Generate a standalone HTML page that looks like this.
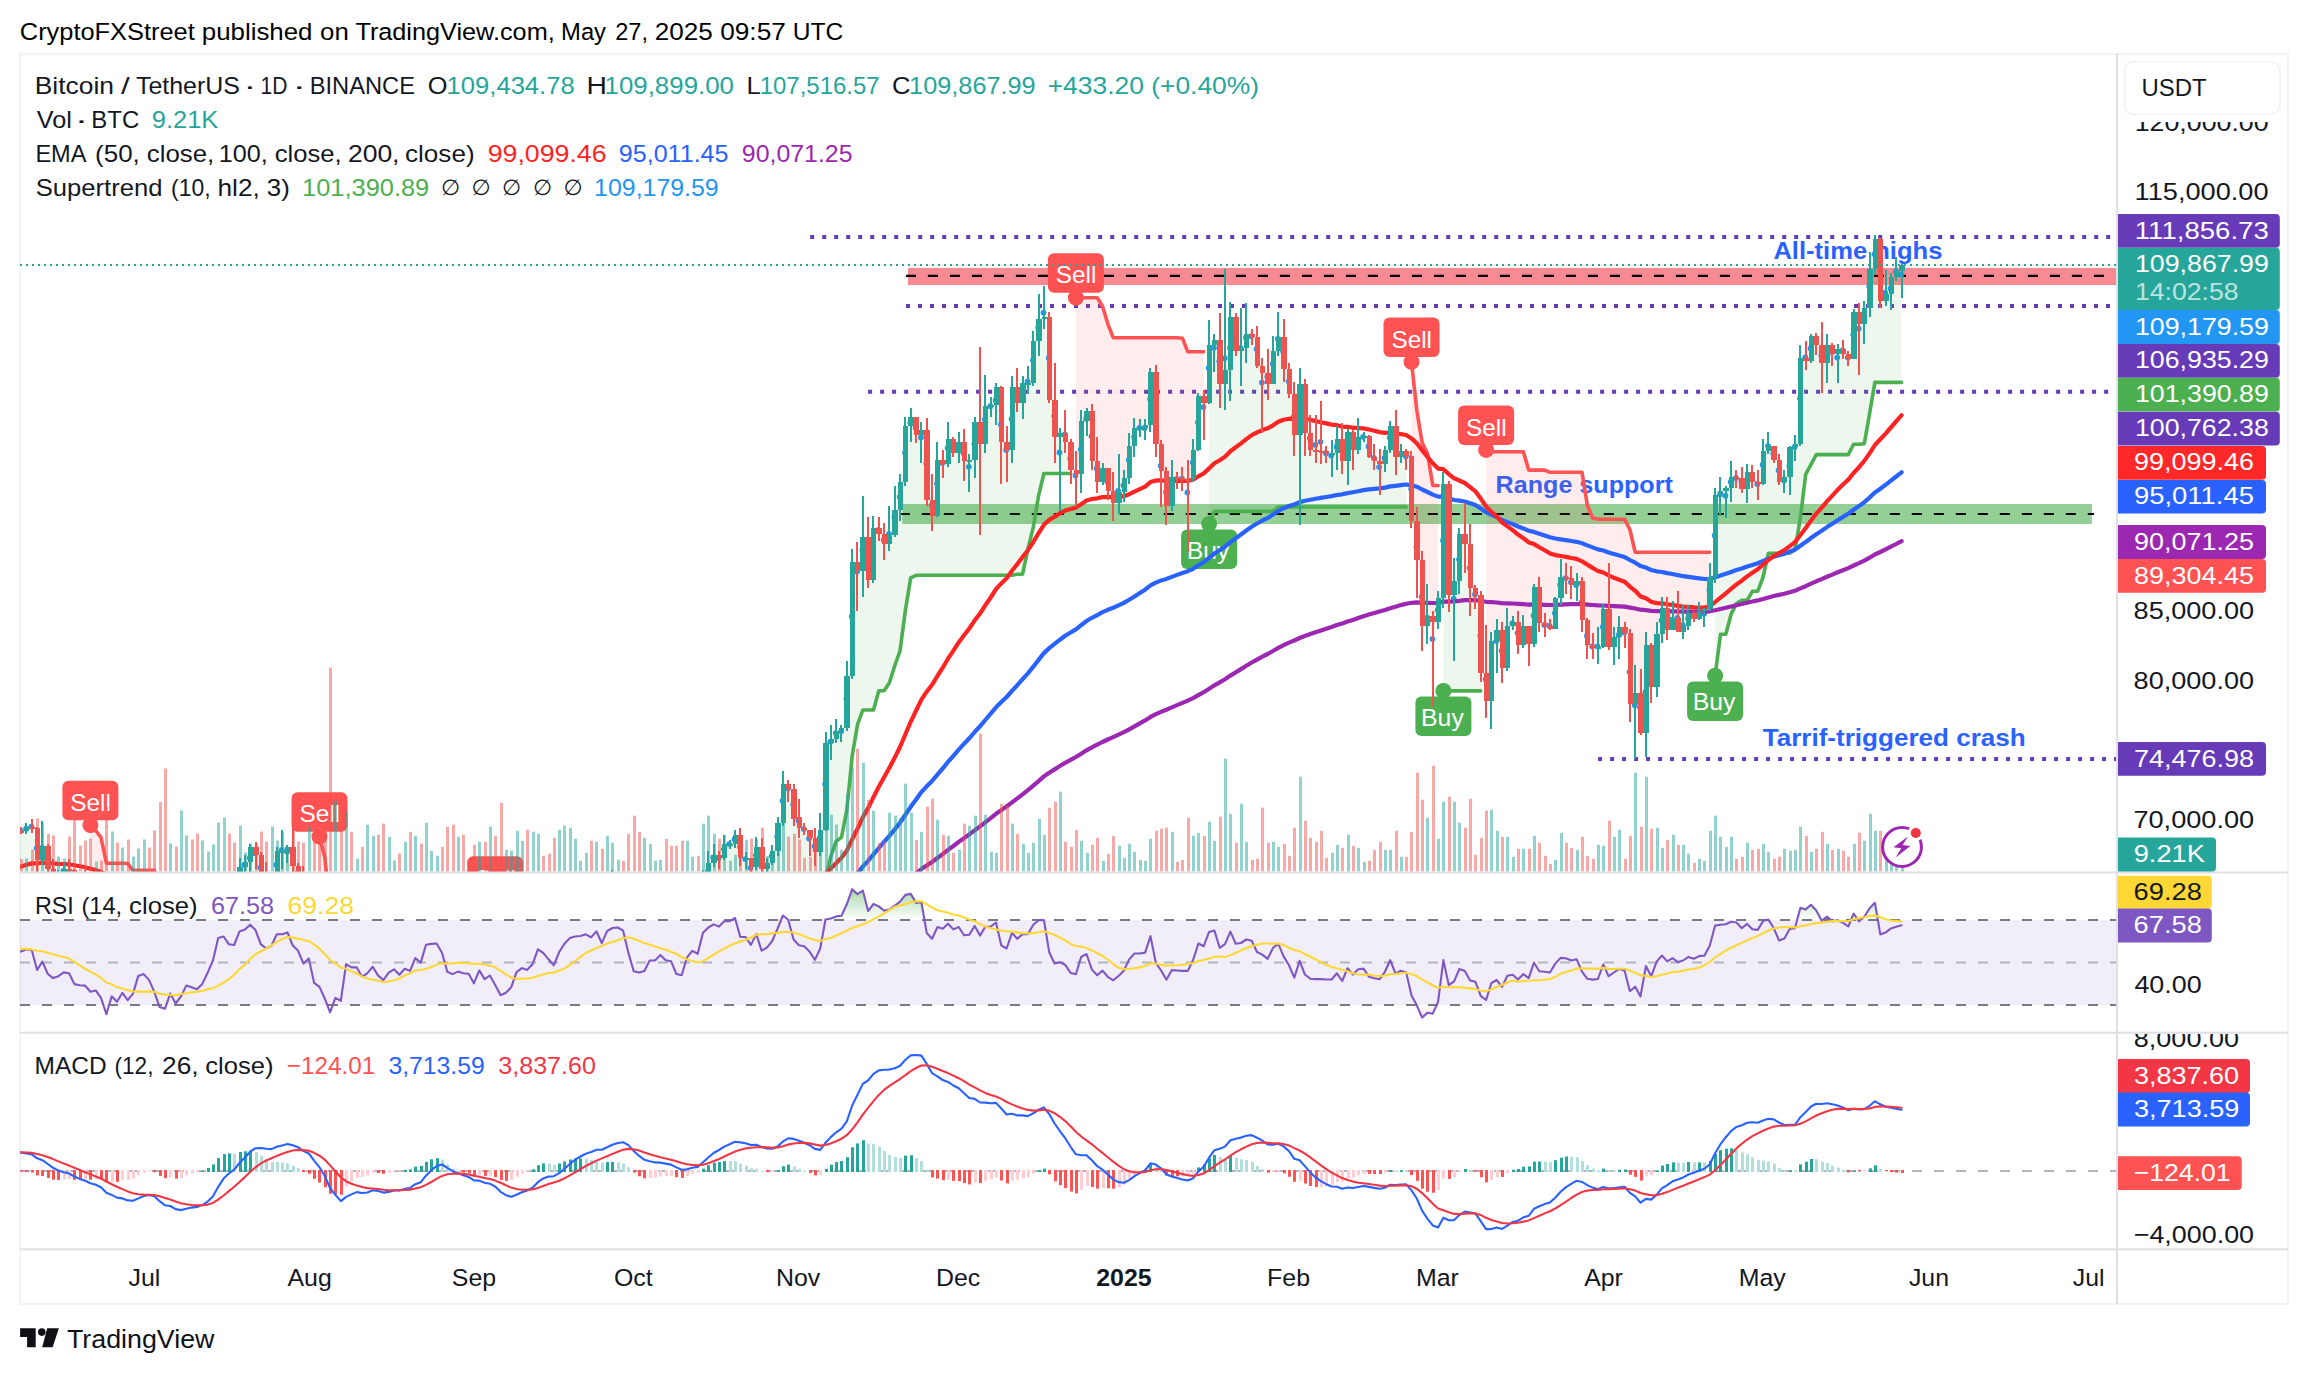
<!DOCTYPE html>
<html lang="en"><head><meta charset="utf-8"><title>BTCUSDT chart</title>
<style>html,body{margin:0;padding:0;background:#fff}body{width:2308px;height:1374px;overflow:hidden}</style></head>
<body>
<svg width="2308" height="1374" viewBox="0 0 2308 1374" font-family="'Liberation Sans', sans-serif" style="display:block">
<rect width="2308" height="1374" fill="#fff"/>
<defs>
<clipPath id="cm"><rect x="20" y="55" width="2097" height="817"/></clipPath>
<clipPath id="cr"><rect x="20" y="874" width="2097" height="158"/></clipPath>
<clipPath id="cd"><rect x="20" y="1034" width="2097" height="215"/></clipPath>
<clipPath id="ca"><rect x="2118" y="122" width="170" height="750"/></clipPath>
<clipPath id="ca3"><rect x="2118" y="1034" width="170" height="215"/></clipPath>
<linearGradient id="gob" gradientUnits="userSpaceOnUse" x1="0" y1="856.2" x2="0" y2="920"><stop offset="0" stop-color="#4caf50" stop-opacity="1"/><stop offset="1" stop-color="#4caf50" stop-opacity="0"/></linearGradient>
<linearGradient id="gos" gradientUnits="userSpaceOnUse" x1="0" y1="1005" x2="0" y2="1068.8"><stop offset="0" stop-color="#ff5252" stop-opacity="0"/><stop offset="1" stop-color="#ff5252" stop-opacity="1"/></linearGradient>
</defs>
<text x="19.8" y="40" font-size="24.5" fill="#000" textLength="175" lengthAdjust="spacingAndGlyphs">CryptoFXStreet</text>
<text x="201.8" y="40" font-size="24.5" fill="#000" textLength="110.7" lengthAdjust="spacingAndGlyphs">published</text>
<text x="320.1" y="40" font-size="24.5" fill="#000" textLength="28.7" lengthAdjust="spacingAndGlyphs">on</text>
<text x="355.4" y="40" font-size="24.5" fill="#000" textLength="199.3" lengthAdjust="spacingAndGlyphs">TradingView.com,</text>
<text x="561.1" y="40" font-size="24.5" fill="#000" textLength="44.9" lengthAdjust="spacingAndGlyphs">May</text>
<text x="615.2" y="40" font-size="24.5" fill="#000" textLength="32.8" lengthAdjust="spacingAndGlyphs">27,</text>
<text x="654.7" y="40" font-size="24.5" fill="#000" textLength="58.1" lengthAdjust="spacingAndGlyphs">2025</text>
<text x="720.2" y="40" font-size="24.5" fill="#000" textLength="65.6" lengthAdjust="spacingAndGlyphs">09:57</text>
<text x="792.7" y="40" font-size="24.5" fill="#000" textLength="50.5" lengthAdjust="spacingAndGlyphs">UTC</text>
<rect x="20.2" y="54.2" width="2267.8" height="1249.7" fill="#fff" stroke="#f1f2f4" stroke-width="2"/>
<g clip-path="url(#cm)">
<rect x="907.9" y="267.9" width="1208.3" height="17.1" fill="#f23645" fill-opacity="0.58"/>
<line x1="905.9" y1="275.9" x2="2116" y2="275.9" stroke="#000" stroke-width="2.2" stroke-dasharray="10.1 11.9"/>
<rect x="902.3" y="504" width="1189.6" height="20" fill="#4caf50" fill-opacity="0.6"/>
<line x1="901" y1="514" x2="2094" y2="514" stroke="#000" stroke-width="2.2" stroke-dasharray="10.1 11.9" stroke-dashoffset="1.2"/>
<line x1="810.2" y1="237" x2="2114" y2="237" stroke="#673ab7" stroke-width="4" stroke-dasharray="4 8"/>
<line x1="906" y1="306" x2="2114" y2="306" stroke="#673ab7" stroke-width="4" stroke-dasharray="4 8"/>
<line x1="868.1" y1="391.7" x2="2114" y2="391.7" stroke="#673ab7" stroke-width="4" stroke-dasharray="4 8"/>
<line x1="1598.1" y1="758.9" x2="2116" y2="758.9" stroke="#673ab7" stroke-width="4" stroke-dasharray="4 8"/>
<text x="1773.4" y="258.5" font-size="24.5" fill="#2962ff" font-weight="bold" textLength="169" lengthAdjust="spacingAndGlyphs">All-time highs</text>
<text x="1495.6" y="493.2" font-size="24.5" fill="#2962ff" font-weight="bold" textLength="177.2" lengthAdjust="spacingAndGlyphs">Range support</text>
<text x="1762.7" y="746" font-size="24.5" fill="#2962ff" font-weight="bold" textLength="263" lengthAdjust="spacingAndGlyphs">Tarrif-triggered crash</text>
<polygon points="-106.7,905.1 -101.4,883.5 -96.1,875 -90.7,862.9 -85.4,869.9 -80.1,838.2 -74.7,812.7 -69.4,825.9 -64.1,844.1 -58.8,848.6 -53.4,836.1 -48.1,837.1 -42.8,832.9 -37.5,839.9 -32.1,849.3 -26.8,847.2 -21.5,850.7 -16.2,854.9 -10.8,852.5 -5.5,840.6 -0.2,825.2 5.2,808.5 10.5,808.8 15.8,819.7 21.1,830.8 26.5,828.7 31.8,826.6 37.1,848.1 42.4,847.9 47.8,858.2 53.1,874.1 58.4,875.5 63.8,871 69.1,872.4 74.4,883.5 79.7,890 85.1,888.2 85.1,893.6 79.7,893.6 74.4,893.6 69.1,893.6 63.8,893.6 58.4,893.6 53.1,893.6 47.8,893.6 42.4,893.6 37.1,893.6 31.8,893.6 26.5,893.6 21.1,893.6 15.8,893.6 10.5,893.6 5.2,893.6 -0.2,914.7 -5.5,922 -10.8,922 -16.2,922 -21.5,922 -26.8,922 -32.1,922 -37.5,922 -42.8,922 -48.1,922 -53.4,922 -58.8,922 -64.1,922 -69.4,922 -74.7,922 -80.1,945.3 -85.4,955.8 -90.7,955.8 -96.1,974.9 -101.4,985.4 -106.7,999.4" fill="#4caf50" fill-opacity="0.1"/>
<polygon points="90.4,900.3 95.7,902.7 101,908.3 106.4,942.5 111.7,947.3 117,941.5 122.4,944.4 127.7,948.5 133,953 138.3,937.6 143.7,922.2 149,926.8 154.3,946.1 159.6,980.6 165,1004.6 170.3,996.8 175.6,1004 180.9,1013.3 186.3,997.7 191.6,991.5 196.9,996.4 202.3,995.5 207.6,981.3 212.9,960.4 212.9,920.9 207.6,920.9 202.3,920.9 196.9,920.9 191.6,920.9 186.3,920.9 180.9,920.9 175.6,912 170.3,912 165,912 159.6,884.2 154.3,870.3 149,870.3 143.7,870.3 138.3,870.3 133,870.3 127.7,863.5 122.4,863.2 117,863.2 111.7,863.2 106.4,863.2 101,837.4 95.7,830.6 90.4,825.2" fill="#ff5252" fill-opacity="0.1"/>
<polygon points="218.2,922.3 223.6,899.2 228.9,894 234.2,903.8 239.5,886.3 244.9,864.7 250.2,858.1 255.5,853.2 260.9,867.5 266.2,879 271.5,888.1 276.8,864.7 282.2,850 287.5,851.4 292.8,851.4 298.1,872.7 303.5,883.9 308.8,898.9 314.1,913.6 314.1,948.3 308.8,948.3 303.5,948.3 298.1,948.3 292.8,948.3 287.5,950.3 282.2,950.3 276.8,954.3 271.5,954.3 266.2,954.3 260.9,954.3 255.5,954.3 250.2,962.7 244.9,964.6 239.5,990.2 234.2,990.2 228.9,990.2 223.6,1006.3 218.2,1019.4" fill="#4caf50" fill-opacity="0.1"/>
<polygon points="319.5,946.4 324.8,971.5 330.1,1032.9 335.4,1027.7 340.8,1019 346.1,981.3 351.4,943.6 356.7,948.2 362.1,965.8 367.4,974.7 372.7,961.4 378,967.5 383.4,986.5 388.7,986.5 394,971 399.4,977.4 404.7,976.7 410,972.1 415.3,959 420.7,951.8 420.7,906.3 415.3,906.3 410,906.3 404.7,906.3 399.4,906.3 394,906.3 388.7,906.3 383.4,906.3 378,906.3 372.7,906.3 367.4,906.3 362.1,906.3 356.7,906.3 351.4,906.3 346.1,906.3 340.8,906.3 335.4,906.3 330.1,906.3 324.8,857.5 319.5,836.7" fill="#ff5252" fill-opacity="0.1"/>
<polygon points="426,930.7 431.3,905.5 436.6,903.4 442,910.5 447.3,948.5 452.6,972.9 458,967 463.3,974.6 468.6,974.3 473.9,986.9 479.3,984.4 484.6,982.7 489.9,997.3 489.9,1005.5 484.6,1005.5 479.3,1005.5 473.9,1005.5 468.6,1005.5 463.3,1005.5 458,1005.5 452.6,1005.5 447.3,1005.5 442,1005.5 436.6,1005.5 431.3,1013.7 426,1044.1" fill="#4caf50" fill-opacity="0.1"/>
<polygon points="495.2,1002.6 500.6,1031.9 505.9,1044.7 511.2,1035.3 516.5,1016.7 521.9,999.5 527.2,996.9 532.5,993.8 537.9,971.9 543.2,957.4 548.5,967.2 553.8,980 559.2,973 559.2,940.9 553.8,940.9 548.5,940.9 543.2,940.9 537.9,940.9 532.5,940.9 527.2,940.9 521.9,940.9 516.5,940.9 511.2,940.9 505.9,940.9 500.6,922.6 495.2,900.8" fill="#ff5252" fill-opacity="0.1"/>
<polygon points="564.5,946.2 569.8,929.9 575.1,918 580.5,915.6 585.8,913.2 591.1,913.5 596.5,909.5 601.8,908.4 607.1,904.7 612.4,883.2 617.8,879.3 623.1,880.7 628.4,900.3 633.7,931.7 639.1,947.8 644.4,951.6 649.7,940.8 655.1,932.1 660.4,927.2 665.7,920.5 671,928.6 676.4,941.8 681.7,956.7 687,939.2 692.3,920.9 697.7,921.2 703,898.9 708.3,871.3 713.6,857.4 719,858.1 724.3,849.3 729.6,844.1 735,839.2 740.3,846.9 745.6,859.1 750.9,867.8 756.3,855.3 761.6,859.1 766.9,865.4 772.2,856 777.6,836.8 782.9,800.8 788.2,788.6 793.6,804.3 798.9,820.7 804.2,829.1 809.5,838.5 814.9,846.2 820.2,837.8 825.5,784.1 830.8,741.8 836.2,733.1 841.5,731.3 846.8,698.9 852.2,616.5 857.5,571.5 862.8,550.2 868.1,555.4 873.5,551.6 878.8,529.9 884.1,540.1 889.4,533.8 894.8,517 900.1,496.8 905.4,452.8 910.7,423.1 916.1,427.7 921.4,437.4 926.7,463.6 932.1,505.2 937.4,483.5 942.7,462.9 948,447.9 953.4,446.5 958.7,447.2 964,453.2 969.3,466.8 974.7,444.1 980,437.1 985.3,419.4 990.7,406.2 996,400.1 1001.3,424.5 1006.6,450 1012,418.9 1017.3,392.4 1022.6,395 1027.9,381.6 1033.3,360.3 1038.6,327.5 1043.9,312.7 1049.2,357.9 1054.6,415.8 1059.9,452.5 1065.2,434.3 1070.6,458.4 1070.6,473.5 1065.2,473.5 1059.9,473.5 1054.6,473.5 1049.2,473.5 1043.9,473.5 1038.6,495.6 1033.3,527.1 1027.9,549.3 1022.6,574.2 1017.3,574.2 1012,575.3 1006.6,575.3 1001.3,575.3 996,575.3 990.7,575.3 985.3,575.3 980,575.3 974.7,575.3 969.3,575.3 964,575.3 958.7,575.3 953.4,575.3 948,575.3 942.7,575.3 937.4,575.3 932.1,575.3 926.7,575.3 921.4,575.3 916.1,575.3 910.7,577.8 905.4,610.1 900.1,650.6 894.8,665.7 889.4,682.8 884.1,690.7 878.8,690.7 873.5,710 868.1,710 862.8,710 857.5,724.7 852.2,756 846.8,810.2 841.5,837.4 836.2,841.2 830.8,856.7 825.5,880.1 820.2,880.1 814.9,880.1 809.5,880.1 804.2,880.1 798.9,880.1 793.6,880.1 788.2,880.1 782.9,890.3 777.6,917.1 772.2,917.1 766.9,917.1 761.6,917.1 756.3,917.1 750.9,917.1 745.6,917.1 740.3,917.1 735,917.1 729.6,925.3 724.3,934.6 719,947.2 713.6,947.2 708.3,956.2 703,956.2 697.7,956.2 692.3,956.2 687,956.2 681.7,956.2 676.4,956.2 671,956.2 665.7,956.2 660.4,956.2 655.1,956.2 649.7,956.2 644.4,956.2 639.1,956.2 633.7,956.2 628.4,956.2 623.1,956.2 617.8,959.9 612.4,967.5 607.1,989.1 601.8,989.1 596.5,989.9 591.1,991.9 585.8,995.1 580.5,1000.8 575.1,1008.7 569.8,1025.2 564.5,1040.5" fill="#4caf50" fill-opacity="0.1"/>
<polygon points="1075.9,475.5 1081.2,449.3 1086.5,418.9 1091.9,436.4 1097.2,468.5 1102.5,474.4 1107.8,481.8 1113.2,496.8 1118.5,490.9 1123.8,485.3 1129.2,460.1 1134.5,437.1 1139.8,428 1145.1,428 1150.5,399.1 1155.8,409.5 1161.1,465.7 1166.4,492.2 1171.8,488.4 1177.1,479 1182.4,478.6 1187.8,492.4 1193.1,462.6 1198.4,422.4 1203.7,407.1 1203.7,351.8 1198.4,351.8 1193.1,351.8 1187.8,351.8 1182.4,338.2 1177.1,337.7 1171.8,337.7 1166.4,337.7 1161.1,337.7 1155.8,337.7 1150.5,337.7 1145.1,337.7 1139.8,337.7 1134.5,337.7 1129.2,337.7 1123.8,337.7 1118.5,337.7 1113.2,337.7 1107.8,323.8 1102.5,306.2 1097.2,297.7 1091.9,297.7 1086.5,297.7 1081.2,297.7 1075.9,297.7" fill="#ff5252" fill-opacity="0.1"/>
<polygon points="1209.1,368 1214.4,347.7 1219.7,361.4 1225,358.2 1230.4,347.7 1235.7,334.5 1241,348.1 1246.3,337.3 1251.7,336.2 1257,349.1 1262.3,382.6 1267.7,376.7 1273,363.8 1278.3,339 1283.6,351.6 1289,381.3 1294.3,416.5 1299.6,428 1304.9,413 1310.3,438.5 1315.6,444.8 1320.9,441.8 1326.3,453.2 1331.6,455.6 1336.9,446.9 1342.2,449.3 1347.6,451.8 1352.9,445.1 1358.2,439.9 1363.5,436.8 1368.9,446.5 1374.2,458 1379.5,467.1 1384.9,458 1390.2,437.4 1395.5,442 1400.8,453.9 1406.2,456.3 1406.2,507 1400.8,507 1395.5,507 1390.2,507 1384.9,507 1379.5,507 1374.2,507 1368.9,507 1363.5,507 1358.2,507 1352.9,507 1347.6,507 1342.2,507 1336.9,507 1331.6,507 1326.3,507 1320.9,507 1315.6,507 1310.3,507 1304.9,507 1299.6,507 1294.3,507 1289,507 1283.6,507 1278.3,507 1273,511.4 1267.7,511.4 1262.3,511.4 1257,511.4 1251.7,511.4 1246.3,511.4 1241,511.4 1235.7,511.4 1230.4,511.4 1225,511.4 1219.7,511.4 1214.4,511.4 1209.1,523.9" fill="#4caf50" fill-opacity="0.1"/>
<polygon points="1411.5,489.1 1416.8,546.7 1422.1,597 1427.5,617.6 1432.8,638.9 1438.1,609.9 1438.1,485.5 1432.8,485.5 1427.5,453.6 1422.1,442.6 1416.8,410.3 1411.5,361.9" fill="#ff5252" fill-opacity="0.1"/>
<polygon points="1443.4,540.4 1448.8,542.9 1454.1,598.7 1459.4,559.3 1464.8,538.3 1470.1,568 1475.4,594.5 1480.7,635.4 1480.7,690.9 1475.4,690.9 1470.1,690.9 1464.8,690.9 1459.4,690.9 1454.1,690.9 1448.8,690.9 1443.4,690.9" fill="#4caf50" fill-opacity="0.1"/>
<polygon points="1486.1,679.3 1491.4,675.8 1496.7,640.9 1502,650.7 1507.4,643 1512.7,623.5 1518,632.9 1523.4,633.6 1528.7,640.6 1534,615.5 1539.3,604.6 1544.7,624.9 1550,625.9 1555.3,613 1560.6,584.7 1566,578.1 1571.3,582.3 1576.6,585.1 1582,602.5 1587.3,635.7 1592.6,646.5 1597.9,646.5 1603.3,627 1608.6,617.2 1613.9,644.1 1619.2,635 1624.6,632.6 1629.9,672 1635.2,705.2 1640.5,707.6 1645.9,691.9 1651.2,669.6 1656.5,660.1 1661.9,620.4 1667.2,618.6 1672.5,619.7 1677.8,617.9 1683.2,625.2 1688.5,618.6 1693.8,616.2 1699.1,613 1704.5,613.7 1709.8,590 1709.8,552.3 1704.5,552.3 1699.1,552.3 1693.8,552.3 1688.5,552.3 1683.2,552.3 1677.8,552.3 1672.5,552.3 1667.2,552.3 1661.9,552.3 1656.5,552.3 1651.2,552.3 1645.9,552.3 1640.5,552.3 1635.2,552.3 1629.9,529.5 1624.6,519.3 1619.2,519.3 1613.9,519.3 1608.6,519.3 1603.3,519.3 1597.9,519.3 1592.6,518.1 1587.3,505 1582,472.3 1576.6,472.3 1571.3,472.3 1566,472.3 1560.6,472.3 1555.3,472.3 1550,472.3 1544.7,470.1 1539.3,470.1 1534,470.1 1528.7,470.1 1523.4,451.8 1518,451.8 1512.7,451.8 1507.4,451.8 1502,451.8 1496.7,451.8 1491.4,451.8 1486.1,449.9" fill="#ff5252" fill-opacity="0.1"/>
<polygon points="1715.1,535.5 1720.5,494.3 1725.8,495.7 1731.1,481.8 1736.4,477.9 1741.8,481.8 1747.1,482.1 1752.4,476.9 1757.7,483.9 1763.1,464.7 1768.4,445.8 1773.7,453.5 1779,470.3 1784.4,480.4 1789.7,466.1 1795,446.9 1800.4,398.4 1805.7,357.5 1811,348.4 1816.3,342.2 1821.7,355.8 1827,356.5 1832.3,351.9 1837.6,357.5 1843,350.5 1848.3,357.5 1853.6,334.8 1859,328.5 1864.3,319.1 1869.6,286.3 1874.9,254.3 1880.3,271.3 1885.6,292.6 1890.9,288.4 1896.2,271.5 1901.6,274.4 1901.6,382.4 1896.2,382.4 1890.9,382.4 1885.6,382.4 1880.3,382.4 1874.9,382.4 1869.6,413.5 1864.3,443.7 1859,444.3 1853.6,444.3 1848.3,454.6 1843,454.6 1837.6,454.6 1832.3,454.6 1827,454.6 1821.7,454.6 1816.3,454.6 1811,464.3 1805.7,474.4 1800.4,517.6 1795,550 1789.7,553.3 1784.4,553.3 1779,553.3 1773.7,553.3 1768.4,553.3 1763.1,577 1757.7,591.3 1752.4,591.3 1747.1,600.4 1741.8,600.4 1736.4,603.6 1731.1,614.2 1725.8,634.3 1720.5,634.3 1715.1,675.7" fill="#4caf50" fill-opacity="0.1"/>
<polyline points="-106.7,999.4 -101.4,985.4 -96.1,974.9 -90.7,955.8 -85.4,955.8 -80.1,945.3 -74.7,922 -69.4,922 -64.1,922 -58.8,922 -53.4,922 -48.1,922 -42.8,922 -37.5,922 -32.1,922 -26.8,922 -21.5,922 -16.2,922 -10.8,922 -5.5,922 -0.2,914.7 5.2,893.6 10.5,893.6 15.8,893.6 21.1,893.6 26.5,893.6 31.8,893.6 37.1,893.6 42.4,893.6 47.8,893.6 53.1,893.6 58.4,893.6 63.8,893.6 69.1,893.6 74.4,893.6 79.7,893.6 85.1,893.6" fill="none" stroke="#4caf50" stroke-width="3.6" stroke-linejoin="round" stroke-linecap="round"/>
<polyline points="90.4,825.2 95.7,830.6 101,837.4 106.4,863.2 111.7,863.2 117,863.2 122.4,863.2 127.7,863.5 133,870.3 138.3,870.3 143.7,870.3 149,870.3 154.3,870.3 159.6,884.2 165,912 170.3,912 175.6,912 180.9,920.9 186.3,920.9 191.6,920.9 196.9,920.9 202.3,920.9 207.6,920.9 212.9,920.9" fill="none" stroke="#ff5252" stroke-width="3.6" stroke-linejoin="round" stroke-linecap="round"/>
<polyline points="218.2,1019.4 223.6,1006.3 228.9,990.2 234.2,990.2 239.5,990.2 244.9,964.6 250.2,962.7 255.5,954.3 260.9,954.3 266.2,954.3 271.5,954.3 276.8,954.3 282.2,950.3 287.5,950.3 292.8,948.3 298.1,948.3 303.5,948.3 308.8,948.3 314.1,948.3" fill="none" stroke="#4caf50" stroke-width="3.6" stroke-linejoin="round" stroke-linecap="round"/>
<polyline points="319.5,836.7 324.8,857.5 330.1,906.3 335.4,906.3 340.8,906.3 346.1,906.3 351.4,906.3 356.7,906.3 362.1,906.3 367.4,906.3 372.7,906.3 378,906.3 383.4,906.3 388.7,906.3 394,906.3 399.4,906.3 404.7,906.3 410,906.3 415.3,906.3 420.7,906.3" fill="none" stroke="#ff5252" stroke-width="3.6" stroke-linejoin="round" stroke-linecap="round"/>
<polyline points="426,1044.1 431.3,1013.7 436.6,1005.5 442,1005.5 447.3,1005.5 452.6,1005.5 458,1005.5 463.3,1005.5 468.6,1005.5 473.9,1005.5 479.3,1005.5 484.6,1005.5 489.9,1005.5" fill="none" stroke="#4caf50" stroke-width="3.6" stroke-linejoin="round" stroke-linecap="round"/>
<polyline points="495.2,900.8 500.6,922.6 505.9,940.9 511.2,940.9 516.5,940.9 521.9,940.9 527.2,940.9 532.5,940.9 537.9,940.9 543.2,940.9 548.5,940.9 553.8,940.9 559.2,940.9" fill="none" stroke="#ff5252" stroke-width="3.6" stroke-linejoin="round" stroke-linecap="round"/>
<polyline points="564.5,1040.5 569.8,1025.2 575.1,1008.7 580.5,1000.8 585.8,995.1 591.1,991.9 596.5,989.9 601.8,989.1 607.1,989.1 612.4,967.5 617.8,959.9 623.1,956.2 628.4,956.2 633.7,956.2 639.1,956.2 644.4,956.2 649.7,956.2 655.1,956.2 660.4,956.2 665.7,956.2 671,956.2 676.4,956.2 681.7,956.2 687,956.2 692.3,956.2 697.7,956.2 703,956.2 708.3,956.2 713.6,947.2 719,947.2 724.3,934.6 729.6,925.3 735,917.1 740.3,917.1 745.6,917.1 750.9,917.1 756.3,917.1 761.6,917.1 766.9,917.1 772.2,917.1 777.6,917.1 782.9,890.3 788.2,880.1 793.6,880.1 798.9,880.1 804.2,880.1 809.5,880.1 814.9,880.1 820.2,880.1 825.5,880.1 830.8,856.7 836.2,841.2 841.5,837.4 846.8,810.2 852.2,756 857.5,724.7 862.8,710 868.1,710 873.5,710 878.8,690.7 884.1,690.7 889.4,682.8 894.8,665.7 900.1,650.6 905.4,610.1 910.7,577.8 916.1,575.3 921.4,575.3 926.7,575.3 932.1,575.3 937.4,575.3 942.7,575.3 948,575.3 953.4,575.3 958.7,575.3 964,575.3 969.3,575.3 974.7,575.3 980,575.3 985.3,575.3 990.7,575.3 996,575.3 1001.3,575.3 1006.6,575.3 1012,575.3 1017.3,574.2 1022.6,574.2 1027.9,549.3 1033.3,527.1 1038.6,495.6 1043.9,473.5 1049.2,473.5 1054.6,473.5 1059.9,473.5 1065.2,473.5 1070.6,473.5" fill="none" stroke="#4caf50" stroke-width="3.6" stroke-linejoin="round" stroke-linecap="round"/>
<polyline points="1075.9,297.7 1081.2,297.7 1086.5,297.7 1091.9,297.7 1097.2,297.7 1102.5,306.2 1107.8,323.8 1113.2,337.7 1118.5,337.7 1123.8,337.7 1129.2,337.7 1134.5,337.7 1139.8,337.7 1145.1,337.7 1150.5,337.7 1155.8,337.7 1161.1,337.7 1166.4,337.7 1171.8,337.7 1177.1,337.7 1182.4,338.2 1187.8,351.8 1193.1,351.8 1198.4,351.8 1203.7,351.8" fill="none" stroke="#ff5252" stroke-width="3.6" stroke-linejoin="round" stroke-linecap="round"/>
<polyline points="1209.1,523.9 1214.4,511.4 1219.7,511.4 1225,511.4 1230.4,511.4 1235.7,511.4 1241,511.4 1246.3,511.4 1251.7,511.4 1257,511.4 1262.3,511.4 1267.7,511.4 1273,511.4 1278.3,507 1283.6,507 1289,507 1294.3,507 1299.6,507 1304.9,507 1310.3,507 1315.6,507 1320.9,507 1326.3,507 1331.6,507 1336.9,507 1342.2,507 1347.6,507 1352.9,507 1358.2,507 1363.5,507 1368.9,507 1374.2,507 1379.5,507 1384.9,507 1390.2,507 1395.5,507 1400.8,507 1406.2,507" fill="none" stroke="#4caf50" stroke-width="3.6" stroke-linejoin="round" stroke-linecap="round"/>
<polyline points="1411.5,361.9 1416.8,410.3 1422.1,442.6 1427.5,453.6 1432.8,485.5 1438.1,485.5" fill="none" stroke="#ff5252" stroke-width="3.6" stroke-linejoin="round" stroke-linecap="round"/>
<polyline points="1443.4,690.9 1448.8,690.9 1454.1,690.9 1459.4,690.9 1464.8,690.9 1470.1,690.9 1475.4,690.9 1480.7,690.9" fill="none" stroke="#4caf50" stroke-width="3.6" stroke-linejoin="round" stroke-linecap="round"/>
<polyline points="1486.1,449.9 1491.4,451.8 1496.7,451.8 1502,451.8 1507.4,451.8 1512.7,451.8 1518,451.8 1523.4,451.8 1528.7,470.1 1534,470.1 1539.3,470.1 1544.7,470.1 1550,472.3 1555.3,472.3 1560.6,472.3 1566,472.3 1571.3,472.3 1576.6,472.3 1582,472.3 1587.3,505 1592.6,518.1 1597.9,519.3 1603.3,519.3 1608.6,519.3 1613.9,519.3 1619.2,519.3 1624.6,519.3 1629.9,529.5 1635.2,552.3 1640.5,552.3 1645.9,552.3 1651.2,552.3 1656.5,552.3 1661.9,552.3 1667.2,552.3 1672.5,552.3 1677.8,552.3 1683.2,552.3 1688.5,552.3 1693.8,552.3 1699.1,552.3 1704.5,552.3 1709.8,552.3" fill="none" stroke="#ff5252" stroke-width="3.6" stroke-linejoin="round" stroke-linecap="round"/>
<polyline points="1715.1,675.7 1720.5,634.3 1725.8,634.3 1731.1,614.2 1736.4,603.6 1741.8,600.4 1747.1,600.4 1752.4,591.3 1757.7,591.3 1763.1,577 1768.4,553.3 1773.7,553.3 1779,553.3 1784.4,553.3 1789.7,553.3 1795,550 1800.4,517.6 1805.7,474.4 1811,464.3 1816.3,454.6 1821.7,454.6 1827,454.6 1832.3,454.6 1837.6,454.6 1843,454.6 1848.3,454.6 1853.6,444.3 1859,444.3 1864.3,443.7 1869.6,413.5 1874.9,382.4 1880.3,382.4 1885.6,382.4 1890.9,382.4 1896.2,382.4 1901.6,382.4" fill="none" stroke="#4caf50" stroke-width="3.6" stroke-linejoin="round" stroke-linecap="round"/>
<circle cx="20.7" cy="830.8" r="2.9" fill="#2196f3"/>
<circle cx="26.1" cy="828.7" r="2.9" fill="#2196f3"/>
<circle cx="31.4" cy="826.6" r="2.9" fill="#2196f3"/>
<circle cx="36.7" cy="848.1" r="2.9" fill="#2196f3"/>
<circle cx="42" cy="847.9" r="2.9" fill="#2196f3"/>
<circle cx="47.4" cy="858.2" r="2.9" fill="#2196f3"/>
<circle cx="52.7" cy="874.1" r="2.9" fill="#2196f3"/>
<circle cx="58" cy="875.5" r="2.9" fill="#2196f3"/>
<circle cx="63.4" cy="871" r="2.9" fill="#2196f3"/>
<circle cx="68.7" cy="872.4" r="2.9" fill="#2196f3"/>
<circle cx="74" cy="883.5" r="2.9" fill="#2196f3"/>
<circle cx="79.3" cy="890" r="2.9" fill="#2196f3"/>
<circle cx="84.7" cy="888.2" r="2.9" fill="#2196f3"/>
<circle cx="90" cy="900.3" r="2.9" fill="#2196f3"/>
<circle cx="95.3" cy="902.7" r="2.9" fill="#2196f3"/>
<circle cx="100.6" cy="908.3" r="2.9" fill="#2196f3"/>
<circle cx="106" cy="942.5" r="2.9" fill="#2196f3"/>
<circle cx="111.3" cy="947.3" r="2.9" fill="#2196f3"/>
<circle cx="116.6" cy="941.5" r="2.9" fill="#2196f3"/>
<circle cx="122" cy="944.4" r="2.9" fill="#2196f3"/>
<circle cx="127.3" cy="948.5" r="2.9" fill="#2196f3"/>
<circle cx="132.6" cy="953" r="2.9" fill="#2196f3"/>
<circle cx="137.9" cy="937.6" r="2.9" fill="#2196f3"/>
<circle cx="143.3" cy="922.2" r="2.9" fill="#2196f3"/>
<circle cx="148.6" cy="926.8" r="2.9" fill="#2196f3"/>
<circle cx="153.9" cy="946.1" r="2.9" fill="#2196f3"/>
<circle cx="159.2" cy="980.6" r="2.9" fill="#2196f3"/>
<circle cx="164.6" cy="1004.6" r="2.9" fill="#2196f3"/>
<circle cx="169.9" cy="996.8" r="2.9" fill="#2196f3"/>
<circle cx="175.2" cy="1004" r="2.9" fill="#2196f3"/>
<circle cx="180.5" cy="1013.3" r="2.9" fill="#2196f3"/>
<circle cx="185.9" cy="997.7" r="2.9" fill="#2196f3"/>
<circle cx="191.2" cy="991.5" r="2.9" fill="#2196f3"/>
<circle cx="196.5" cy="996.4" r="2.9" fill="#2196f3"/>
<circle cx="201.9" cy="995.5" r="2.9" fill="#2196f3"/>
<circle cx="207.2" cy="981.3" r="2.9" fill="#2196f3"/>
<circle cx="212.5" cy="960.4" r="2.9" fill="#2196f3"/>
<circle cx="217.8" cy="922.3" r="2.9" fill="#2196f3"/>
<circle cx="223.2" cy="899.2" r="2.9" fill="#2196f3"/>
<circle cx="228.5" cy="894" r="2.9" fill="#2196f3"/>
<circle cx="233.8" cy="903.8" r="2.9" fill="#2196f3"/>
<circle cx="239.1" cy="886.3" r="2.9" fill="#2196f3"/>
<circle cx="244.5" cy="864.7" r="2.9" fill="#2196f3"/>
<circle cx="249.8" cy="858.1" r="2.9" fill="#2196f3"/>
<circle cx="255.1" cy="853.2" r="2.9" fill="#2196f3"/>
<circle cx="260.5" cy="867.5" r="2.9" fill="#2196f3"/>
<circle cx="265.8" cy="879" r="2.9" fill="#2196f3"/>
<circle cx="271.1" cy="888.1" r="2.9" fill="#2196f3"/>
<circle cx="276.4" cy="864.7" r="2.9" fill="#2196f3"/>
<circle cx="281.8" cy="850" r="2.9" fill="#2196f3"/>
<circle cx="287.1" cy="851.4" r="2.9" fill="#2196f3"/>
<circle cx="292.4" cy="851.4" r="2.9" fill="#2196f3"/>
<circle cx="297.7" cy="872.7" r="2.9" fill="#2196f3"/>
<circle cx="303.1" cy="883.9" r="2.9" fill="#2196f3"/>
<circle cx="308.4" cy="898.9" r="2.9" fill="#2196f3"/>
<circle cx="313.7" cy="913.6" r="2.9" fill="#2196f3"/>
<circle cx="319.1" cy="946.4" r="2.9" fill="#2196f3"/>
<circle cx="324.4" cy="971.5" r="2.9" fill="#2196f3"/>
<circle cx="329.7" cy="1032.9" r="2.9" fill="#2196f3"/>
<circle cx="335" cy="1027.7" r="2.9" fill="#2196f3"/>
<circle cx="340.4" cy="1019" r="2.9" fill="#2196f3"/>
<circle cx="345.7" cy="981.3" r="2.9" fill="#2196f3"/>
<circle cx="351" cy="943.6" r="2.9" fill="#2196f3"/>
<circle cx="356.3" cy="948.2" r="2.9" fill="#2196f3"/>
<circle cx="361.7" cy="965.8" r="2.9" fill="#2196f3"/>
<circle cx="367" cy="974.7" r="2.9" fill="#2196f3"/>
<circle cx="372.3" cy="961.4" r="2.9" fill="#2196f3"/>
<circle cx="377.6" cy="967.5" r="2.9" fill="#2196f3"/>
<circle cx="383" cy="986.5" r="2.9" fill="#2196f3"/>
<circle cx="388.3" cy="986.5" r="2.9" fill="#2196f3"/>
<circle cx="393.6" cy="971" r="2.9" fill="#2196f3"/>
<circle cx="399" cy="977.4" r="2.9" fill="#2196f3"/>
<circle cx="404.3" cy="976.7" r="2.9" fill="#2196f3"/>
<circle cx="409.6" cy="972.1" r="2.9" fill="#2196f3"/>
<circle cx="414.9" cy="959" r="2.9" fill="#2196f3"/>
<circle cx="420.3" cy="951.8" r="2.9" fill="#2196f3"/>
<circle cx="425.6" cy="930.7" r="2.9" fill="#2196f3"/>
<circle cx="430.9" cy="905.5" r="2.9" fill="#2196f3"/>
<circle cx="436.2" cy="903.4" r="2.9" fill="#2196f3"/>
<circle cx="441.6" cy="910.5" r="2.9" fill="#2196f3"/>
<circle cx="446.9" cy="948.5" r="2.9" fill="#2196f3"/>
<circle cx="452.2" cy="972.9" r="2.9" fill="#2196f3"/>
<circle cx="457.6" cy="967" r="2.9" fill="#2196f3"/>
<circle cx="462.9" cy="974.6" r="2.9" fill="#2196f3"/>
<circle cx="468.2" cy="974.3" r="2.9" fill="#2196f3"/>
<circle cx="473.5" cy="986.9" r="2.9" fill="#2196f3"/>
<circle cx="478.9" cy="984.4" r="2.9" fill="#2196f3"/>
<circle cx="484.2" cy="982.7" r="2.9" fill="#2196f3"/>
<circle cx="489.5" cy="997.3" r="2.9" fill="#2196f3"/>
<circle cx="494.8" cy="1002.6" r="2.9" fill="#2196f3"/>
<circle cx="500.2" cy="1031.9" r="2.9" fill="#2196f3"/>
<circle cx="505.5" cy="1044.7" r="2.9" fill="#2196f3"/>
<circle cx="510.8" cy="1035.3" r="2.9" fill="#2196f3"/>
<circle cx="516.1" cy="1016.7" r="2.9" fill="#2196f3"/>
<circle cx="521.5" cy="999.5" r="2.9" fill="#2196f3"/>
<circle cx="526.8" cy="996.9" r="2.9" fill="#2196f3"/>
<circle cx="532.1" cy="993.8" r="2.9" fill="#2196f3"/>
<circle cx="537.5" cy="971.9" r="2.9" fill="#2196f3"/>
<circle cx="542.8" cy="957.4" r="2.9" fill="#2196f3"/>
<circle cx="548.1" cy="967.2" r="2.9" fill="#2196f3"/>
<circle cx="553.4" cy="980" r="2.9" fill="#2196f3"/>
<circle cx="558.8" cy="973" r="2.9" fill="#2196f3"/>
<circle cx="564.1" cy="946.2" r="2.9" fill="#2196f3"/>
<circle cx="569.4" cy="929.9" r="2.9" fill="#2196f3"/>
<circle cx="574.7" cy="918" r="2.9" fill="#2196f3"/>
<circle cx="580.1" cy="915.6" r="2.9" fill="#2196f3"/>
<circle cx="585.4" cy="913.2" r="2.9" fill="#2196f3"/>
<circle cx="590.7" cy="913.5" r="2.9" fill="#2196f3"/>
<circle cx="596.1" cy="909.5" r="2.9" fill="#2196f3"/>
<circle cx="601.4" cy="908.4" r="2.9" fill="#2196f3"/>
<circle cx="606.7" cy="904.7" r="2.9" fill="#2196f3"/>
<circle cx="612" cy="883.2" r="2.9" fill="#2196f3"/>
<circle cx="617.4" cy="879.3" r="2.9" fill="#2196f3"/>
<circle cx="622.7" cy="880.7" r="2.9" fill="#2196f3"/>
<circle cx="628" cy="900.3" r="2.9" fill="#2196f3"/>
<circle cx="633.3" cy="931.7" r="2.9" fill="#2196f3"/>
<circle cx="638.7" cy="947.8" r="2.9" fill="#2196f3"/>
<circle cx="644" cy="951.6" r="2.9" fill="#2196f3"/>
<circle cx="649.3" cy="940.8" r="2.9" fill="#2196f3"/>
<circle cx="654.7" cy="932.1" r="2.9" fill="#2196f3"/>
<circle cx="660" cy="927.2" r="2.9" fill="#2196f3"/>
<circle cx="665.3" cy="920.5" r="2.9" fill="#2196f3"/>
<circle cx="670.6" cy="928.6" r="2.9" fill="#2196f3"/>
<circle cx="676" cy="941.8" r="2.9" fill="#2196f3"/>
<circle cx="681.3" cy="956.7" r="2.9" fill="#2196f3"/>
<circle cx="686.6" cy="939.2" r="2.9" fill="#2196f3"/>
<circle cx="691.9" cy="920.9" r="2.9" fill="#2196f3"/>
<circle cx="697.3" cy="921.2" r="2.9" fill="#2196f3"/>
<circle cx="702.6" cy="898.9" r="2.9" fill="#2196f3"/>
<circle cx="707.9" cy="871.3" r="2.9" fill="#2196f3"/>
<circle cx="713.2" cy="857.4" r="2.9" fill="#2196f3"/>
<circle cx="718.6" cy="858.1" r="2.9" fill="#2196f3"/>
<circle cx="723.9" cy="849.3" r="2.9" fill="#2196f3"/>
<circle cx="729.2" cy="844.1" r="2.9" fill="#2196f3"/>
<circle cx="734.6" cy="839.2" r="2.9" fill="#2196f3"/>
<circle cx="739.9" cy="846.9" r="2.9" fill="#2196f3"/>
<circle cx="745.2" cy="859.1" r="2.9" fill="#2196f3"/>
<circle cx="750.5" cy="867.8" r="2.9" fill="#2196f3"/>
<circle cx="755.9" cy="855.3" r="2.9" fill="#2196f3"/>
<circle cx="761.2" cy="859.1" r="2.9" fill="#2196f3"/>
<circle cx="766.5" cy="865.4" r="2.9" fill="#2196f3"/>
<circle cx="771.8" cy="856" r="2.9" fill="#2196f3"/>
<circle cx="777.2" cy="836.8" r="2.9" fill="#2196f3"/>
<circle cx="782.5" cy="800.8" r="2.9" fill="#2196f3"/>
<circle cx="787.8" cy="788.6" r="2.9" fill="#2196f3"/>
<circle cx="793.2" cy="804.3" r="2.9" fill="#2196f3"/>
<circle cx="798.5" cy="820.7" r="2.9" fill="#2196f3"/>
<circle cx="803.8" cy="829.1" r="2.9" fill="#2196f3"/>
<circle cx="809.1" cy="838.5" r="2.9" fill="#2196f3"/>
<circle cx="814.5" cy="846.2" r="2.9" fill="#2196f3"/>
<circle cx="819.8" cy="837.8" r="2.9" fill="#2196f3"/>
<circle cx="825.1" cy="784.1" r="2.9" fill="#2196f3"/>
<circle cx="830.4" cy="741.8" r="2.9" fill="#2196f3"/>
<circle cx="835.8" cy="733.1" r="2.9" fill="#2196f3"/>
<circle cx="841.1" cy="731.3" r="2.9" fill="#2196f3"/>
<circle cx="846.4" cy="698.9" r="2.9" fill="#2196f3"/>
<circle cx="851.8" cy="616.5" r="2.9" fill="#2196f3"/>
<circle cx="857.1" cy="571.5" r="2.9" fill="#2196f3"/>
<circle cx="862.4" cy="550.2" r="2.9" fill="#2196f3"/>
<circle cx="867.7" cy="555.4" r="2.9" fill="#2196f3"/>
<circle cx="873.1" cy="551.6" r="2.9" fill="#2196f3"/>
<circle cx="878.4" cy="529.9" r="2.9" fill="#2196f3"/>
<circle cx="883.7" cy="540.1" r="2.9" fill="#2196f3"/>
<circle cx="889" cy="533.8" r="2.9" fill="#2196f3"/>
<circle cx="894.4" cy="517" r="2.9" fill="#2196f3"/>
<circle cx="899.7" cy="496.8" r="2.9" fill="#2196f3"/>
<circle cx="905" cy="452.8" r="2.9" fill="#2196f3"/>
<circle cx="910.3" cy="423.1" r="2.9" fill="#2196f3"/>
<circle cx="915.7" cy="427.7" r="2.9" fill="#2196f3"/>
<circle cx="921" cy="437.4" r="2.9" fill="#2196f3"/>
<circle cx="926.3" cy="463.6" r="2.9" fill="#2196f3"/>
<circle cx="931.7" cy="505.2" r="2.9" fill="#2196f3"/>
<circle cx="937" cy="483.5" r="2.9" fill="#2196f3"/>
<circle cx="942.3" cy="462.9" r="2.9" fill="#2196f3"/>
<circle cx="947.6" cy="447.9" r="2.9" fill="#2196f3"/>
<circle cx="953" cy="446.5" r="2.9" fill="#2196f3"/>
<circle cx="958.3" cy="447.2" r="2.9" fill="#2196f3"/>
<circle cx="963.6" cy="453.2" r="2.9" fill="#2196f3"/>
<circle cx="968.9" cy="466.8" r="2.9" fill="#2196f3"/>
<circle cx="974.3" cy="444.1" r="2.9" fill="#2196f3"/>
<circle cx="979.6" cy="437.1" r="2.9" fill="#2196f3"/>
<circle cx="984.9" cy="419.4" r="2.9" fill="#2196f3"/>
<circle cx="990.3" cy="406.2" r="2.9" fill="#2196f3"/>
<circle cx="995.6" cy="400.1" r="2.9" fill="#2196f3"/>
<circle cx="1000.9" cy="424.5" r="2.9" fill="#2196f3"/>
<circle cx="1006.2" cy="450" r="2.9" fill="#2196f3"/>
<circle cx="1011.6" cy="418.9" r="2.9" fill="#2196f3"/>
<circle cx="1016.9" cy="392.4" r="2.9" fill="#2196f3"/>
<circle cx="1022.2" cy="395" r="2.9" fill="#2196f3"/>
<circle cx="1027.5" cy="381.6" r="2.9" fill="#2196f3"/>
<circle cx="1032.9" cy="360.3" r="2.9" fill="#2196f3"/>
<circle cx="1038.2" cy="327.5" r="2.9" fill="#2196f3"/>
<circle cx="1043.5" cy="312.7" r="2.9" fill="#2196f3"/>
<circle cx="1048.8" cy="357.9" r="2.9" fill="#2196f3"/>
<circle cx="1054.2" cy="415.8" r="2.9" fill="#2196f3"/>
<circle cx="1059.5" cy="452.5" r="2.9" fill="#2196f3"/>
<circle cx="1064.8" cy="434.3" r="2.9" fill="#2196f3"/>
<circle cx="1070.2" cy="458.4" r="2.9" fill="#2196f3"/>
<circle cx="1075.5" cy="475.5" r="2.9" fill="#2196f3"/>
<circle cx="1080.8" cy="449.3" r="2.9" fill="#2196f3"/>
<circle cx="1086.1" cy="418.9" r="2.9" fill="#2196f3"/>
<circle cx="1091.5" cy="436.4" r="2.9" fill="#2196f3"/>
<circle cx="1096.8" cy="468.5" r="2.9" fill="#2196f3"/>
<circle cx="1102.1" cy="474.4" r="2.9" fill="#2196f3"/>
<circle cx="1107.4" cy="481.8" r="2.9" fill="#2196f3"/>
<circle cx="1112.8" cy="496.8" r="2.9" fill="#2196f3"/>
<circle cx="1118.1" cy="490.9" r="2.9" fill="#2196f3"/>
<circle cx="1123.4" cy="485.3" r="2.9" fill="#2196f3"/>
<circle cx="1128.8" cy="460.1" r="2.9" fill="#2196f3"/>
<circle cx="1134.1" cy="437.1" r="2.9" fill="#2196f3"/>
<circle cx="1139.4" cy="428" r="2.9" fill="#2196f3"/>
<circle cx="1144.7" cy="428" r="2.9" fill="#2196f3"/>
<circle cx="1150.1" cy="399.1" r="2.9" fill="#2196f3"/>
<circle cx="1155.4" cy="409.5" r="2.9" fill="#2196f3"/>
<circle cx="1160.7" cy="465.7" r="2.9" fill="#2196f3"/>
<circle cx="1166" cy="492.2" r="2.9" fill="#2196f3"/>
<circle cx="1171.4" cy="488.4" r="2.9" fill="#2196f3"/>
<circle cx="1176.7" cy="479" r="2.9" fill="#2196f3"/>
<circle cx="1182" cy="478.6" r="2.9" fill="#2196f3"/>
<circle cx="1187.4" cy="492.4" r="2.9" fill="#2196f3"/>
<circle cx="1192.7" cy="462.6" r="2.9" fill="#2196f3"/>
<circle cx="1198" cy="422.4" r="2.9" fill="#2196f3"/>
<circle cx="1203.3" cy="407.1" r="2.9" fill="#2196f3"/>
<circle cx="1208.7" cy="368" r="2.9" fill="#2196f3"/>
<circle cx="1214" cy="347.7" r="2.9" fill="#2196f3"/>
<circle cx="1219.3" cy="361.4" r="2.9" fill="#2196f3"/>
<circle cx="1224.6" cy="358.2" r="2.9" fill="#2196f3"/>
<circle cx="1230" cy="347.7" r="2.9" fill="#2196f3"/>
<circle cx="1235.3" cy="334.5" r="2.9" fill="#2196f3"/>
<circle cx="1240.6" cy="348.1" r="2.9" fill="#2196f3"/>
<circle cx="1245.9" cy="337.3" r="2.9" fill="#2196f3"/>
<circle cx="1251.3" cy="336.2" r="2.9" fill="#2196f3"/>
<circle cx="1256.6" cy="349.1" r="2.9" fill="#2196f3"/>
<circle cx="1261.9" cy="382.6" r="2.9" fill="#2196f3"/>
<circle cx="1267.3" cy="376.7" r="2.9" fill="#2196f3"/>
<circle cx="1272.6" cy="363.8" r="2.9" fill="#2196f3"/>
<circle cx="1277.9" cy="339" r="2.9" fill="#2196f3"/>
<circle cx="1283.2" cy="351.6" r="2.9" fill="#2196f3"/>
<circle cx="1288.6" cy="381.3" r="2.9" fill="#2196f3"/>
<circle cx="1293.9" cy="416.5" r="2.9" fill="#2196f3"/>
<circle cx="1299.2" cy="428" r="2.9" fill="#2196f3"/>
<circle cx="1304.5" cy="413" r="2.9" fill="#2196f3"/>
<circle cx="1309.9" cy="438.5" r="2.9" fill="#2196f3"/>
<circle cx="1315.2" cy="444.8" r="2.9" fill="#2196f3"/>
<circle cx="1320.5" cy="441.8" r="2.9" fill="#2196f3"/>
<circle cx="1325.9" cy="453.2" r="2.9" fill="#2196f3"/>
<circle cx="1331.2" cy="455.6" r="2.9" fill="#2196f3"/>
<circle cx="1336.5" cy="446.9" r="2.9" fill="#2196f3"/>
<circle cx="1341.8" cy="449.3" r="2.9" fill="#2196f3"/>
<circle cx="1347.2" cy="451.8" r="2.9" fill="#2196f3"/>
<circle cx="1352.5" cy="445.1" r="2.9" fill="#2196f3"/>
<circle cx="1357.8" cy="439.9" r="2.9" fill="#2196f3"/>
<circle cx="1363.1" cy="436.8" r="2.9" fill="#2196f3"/>
<circle cx="1368.5" cy="446.5" r="2.9" fill="#2196f3"/>
<circle cx="1373.8" cy="458" r="2.9" fill="#2196f3"/>
<circle cx="1379.1" cy="467.1" r="2.9" fill="#2196f3"/>
<circle cx="1384.5" cy="458" r="2.9" fill="#2196f3"/>
<circle cx="1389.8" cy="437.4" r="2.9" fill="#2196f3"/>
<circle cx="1395.1" cy="442" r="2.9" fill="#2196f3"/>
<circle cx="1400.4" cy="453.9" r="2.9" fill="#2196f3"/>
<circle cx="1405.8" cy="456.3" r="2.9" fill="#2196f3"/>
<circle cx="1411.1" cy="489.1" r="2.9" fill="#2196f3"/>
<circle cx="1416.4" cy="546.7" r="2.9" fill="#2196f3"/>
<circle cx="1421.7" cy="597" r="2.9" fill="#2196f3"/>
<circle cx="1427.1" cy="617.6" r="2.9" fill="#2196f3"/>
<circle cx="1432.4" cy="638.9" r="2.9" fill="#2196f3"/>
<circle cx="1437.7" cy="609.9" r="2.9" fill="#2196f3"/>
<circle cx="1443" cy="540.4" r="2.9" fill="#2196f3"/>
<circle cx="1448.4" cy="542.9" r="2.9" fill="#2196f3"/>
<circle cx="1453.7" cy="598.7" r="2.9" fill="#2196f3"/>
<circle cx="1459" cy="559.3" r="2.9" fill="#2196f3"/>
<circle cx="1464.4" cy="538.3" r="2.9" fill="#2196f3"/>
<circle cx="1469.7" cy="568" r="2.9" fill="#2196f3"/>
<circle cx="1475" cy="594.5" r="2.9" fill="#2196f3"/>
<circle cx="1480.3" cy="635.4" r="2.9" fill="#2196f3"/>
<circle cx="1485.7" cy="679.3" r="2.9" fill="#2196f3"/>
<circle cx="1491" cy="675.8" r="2.9" fill="#2196f3"/>
<circle cx="1496.3" cy="640.9" r="2.9" fill="#2196f3"/>
<circle cx="1501.6" cy="650.7" r="2.9" fill="#2196f3"/>
<circle cx="1507" cy="643" r="2.9" fill="#2196f3"/>
<circle cx="1512.3" cy="623.5" r="2.9" fill="#2196f3"/>
<circle cx="1517.6" cy="632.9" r="2.9" fill="#2196f3"/>
<circle cx="1523" cy="633.6" r="2.9" fill="#2196f3"/>
<circle cx="1528.3" cy="640.6" r="2.9" fill="#2196f3"/>
<circle cx="1533.6" cy="615.5" r="2.9" fill="#2196f3"/>
<circle cx="1538.9" cy="604.6" r="2.9" fill="#2196f3"/>
<circle cx="1544.3" cy="624.9" r="2.9" fill="#2196f3"/>
<circle cx="1549.6" cy="625.9" r="2.9" fill="#2196f3"/>
<circle cx="1554.9" cy="613" r="2.9" fill="#2196f3"/>
<circle cx="1560.2" cy="584.7" r="2.9" fill="#2196f3"/>
<circle cx="1565.6" cy="578.1" r="2.9" fill="#2196f3"/>
<circle cx="1570.9" cy="582.3" r="2.9" fill="#2196f3"/>
<circle cx="1576.2" cy="585.1" r="2.9" fill="#2196f3"/>
<circle cx="1581.5" cy="602.5" r="2.9" fill="#2196f3"/>
<circle cx="1586.9" cy="635.7" r="2.9" fill="#2196f3"/>
<circle cx="1592.2" cy="646.5" r="2.9" fill="#2196f3"/>
<circle cx="1597.5" cy="646.5" r="2.9" fill="#2196f3"/>
<circle cx="1602.9" cy="627" r="2.9" fill="#2196f3"/>
<circle cx="1608.2" cy="617.2" r="2.9" fill="#2196f3"/>
<circle cx="1613.5" cy="644.1" r="2.9" fill="#2196f3"/>
<circle cx="1618.8" cy="635" r="2.9" fill="#2196f3"/>
<circle cx="1624.2" cy="632.6" r="2.9" fill="#2196f3"/>
<circle cx="1629.5" cy="672" r="2.9" fill="#2196f3"/>
<circle cx="1634.8" cy="705.2" r="2.9" fill="#2196f3"/>
<circle cx="1640.1" cy="707.6" r="2.9" fill="#2196f3"/>
<circle cx="1645.5" cy="691.9" r="2.9" fill="#2196f3"/>
<circle cx="1650.8" cy="669.6" r="2.9" fill="#2196f3"/>
<circle cx="1656.1" cy="660.1" r="2.9" fill="#2196f3"/>
<circle cx="1661.5" cy="620.4" r="2.9" fill="#2196f3"/>
<circle cx="1666.8" cy="618.6" r="2.9" fill="#2196f3"/>
<circle cx="1672.1" cy="619.7" r="2.9" fill="#2196f3"/>
<circle cx="1677.4" cy="617.9" r="2.9" fill="#2196f3"/>
<circle cx="1682.8" cy="625.2" r="2.9" fill="#2196f3"/>
<circle cx="1688.1" cy="618.6" r="2.9" fill="#2196f3"/>
<circle cx="1693.4" cy="616.2" r="2.9" fill="#2196f3"/>
<circle cx="1698.7" cy="613" r="2.9" fill="#2196f3"/>
<circle cx="1704.1" cy="613.7" r="2.9" fill="#2196f3"/>
<circle cx="1709.4" cy="590" r="2.9" fill="#2196f3"/>
<circle cx="1714.7" cy="535.5" r="2.9" fill="#2196f3"/>
<circle cx="1720.1" cy="494.3" r="2.9" fill="#2196f3"/>
<circle cx="1725.4" cy="495.7" r="2.9" fill="#2196f3"/>
<circle cx="1730.7" cy="481.8" r="2.9" fill="#2196f3"/>
<circle cx="1736" cy="477.9" r="2.9" fill="#2196f3"/>
<circle cx="1741.4" cy="481.8" r="2.9" fill="#2196f3"/>
<circle cx="1746.7" cy="482.1" r="2.9" fill="#2196f3"/>
<circle cx="1752" cy="476.9" r="2.9" fill="#2196f3"/>
<circle cx="1757.3" cy="483.9" r="2.9" fill="#2196f3"/>
<circle cx="1762.7" cy="464.7" r="2.9" fill="#2196f3"/>
<circle cx="1768" cy="445.8" r="2.9" fill="#2196f3"/>
<circle cx="1773.3" cy="453.5" r="2.9" fill="#2196f3"/>
<circle cx="1778.6" cy="470.3" r="2.9" fill="#2196f3"/>
<circle cx="1784" cy="480.4" r="2.9" fill="#2196f3"/>
<circle cx="1789.3" cy="466.1" r="2.9" fill="#2196f3"/>
<circle cx="1794.6" cy="446.9" r="2.9" fill="#2196f3"/>
<circle cx="1800" cy="398.4" r="2.9" fill="#2196f3"/>
<circle cx="1805.3" cy="357.5" r="2.9" fill="#2196f3"/>
<circle cx="1810.6" cy="348.4" r="2.9" fill="#2196f3"/>
<circle cx="1815.9" cy="342.2" r="2.9" fill="#2196f3"/>
<circle cx="1821.3" cy="355.8" r="2.9" fill="#2196f3"/>
<circle cx="1826.6" cy="356.5" r="2.9" fill="#2196f3"/>
<circle cx="1831.9" cy="351.9" r="2.9" fill="#2196f3"/>
<circle cx="1837.2" cy="357.5" r="2.9" fill="#2196f3"/>
<circle cx="1842.6" cy="350.5" r="2.9" fill="#2196f3"/>
<circle cx="1847.9" cy="357.5" r="2.9" fill="#2196f3"/>
<circle cx="1853.2" cy="334.8" r="2.9" fill="#2196f3"/>
<circle cx="1858.6" cy="328.5" r="2.9" fill="#2196f3"/>
<circle cx="1863.9" cy="319.1" r="2.9" fill="#2196f3"/>
<circle cx="1869.2" cy="286.3" r="2.9" fill="#2196f3"/>
<circle cx="1874.5" cy="254.3" r="2.9" fill="#2196f3"/>
<circle cx="1879.9" cy="271.3" r="2.9" fill="#2196f3"/>
<circle cx="1885.2" cy="292.6" r="2.9" fill="#2196f3"/>
<circle cx="1890.5" cy="288.4" r="2.9" fill="#2196f3"/>
<circle cx="1895.8" cy="271.5" r="2.9" fill="#2196f3"/>
<circle cx="1901.2" cy="274.4" r="2.9" fill="#2196f3"/>
<circle cx="90.4" cy="825.2" r="8" fill="#ff5252"/>
<rect x="62.4" y="780.7" width="56" height="39.5" rx="6" fill="#ff5252"/>
<text x="70.3" y="810.9" font-size="24.5" fill="#fff" textLength="40.6" lengthAdjust="spacingAndGlyphs">Sell</text>
<circle cx="218.2" cy="1019.4" r="8" fill="#4caf50"/>
<rect x="190.2" y="1025.1" width="56" height="39.5" rx="6" fill="#4caf50"/>
<text x="195.9" y="1054" font-size="24.5" fill="#fff" textLength="42.7" lengthAdjust="spacingAndGlyphs">Buy</text>
<circle cx="319.5" cy="836.7" r="8" fill="#ff5252"/>
<rect x="291.5" y="792.2" width="56" height="39.5" rx="6" fill="#ff5252"/>
<text x="299.4" y="822.4" font-size="24.5" fill="#fff" textLength="40.6" lengthAdjust="spacingAndGlyphs">Sell</text>
<circle cx="426" cy="1044.1" r="8" fill="#4caf50"/>
<rect x="398" y="1049.8" width="56" height="39.5" rx="6" fill="#4caf50"/>
<text x="403.7" y="1078.7" font-size="24.5" fill="#fff" textLength="42.7" lengthAdjust="spacingAndGlyphs">Buy</text>
<circle cx="495.2" cy="900.8" r="8" fill="#ff5252"/>
<rect x="467.2" y="856.3" width="56" height="39.5" rx="6" fill="#ff5252"/>
<text x="475.2" y="886.5" font-size="24.5" fill="#fff" textLength="40.6" lengthAdjust="spacingAndGlyphs">Sell</text>
<circle cx="564.5" cy="1040.5" r="8" fill="#4caf50"/>
<rect x="536.5" y="1046.2" width="56" height="39.5" rx="6" fill="#4caf50"/>
<text x="542.2" y="1075.1" font-size="24.5" fill="#fff" textLength="42.7" lengthAdjust="spacingAndGlyphs">Buy</text>
<circle cx="1075.9" cy="297.7" r="8" fill="#ff5252"/>
<rect x="1047.9" y="253.2" width="56" height="39.5" rx="6" fill="#ff5252"/>
<text x="1055.8" y="283.4" font-size="24.5" fill="#fff" textLength="40.6" lengthAdjust="spacingAndGlyphs">Sell</text>
<circle cx="1209.1" cy="523.9" r="8" fill="#4caf50"/>
<rect x="1181.1" y="529.6" width="56" height="39.5" rx="6" fill="#4caf50"/>
<text x="1186.7" y="558.5" font-size="24.5" fill="#fff" textLength="42.7" lengthAdjust="spacingAndGlyphs">Buy</text>
<circle cx="1411.5" cy="361.9" r="8" fill="#ff5252"/>
<rect x="1383.5" y="317.4" width="56" height="39.5" rx="6" fill="#ff5252"/>
<text x="1391.4" y="347.6" font-size="24.5" fill="#fff" textLength="40.6" lengthAdjust="spacingAndGlyphs">Sell</text>
<circle cx="1443.4" cy="690.9" r="8" fill="#4caf50"/>
<rect x="1415.4" y="696.6" width="56" height="39.5" rx="6" fill="#4caf50"/>
<text x="1421.1" y="725.5" font-size="24.5" fill="#fff" textLength="42.7" lengthAdjust="spacingAndGlyphs">Buy</text>
<circle cx="1486.1" cy="449.9" r="8" fill="#ff5252"/>
<rect x="1458.1" y="405.4" width="56" height="39.5" rx="6" fill="#ff5252"/>
<text x="1466" y="435.6" font-size="24.5" fill="#fff" textLength="40.6" lengthAdjust="spacingAndGlyphs">Sell</text>
<circle cx="1715.1" cy="675.7" r="8" fill="#4caf50"/>
<rect x="1687.1" y="681.4" width="56" height="39.5" rx="6" fill="#4caf50"/>
<text x="1692.8" y="710.3" font-size="24.5" fill="#fff" textLength="42.7" lengthAdjust="spacingAndGlyphs">Buy</text>
<polyline points="21.1,1003.1 26.5,1001.3 31.8,999.6 37.1,998.2 42.4,996.7 47.8,995.4 53.1,994.2 58.4,993.1 63.8,991.8 69.1,990.6 74.4,989.6 79.7,988.6 85.1,987.7 90.4,986.8 95.7,986 101,985.3 106.4,985 111.7,984.5 117,984.2 122.4,983.7 127.7,983.5 133,983.1 138.3,982.5 143.7,981.9 149,981.4 154.3,981.2 159.6,981.4 165,981.7 170.3,981.7 175.6,982.1 180.9,982.3 186.3,982.4 191.6,982.5 196.9,982.7 202.3,982.7 207.6,982.6 212.9,982.3 218.2,981.4 223.6,980.5 228.9,979.8 234.2,979 239.5,977.9 244.9,976.7 250.2,975.4 255.5,974.2 260.9,973.3 266.2,972.4 271.5,971.5 276.8,970.3 282.2,969.1 287.5,967.9 292.8,966.9 298.1,966 303.5,965.3 308.8,964.5 314.1,964.3 319.5,964.1 324.8,964.4 330.1,965.2 335.4,965.7 340.8,966.3 346.1,966 351.4,965.8 356.7,965.7 362.1,965.8 367.4,965.8 372.7,965.7 378,965.8 383.4,966.1 388.7,966.2 394,966.2 399.4,966.4 404.7,966.4 410,966.5 415.3,966.3 420.7,966.2 426,965.6 431.3,965 436.6,964.3 442,963.9 447.3,963.9 452.6,964 458,964.1 463.3,964.2 468.6,964.3 473.9,964.6 479.3,964.7 484.6,965 489.9,965.3 495.2,965.8 500.6,966.6 505.9,967.3 511.2,968 516.5,968.3 521.9,968.6 527.2,968.9 532.5,969.1 537.9,968.9 543.2,968.8 548.5,968.9 553.8,969 559.2,968.9 564.5,968.6 569.8,968.1 575.1,967.6 580.5,967.1 585.8,966.5 591.1,966 596.5,965.4 601.8,964.9 607.1,964.1 612.4,963.3 617.8,962.4 623.1,961.7 628.4,961.2 633.7,961.1 639.1,961 644.4,960.9 649.7,960.6 655.1,960.3 660.4,959.9 665.7,959.6 671,959.4 676.4,959.3 681.7,959.2 687,958.9 692.3,958.5 697.7,958.1 703,957.3 708.3,956.4 713.6,955.4 719,954.4 724.3,953.3 729.6,952.2 735,951 740.3,950.1 745.6,949.2 750.9,948.4 756.3,947.4 761.6,946.6 766.9,945.8 772.2,944.8 777.6,943.6 782.9,942 788.2,940.5 793.6,939.3 798.9,938.2 804.2,937.1 809.5,936.1 814.9,935.3 820.2,934.2 825.5,932.3 830.8,930.4 836.2,928.4 841.5,926.4 846.8,923.9 852.2,920.3 857.5,916.9 862.8,913.1 868.1,909.8 873.5,906 878.8,902.3 884.1,898.7 889.4,895.1 894.8,891.2 900.1,887.2 905.4,882.6 910.7,877.9 916.1,873.5 921.4,869.1 926.7,865.5 932.1,862 937.4,858 942.7,854.1 948,849.9 953.4,846 958.7,841.9 964,838.2 969.3,834.4 974.7,830.3 980,826.4 985.3,822.3 990.7,818.1 996,813.8 1001.3,810.1 1006.6,806.5 1012,802.4 1017.3,798.4 1022.6,794.3 1027.9,790.2 1033.3,785.7 1038.6,781.1 1043.9,776.4 1049.2,772.7 1054.6,769.4 1059.9,766 1065.2,762.8 1070.6,759.9 1075.9,757 1081.2,753.7 1086.5,750.3 1091.9,747.4 1097.2,744.7 1102.5,742 1107.8,739.5 1113.2,737.1 1118.5,734.7 1123.8,732.1 1129.2,729.3 1134.5,726.3 1139.8,723.3 1145.1,720.4 1150.5,716.9 1155.8,714.2 1161.1,711.8 1166.4,709.7 1171.8,707.4 1177.1,705.1 1182.4,702.9 1187.8,700.6 1193.1,698.1 1198.4,695.1 1203.7,692.2 1209.1,688.8 1214.4,685.3 1219.7,682.3 1225,679.2 1230.4,675.6 1235.7,672.4 1241,669.1 1246.3,665.8 1251.7,662.5 1257,659.6 1262.3,656.7 1267.7,654 1273,651 1278.3,647.9 1283.6,645.1 1289,642.6 1294.3,640.5 1299.6,638 1304.9,636 1310.3,634.1 1315.6,632.3 1320.9,630.5 1326.3,628.7 1331.6,627 1336.9,625.1 1342.2,623.5 1347.6,621.6 1352.9,619.9 1358.2,618 1363.5,616.2 1368.9,614.6 1374.2,613.1 1379.5,611.6 1384.9,610 1390.2,608.2 1395.5,606.7 1400.8,605.1 1406.2,603.7 1411.5,602.8 1416.8,602.4 1422.1,602.6 1427.5,602.8 1432.8,603 1438.1,602.9 1443.4,601.7 1448.8,601.7 1454.1,601.5 1459.4,600.8 1464.8,600.2 1470.1,600.1 1475.4,600.1 1480.7,600.8 1486.1,601.8 1491.4,602.2 1496.7,602.5 1502,603.1 1507.4,603.3 1512.7,603.5 1518,603.9 1523.4,604.2 1528.7,604.6 1534,604.4 1539.3,604.6 1544.7,604.8 1550,605 1555.3,604.9 1560.6,604.7 1566,604.4 1571.3,604.2 1576.6,604 1582,604.2 1587.3,604.6 1592.6,605 1597.9,605.4 1603.3,605.5 1608.6,605.9 1613.9,606.2 1619.2,606.4 1624.6,606.6 1629.9,607.6 1635.2,608.5 1640.5,609.7 1645.9,610.1 1651.2,610.8 1656.5,611.1 1661.9,611 1667.2,611.2 1672.5,611.3 1677.8,611.5 1683.2,611.6 1688.5,611.7 1693.8,611.7 1699.1,611.7 1704.5,611.7 1709.8,611.3 1715.1,610.2 1720.5,609 1725.8,607.8 1731.1,606.5 1736.4,605.2 1741.8,604 1747.1,602.7 1752.4,601.5 1757.7,600.4 1763.1,598.9 1768.4,597.4 1773.7,596 1779,594.9 1784.4,593.7 1789.7,592.2 1795,590.7 1800.4,588.4 1805.7,586.2 1811,583.7 1816.3,581.3 1821.7,579.1 1827,576.8 1832.3,574.6 1837.6,572.3 1843,570.2 1848.3,568.1 1853.6,565.5 1859,563.1 1864.3,560.6 1869.6,557.7 1874.9,554.5 1880.3,552 1885.6,549.4 1890.9,546.7 1896.2,544 1901.6,541.2" fill="none" stroke="#9c27b0" stroke-width="4.2" stroke-linejoin="round" stroke-linecap="round"/>
<polyline points="21.1,907.1 26.5,905.5 31.8,903.9 37.1,903.1 42.4,901.9 47.8,901.3 53.1,900.8 58.4,900.3 63.8,899.7 69.1,899.1 74.4,898.9 79.7,898.8 85.1,898.6 90.4,898.7 95.7,898.8 101,899.2 106.4,900.3 111.7,901 117,902 122.4,902.7 127.7,903.8 133,904.7 138.3,905 143.7,905.3 149,905.9 154.3,906.9 159.6,908.8 165,910.8 170.3,912.3 175.6,914.4 180.9,916.2 186.3,917.6 191.6,919.1 196.9,920.7 202.3,922.1 207.6,923.1 212.9,923.6 218.2,923 223.6,922.4 228.9,922 234.2,921.7 239.5,920.6 244.9,919.4 250.2,918 255.5,916.7 260.9,916 266.2,915.4 271.5,914.7 276.8,913.4 282.2,912.2 287.5,910.9 292.8,910 298.1,909.3 303.5,909 308.8,908.6 314.1,909.2 319.5,910.1 324.8,911.6 330.1,914.2 335.4,916.3 340.8,918.5 346.1,918.9 351.4,919.5 356.7,920 362.1,921.2 367.4,922.2 372.7,922.8 378,923.9 383.4,925.3 388.7,926.3 394,927.1 399.4,928.2 404.7,929 410,930 415.3,930.2 420.7,930.7 426,930.2 431.3,929.7 436.6,929.1 442,928.9 447.3,929.7 452.6,930.6 458,931.4 463.3,932.2 468.6,933.1 473.9,934.4 479.3,935.1 484.6,936.3 489.9,937.4 495.2,938.9 500.6,941 505.9,943 511.2,944.8 516.5,945.9 521.9,946.9 527.2,947.9 532.5,948.7 537.9,948.8 543.2,949.1 548.5,949.6 553.8,950.3 559.2,950.4 564.5,950.1 569.8,949.5 575.1,948.9 580.5,948.2 585.8,947.5 591.1,946.8 596.5,945.9 601.8,945.4 607.1,944.2 612.4,943 617.8,941.7 623.1,940.5 628.4,940 633.7,940.2 639.1,940.5 644.4,940.6 649.7,940.5 655.1,940.3 660.4,939.9 665.7,939.7 671,939.6 676.4,939.8 681.7,940.1 687,939.9 692.3,939.4 697.7,939 703,937.8 708.3,936.3 713.6,934.7 719,933.2 724.3,931.4 729.6,929.7 735,927.8 740.3,926.4 745.6,925.1 750.9,923.9 756.3,922.4 761.6,921.3 766.9,920.2 772.2,918.8 777.6,916.9 782.9,914.3 788.2,911.8 793.6,910 798.9,908.3 804.2,906.8 809.5,905.4 814.9,904.4 820.2,902.9 825.5,899.7 830.8,896.6 836.2,893.3 841.5,890 846.8,885.8 852.2,879.3 857.5,873.2 862.8,866.6 868.1,860.9 873.5,854.3 878.8,848 884.1,841.9 889.4,835.9 894.8,829.4 900.1,822.5 905.4,814.7 910.7,806.8 916.1,799.4 921.4,792.1 926.7,786.3 932.1,781 937.4,774.6 942.7,768.5 948,761.9 953.4,755.8 958.7,749.6 964,743.9 969.3,738.3 974.7,732 980,726.3 985.3,720 990.7,713.7 996,707.3 1001.3,702 1006.6,697 1012,690.9 1017.3,685.2 1022.6,679.2 1027.9,673.3 1033.3,666.7 1038.6,659.9 1043.9,653.1 1049.2,648.1 1054.6,643.9 1059.9,639.7 1065.2,635.8 1070.6,632.5 1075.9,629.4 1081.2,625.2 1086.5,621 1091.9,617.8 1097.2,615.1 1102.5,612.2 1107.8,609.8 1113.2,607.7 1118.5,605.4 1123.8,602.9 1129.2,599.8 1134.5,596.4 1139.8,593 1145.1,589.7 1150.5,585.4 1155.8,582.6 1161.1,580.4 1166.4,578.9 1171.8,576.9 1177.1,574.9 1182.4,573 1187.8,571.2 1193.1,568.8 1198.4,565.3 1203.7,562.1 1209.1,557.8 1214.4,553.5 1219.7,550.2 1225,546.6 1230.4,542.1 1235.7,538.3 1241,534.5 1246.3,530.5 1251.7,526.7 1257,523.5 1262.3,520.5 1267.7,517.9 1273,514.5 1278.3,511 1283.6,508.2 1289,506 1294.3,504.5 1299.6,502.2 1304.9,500.8 1310.3,499.8 1315.6,498.8 1320.9,497.9 1326.3,497 1331.6,496.1 1336.9,495 1342.2,494.3 1347.6,493.1 1352.9,492.2 1358.2,491.2 1363.5,490.1 1368.9,489.4 1374.2,488.8 1379.5,488.4 1384.9,487.6 1390.2,486.4 1395.5,485.8 1400.8,485.1 1406.2,484.5 1411.5,485.3 1416.8,486.7 1422.1,489.5 1427.5,492 1432.8,494.6 1438.1,496.6 1443.4,496.4 1448.8,498.3 1454.1,500 1459.4,500.6 1464.8,501.5 1470.1,503.2 1475.4,505 1480.7,508.4 1486.1,512.2 1491.4,514.7 1496.7,517 1502,520 1507.4,522.1 1512.7,524.1 1518,526.5 1523.4,528.5 1528.7,530.7 1534,531.9 1539.3,533.7 1544.7,535.5 1550,537.3 1555.3,538.5 1560.6,539.3 1566,540.1 1571.3,541 1576.6,541.8 1582,543.3 1587.3,545.4 1592.6,547.4 1597.9,549.4 1603.3,550.5 1608.6,552.5 1613.9,554.1 1619.2,555.6 1624.6,557.1 1629.9,560 1635.2,562.7 1640.5,566 1645.9,567.6 1651.2,570 1656.5,571.3 1661.9,572 1667.2,573.1 1672.5,574 1677.8,575.1 1683.2,576.2 1688.5,576.9 1693.8,577.7 1699.1,578.4 1704.5,579 1709.8,578.9 1715.1,577.3 1720.5,575.6 1725.8,573.8 1731.1,571.9 1736.4,570 1741.8,568.4 1747.1,566.5 1752.4,564.9 1757.7,563.2 1763.1,561 1768.4,558.7 1773.7,556.8 1779,555.3 1784.4,553.8 1789.7,551.6 1795,549.5 1800.4,545.7 1805.7,542.1 1811,538 1816.3,534.2 1821.7,530.8 1827,527.1 1832.3,523.7 1837.6,520.2 1843,516.9 1848.3,513.8 1853.6,509.8 1859,506.1 1864.3,502.2 1869.6,497.6 1874.9,492.5 1880.3,488.7 1885.6,484.8 1890.9,480.7 1896.2,476.5 1901.6,472.3" fill="none" stroke="#2962ff" stroke-width="4.2" stroke-linejoin="round" stroke-linecap="round"/>
<polyline points="21.1,866.4 26.5,864.8 31.8,863.4 37.1,863.3 42.4,862.6 47.8,862.8 53.1,863.4 58.4,863.8 63.8,864 69.1,864.3 74.4,865.3 79.7,866.3 85.1,867.3 90.4,868.8 95.7,870.1 101,871.9 106.4,875.2 111.7,877.6 117,880.4 122.4,882.7 127.7,885.6 133,888.1 138.3,889.5 143.7,890.7 149,892.3 154.3,894.9 159.6,899.1 165,903.4 170.3,906.7 175.6,911 180.9,914.8 186.3,917.7 191.6,920.7 196.9,923.7 202.3,926.3 207.6,928.1 212.9,929 218.2,927.6 223.6,926.1 228.9,925.3 234.2,924.5 239.5,922.2 244.9,919.9 250.2,917 255.5,914.6 260.9,913.2 266.2,912.1 271.5,910.8 276.8,908.5 282.2,906.2 287.5,903.9 292.8,902.4 298.1,901.3 303.5,901.1 308.8,900.6 314.1,902.1 319.5,904 324.8,907.3 330.1,912.7 335.4,916.8 340.8,921.2 346.1,921.8 351.4,922.9 356.7,923.9 362.1,926 367.4,927.7 372.7,928.7 378,930.7 383.4,933.2 388.7,934.9 394,936.2 399.4,938 404.7,939.3 410,940.7 415.3,940.8 420.7,941.4 426,940 431.3,938.5 436.6,937 442,936.4 447.3,937.6 452.6,939.1 458,940.3 463.3,941.6 468.6,942.9 473.9,945.1 479.3,946.2 484.6,948.1 489.9,949.7 495.2,952.3 500.6,956 505.9,959.3 511.2,962.2 516.5,963.8 521.9,965 527.2,966.3 532.5,967.1 537.9,966.6 543.2,966.4 548.5,966.7 553.8,967.5 559.2,967 564.5,965.8 569.8,964 575.1,962.2 580.5,960.3 585.8,958.4 591.1,956.7 596.5,954.5 601.8,953 607.1,950.5 612.4,947.8 617.8,945 623.1,942.6 628.4,941.5 633.7,941.8 639.1,942.3 644.4,942.6 649.7,942.1 655.1,941.7 660.4,941 665.7,940.5 671,940.2 676.4,940.7 681.7,941.2 687,940.7 692.3,939.7 697.7,939 703,936.6 708.3,933.7 713.6,930.6 719,927.7 724.3,924.4 729.6,921.3 735,917.9 740.3,915.6 745.6,913.3 750.9,911.5 756.3,908.9 761.6,907.4 766.9,905.6 772.2,903.5 777.6,900.3 782.9,895.7 788.2,891.6 793.6,888.7 798.9,886.3 804.2,884.1 809.5,882.3 814.9,881.1 820.2,879.1 825.5,873.8 830.8,868.5 836.2,863.1 841.5,857.8 846.8,850.7 852.2,839.3 857.5,828.8 862.8,817.4 868.1,808.1 873.5,797.1 878.8,786.8 884.1,777.2 889.4,767.7 894.8,757.6 900.1,746.8 905.4,734.3 910.7,721.8 916.1,710.5 921.4,699.6 926.7,691.7 932.1,684.8 937.4,676 942.7,667.7 948,658.7 953.4,650.6 958.7,642.4 964,635.3 969.3,628.5 974.7,620.4 980,613.5 985.3,605.3 990.7,597.5 996,589.2 1001.3,583.4 1006.6,578.2 1012,570.7 1017.3,564.1 1022.6,557 1027.9,550.2 1033.3,542 1038.6,533.2 1043.9,524.8 1049.2,519.9 1054.6,516.6 1059.9,513.4 1065.2,510.6 1070.6,509 1075.9,507.6 1081.2,504.2 1086.5,500.5 1091.9,499 1097.2,498.3 1102.5,497.1 1107.8,496.9 1113.2,497.1 1118.5,496.9 1123.8,496.2 1129.2,494.2 1134.5,491.6 1139.8,489.1 1145.1,486.6 1150.5,482.1 1155.8,480.6 1161.1,480.2 1166.4,481.2 1171.8,481 1177.1,480.9 1182.4,480.8 1187.8,480.8 1193.1,479.6 1198.4,476.3 1203.7,473.4 1209.1,468.4 1214.4,463.3 1219.7,460.2 1225,456.7 1230.4,451.2 1235.7,447.3 1241,443.4 1246.3,439.1 1251.7,435.1 1257,432.4 1262.3,430.1 1267.7,428.3 1273,425.3 1278.3,421.8 1283.6,419.7 1289,418.7 1294.3,419.4 1299.6,418 1304.9,418.6 1310.3,419.8 1315.6,421.1 1320.9,422.2 1326.3,423.4 1331.6,424.6 1336.9,425.2 1342.2,426.6 1347.6,426.8 1352.9,427.7 1358.2,428.1 1363.5,428.4 1368.9,429.5 1374.2,430.7 1379.5,432.1 1384.9,432.8 1390.2,432.5 1395.5,433.5 1400.8,434.2 1406.2,435 1411.5,438.4 1416.8,443.2 1422.1,450.3 1427.5,456.8 1432.8,463.3 1438.1,468.6 1443.4,469.2 1448.8,474.1 1454.1,478.3 1459.4,480.5 1464.8,483 1470.1,487.1 1475.4,491.3 1480.7,498.5 1486.1,506.4 1491.4,511.7 1496.7,516.4 1502,522.3 1507.4,526.4 1512.7,530.1 1518,534.6 1523.4,538.2 1528.7,542.4 1534,544.1 1539.3,547.2 1544.7,550.3 1550,553.4 1555.3,555.1 1560.6,556 1566,556.9 1571.3,558 1576.6,558.9 1582,561.3 1587.3,564.6 1592.6,567.9 1597.9,571 1603.3,572.5 1608.6,575.4 1613.9,577.8 1619.2,579.8 1624.6,581.8 1629.9,586.6 1635.2,590.8 1640.5,596.4 1645.9,598.3 1651.2,601.8 1656.5,603.1 1661.9,603.3 1667.2,604.3 1672.5,604.9 1677.8,605.9 1683.2,606.7 1688.5,606.9 1693.8,607.4 1699.1,607.5 1704.5,607.6 1709.8,606.4 1715.1,602 1720.5,597.7 1725.8,593.3 1731.1,588.8 1736.4,584.4 1741.8,580.7 1747.1,576.4 1752.4,572.7 1757.7,569.2 1763.1,564.6 1768.4,560 1773.7,556 1779,553.1 1784.4,550.1 1789.7,546.1 1795,542.1 1800.4,534.9 1805.7,528 1811,520.5 1816.3,513.6 1821.7,507.7 1827,501.4 1832.3,495.6 1837.6,489.8 1843,484.5 1848.3,479.6 1853.6,473 1859,467.2 1864.3,460.9 1869.6,453.4 1874.9,445 1880.3,439.3 1885.6,433.6 1890.9,427.5 1896.2,421.3 1901.6,415.2" fill="none" stroke="#ff2424" stroke-width="4.2" stroke-linejoin="round" stroke-linecap="round"/>
<rect x="20" y="858.9" width="3" height="12.6" fill="#ef5350" fill-opacity="0.5"/>
<rect x="25" y="858.5" width="3" height="13" fill="#26a69a" fill-opacity="0.5"/>
<rect x="31" y="849.5" width="3" height="22" fill="#ef5350" fill-opacity="0.5"/>
<rect x="36" y="818.5" width="3" height="53" fill="#ef5350" fill-opacity="0.5"/>
<rect x="41" y="822.5" width="3" height="49" fill="#26a69a" fill-opacity="0.5"/>
<rect x="47" y="833.9" width="3" height="37.6" fill="#ef5350" fill-opacity="0.5"/>
<rect x="52" y="835.5" width="3" height="36" fill="#ef5350" fill-opacity="0.5"/>
<rect x="57" y="856.5" width="3" height="15" fill="#26a69a" fill-opacity="0.5"/>
<rect x="63" y="858.5" width="3" height="13" fill="#26a69a" fill-opacity="0.5"/>
<rect x="68" y="836.5" width="3" height="35" fill="#ef5350" fill-opacity="0.5"/>
<rect x="73" y="819.5" width="3" height="52" fill="#ef5350" fill-opacity="0.5"/>
<rect x="79" y="845.5" width="3" height="26" fill="#ef5350" fill-opacity="0.5"/>
<rect x="84" y="840.5" width="3" height="31" fill="#ef5350" fill-opacity="0.5"/>
<rect x="89" y="838.5" width="3" height="33" fill="#ef5350" fill-opacity="0.5"/>
<rect x="95" y="861.5" width="3" height="10" fill="#26a69a" fill-opacity="0.5"/>
<rect x="100" y="860.5" width="3" height="11" fill="#ef5350" fill-opacity="0.5"/>
<rect x="105" y="806.5" width="3" height="65" fill="#ef5350" fill-opacity="0.5"/>
<rect x="111" y="831.5" width="3" height="40" fill="#26a69a" fill-opacity="0.5"/>
<rect x="116" y="842.5" width="3" height="29" fill="#ef5350" fill-opacity="0.5"/>
<rect x="121" y="847.5" width="3" height="24" fill="#26a69a" fill-opacity="0.5"/>
<rect x="127" y="839.5" width="3" height="32" fill="#ef5350" fill-opacity="0.5"/>
<rect x="132" y="856.5" width="3" height="15" fill="#26a69a" fill-opacity="0.5"/>
<rect x="137" y="848.5" width="3" height="23" fill="#26a69a" fill-opacity="0.5"/>
<rect x="143" y="839.5" width="3" height="32" fill="#26a69a" fill-opacity="0.5"/>
<rect x="148" y="847.5" width="3" height="24" fill="#ef5350" fill-opacity="0.5"/>
<rect x="153" y="830.5" width="3" height="41" fill="#ef5350" fill-opacity="0.5"/>
<rect x="159" y="802" width="3" height="69.5" fill="#ef5350" fill-opacity="0.5"/>
<rect x="164" y="768.5" width="3" height="103" fill="#ef5350" fill-opacity="0.5"/>
<rect x="169" y="843.5" width="3" height="28" fill="#26a69a" fill-opacity="0.5"/>
<rect x="175" y="846.5" width="3" height="25" fill="#ef5350" fill-opacity="0.5"/>
<rect x="180" y="810.5" width="3" height="61" fill="#26a69a" fill-opacity="0.5"/>
<rect x="185" y="835.5" width="3" height="36" fill="#26a69a" fill-opacity="0.5"/>
<rect x="191" y="839.5" width="3" height="32" fill="#ef5350" fill-opacity="0.5"/>
<rect x="196" y="833.5" width="3" height="38" fill="#ef5350" fill-opacity="0.5"/>
<rect x="201" y="840.5" width="3" height="31" fill="#26a69a" fill-opacity="0.5"/>
<rect x="207" y="851.5" width="3" height="20" fill="#26a69a" fill-opacity="0.5"/>
<rect x="212" y="844.5" width="3" height="27" fill="#26a69a" fill-opacity="0.5"/>
<rect x="217" y="822.5" width="3" height="49" fill="#26a69a" fill-opacity="0.5"/>
<rect x="223" y="817.5" width="3" height="54" fill="#26a69a" fill-opacity="0.5"/>
<rect x="228" y="833.5" width="3" height="38" fill="#ef5350" fill-opacity="0.5"/>
<rect x="233" y="842.5" width="3" height="29" fill="#ef5350" fill-opacity="0.5"/>
<rect x="239" y="825.5" width="3" height="46" fill="#26a69a" fill-opacity="0.5"/>
<rect x="244" y="852.5" width="3" height="19" fill="#26a69a" fill-opacity="0.5"/>
<rect x="249" y="843.5" width="3" height="28" fill="#26a69a" fill-opacity="0.5"/>
<rect x="255" y="843.5" width="3" height="28" fill="#ef5350" fill-opacity="0.5"/>
<rect x="260" y="831.5" width="3" height="40" fill="#ef5350" fill-opacity="0.5"/>
<rect x="265" y="841.5" width="3" height="30" fill="#ef5350" fill-opacity="0.5"/>
<rect x="271" y="826.5" width="3" height="45" fill="#26a69a" fill-opacity="0.5"/>
<rect x="276" y="840.5" width="3" height="31" fill="#26a69a" fill-opacity="0.5"/>
<rect x="281" y="831.5" width="3" height="40" fill="#26a69a" fill-opacity="0.5"/>
<rect x="286" y="851.5" width="3" height="20" fill="#26a69a" fill-opacity="0.5"/>
<rect x="292" y="826.5" width="3" height="45" fill="#ef5350" fill-opacity="0.5"/>
<rect x="297" y="841.5" width="3" height="30" fill="#ef5350" fill-opacity="0.5"/>
<rect x="302" y="842.6" width="3" height="28.9" fill="#ef5350" fill-opacity="0.5"/>
<rect x="308" y="826.9" width="3" height="44.6" fill="#26a69a" fill-opacity="0.5"/>
<rect x="313" y="826.5" width="3" height="45" fill="#ef5350" fill-opacity="0.5"/>
<rect x="318" y="836.5" width="3" height="35" fill="#ef5350" fill-opacity="0.5"/>
<rect x="324" y="821.5" width="3" height="50" fill="#ef5350" fill-opacity="0.5"/>
<rect x="329" y="667.5" width="3" height="204" fill="#ef5350" fill-opacity="0.5"/>
<rect x="334" y="800.7" width="3" height="70.8" fill="#26a69a" fill-opacity="0.5"/>
<rect x="340" y="826.5" width="3" height="45" fill="#ef5350" fill-opacity="0.5"/>
<rect x="345" y="810.7" width="3" height="60.8" fill="#26a69a" fill-opacity="0.5"/>
<rect x="350" y="831.8" width="3" height="39.7" fill="#ef5350" fill-opacity="0.5"/>
<rect x="356" y="858.6" width="3" height="12.9" fill="#26a69a" fill-opacity="0.5"/>
<rect x="361" y="846.8" width="3" height="24.7" fill="#ef5350" fill-opacity="0.5"/>
<rect x="366" y="824.7" width="3" height="46.8" fill="#26a69a" fill-opacity="0.5"/>
<rect x="372" y="835.8" width="3" height="35.7" fill="#26a69a" fill-opacity="0.5"/>
<rect x="377" y="834.8" width="3" height="36.7" fill="#ef5350" fill-opacity="0.5"/>
<rect x="382" y="823.6" width="3" height="47.9" fill="#ef5350" fill-opacity="0.5"/>
<rect x="388" y="836.8" width="3" height="34.7" fill="#26a69a" fill-opacity="0.5"/>
<rect x="393" y="860.5" width="3" height="11" fill="#26a69a" fill-opacity="0.5"/>
<rect x="398" y="853.6" width="3" height="17.9" fill="#ef5350" fill-opacity="0.5"/>
<rect x="404" y="841.8" width="3" height="29.7" fill="#26a69a" fill-opacity="0.5"/>
<rect x="409" y="831.8" width="3" height="39.7" fill="#ef5350" fill-opacity="0.5"/>
<rect x="414" y="835.8" width="3" height="35.7" fill="#26a69a" fill-opacity="0.5"/>
<rect x="420" y="843.6" width="3" height="27.9" fill="#ef5350" fill-opacity="0.5"/>
<rect x="425" y="822.7" width="3" height="48.8" fill="#26a69a" fill-opacity="0.5"/>
<rect x="430" y="850.8" width="3" height="20.7" fill="#26a69a" fill-opacity="0.5"/>
<rect x="436" y="855.8" width="3" height="15.7" fill="#26a69a" fill-opacity="0.5"/>
<rect x="441" y="846.8" width="3" height="24.7" fill="#ef5350" fill-opacity="0.5"/>
<rect x="446" y="826.7" width="3" height="44.8" fill="#ef5350" fill-opacity="0.5"/>
<rect x="452" y="824.7" width="3" height="46.8" fill="#ef5350" fill-opacity="0.5"/>
<rect x="457" y="836.8" width="3" height="34.7" fill="#26a69a" fill-opacity="0.5"/>
<rect x="462" y="834.8" width="3" height="36.7" fill="#ef5350" fill-opacity="0.5"/>
<rect x="468" y="859.5" width="3" height="12" fill="#ef5350" fill-opacity="0.5"/>
<rect x="473" y="844.8" width="3" height="26.7" fill="#ef5350" fill-opacity="0.5"/>
<rect x="478" y="841.8" width="3" height="29.7" fill="#26a69a" fill-opacity="0.5"/>
<rect x="484" y="841.8" width="3" height="29.7" fill="#ef5350" fill-opacity="0.5"/>
<rect x="489" y="826.7" width="3" height="44.8" fill="#26a69a" fill-opacity="0.5"/>
<rect x="494" y="835.8" width="3" height="35.7" fill="#ef5350" fill-opacity="0.5"/>
<rect x="500" y="802.7" width="3" height="68.8" fill="#ef5350" fill-opacity="0.5"/>
<rect x="505" y="849.8" width="3" height="21.7" fill="#26a69a" fill-opacity="0.5"/>
<rect x="510" y="850.8" width="3" height="20.7" fill="#26a69a" fill-opacity="0.5"/>
<rect x="516" y="830.8" width="3" height="40.7" fill="#26a69a" fill-opacity="0.5"/>
<rect x="521" y="840.8" width="3" height="30.7" fill="#26a69a" fill-opacity="0.5"/>
<rect x="526" y="829.8" width="3" height="41.7" fill="#ef5350" fill-opacity="0.5"/>
<rect x="532" y="831.8" width="3" height="39.7" fill="#26a69a" fill-opacity="0.5"/>
<rect x="537" y="833.8" width="3" height="37.7" fill="#26a69a" fill-opacity="0.5"/>
<rect x="542" y="855.8" width="3" height="15.7" fill="#ef5350" fill-opacity="0.5"/>
<rect x="548" y="853.8" width="3" height="17.7" fill="#ef5350" fill-opacity="0.5"/>
<rect x="553" y="837.8" width="3" height="33.7" fill="#ef5350" fill-opacity="0.5"/>
<rect x="558" y="829.8" width="3" height="41.7" fill="#26a69a" fill-opacity="0.5"/>
<rect x="563" y="825.7" width="3" height="45.8" fill="#26a69a" fill-opacity="0.5"/>
<rect x="569" y="827.7" width="3" height="43.8" fill="#26a69a" fill-opacity="0.5"/>
<rect x="574" y="838.8" width="3" height="32.7" fill="#26a69a" fill-opacity="0.5"/>
<rect x="579" y="860.8" width="3" height="10.7" fill="#26a69a" fill-opacity="0.5"/>
<rect x="585" y="852.8" width="3" height="18.7" fill="#26a69a" fill-opacity="0.5"/>
<rect x="590" y="840.8" width="3" height="30.7" fill="#ef5350" fill-opacity="0.5"/>
<rect x="595" y="841.8" width="3" height="29.7" fill="#26a69a" fill-opacity="0.5"/>
<rect x="601" y="848.8" width="3" height="22.7" fill="#ef5350" fill-opacity="0.5"/>
<rect x="606" y="835.8" width="3" height="35.7" fill="#26a69a" fill-opacity="0.5"/>
<rect x="611" y="842.8" width="3" height="28.7" fill="#26a69a" fill-opacity="0.5"/>
<rect x="617" y="859.8" width="3" height="11.7" fill="#26a69a" fill-opacity="0.5"/>
<rect x="622" y="860.8" width="3" height="10.7" fill="#ef5350" fill-opacity="0.5"/>
<rect x="627" y="833.8" width="3" height="37.7" fill="#ef5350" fill-opacity="0.5"/>
<rect x="633" y="815.7" width="3" height="55.8" fill="#ef5350" fill-opacity="0.5"/>
<rect x="638" y="831.8" width="3" height="39.7" fill="#ef5350" fill-opacity="0.5"/>
<rect x="643" y="837.8" width="3" height="33.7" fill="#26a69a" fill-opacity="0.5"/>
<rect x="649" y="843.8" width="3" height="27.7" fill="#26a69a" fill-opacity="0.5"/>
<rect x="654" y="860.8" width="3" height="10.7" fill="#26a69a" fill-opacity="0.5"/>
<rect x="659" y="859.8" width="3" height="11.7" fill="#26a69a" fill-opacity="0.5"/>
<rect x="665" y="838.8" width="3" height="32.7" fill="#ef5350" fill-opacity="0.5"/>
<rect x="670" y="845.8" width="3" height="25.7" fill="#ef5350" fill-opacity="0.5"/>
<rect x="675" y="845.8" width="3" height="25.7" fill="#ef5350" fill-opacity="0.5"/>
<rect x="681" y="840.8" width="3" height="30.7" fill="#ef5350" fill-opacity="0.5"/>
<rect x="686" y="840.8" width="3" height="30.7" fill="#26a69a" fill-opacity="0.5"/>
<rect x="691" y="856.8" width="3" height="14.7" fill="#26a69a" fill-opacity="0.5"/>
<rect x="697" y="855.8" width="3" height="15.7" fill="#ef5350" fill-opacity="0.5"/>
<rect x="702" y="823.7" width="3" height="47.8" fill="#26a69a" fill-opacity="0.5"/>
<rect x="707" y="815.7" width="3" height="55.8" fill="#26a69a" fill-opacity="0.5"/>
<rect x="713" y="833.8" width="3" height="37.7" fill="#26a69a" fill-opacity="0.5"/>
<rect x="718" y="838.8" width="3" height="32.7" fill="#ef5350" fill-opacity="0.5"/>
<rect x="723" y="834.8" width="3" height="36.7" fill="#26a69a" fill-opacity="0.5"/>
<rect x="729" y="860.8" width="3" height="10.7" fill="#26a69a" fill-opacity="0.5"/>
<rect x="734" y="854.8" width="3" height="16.7" fill="#26a69a" fill-opacity="0.5"/>
<rect x="739" y="836.5" width="3" height="35" fill="#ef5350" fill-opacity="0.5"/>
<rect x="745" y="839.8" width="3" height="31.7" fill="#26a69a" fill-opacity="0.5"/>
<rect x="750" y="838.8" width="3" height="32.7" fill="#ef5350" fill-opacity="0.5"/>
<rect x="755" y="839.5" width="3" height="32" fill="#26a69a" fill-opacity="0.5"/>
<rect x="761" y="827.7" width="3" height="43.8" fill="#ef5350" fill-opacity="0.5"/>
<rect x="766" y="855.8" width="3" height="15.7" fill="#26a69a" fill-opacity="0.5"/>
<rect x="771" y="851.5" width="3" height="20" fill="#26a69a" fill-opacity="0.5"/>
<rect x="777" y="826.5" width="3" height="45" fill="#26a69a" fill-opacity="0.5"/>
<rect x="782" y="821.5" width="3" height="50" fill="#26a69a" fill-opacity="0.5"/>
<rect x="787" y="836.8" width="3" height="34.7" fill="#ef5350" fill-opacity="0.5"/>
<rect x="793" y="833.8" width="3" height="37.7" fill="#ef5350" fill-opacity="0.5"/>
<rect x="798" y="839.5" width="3" height="32" fill="#ef5350" fill-opacity="0.5"/>
<rect x="803" y="857.8" width="3" height="13.7" fill="#ef5350" fill-opacity="0.5"/>
<rect x="809" y="856.8" width="3" height="14.7" fill="#ef5350" fill-opacity="0.5"/>
<rect x="814" y="849.5" width="3" height="22" fill="#ef5350" fill-opacity="0.5"/>
<rect x="819" y="841.5" width="3" height="30" fill="#26a69a" fill-opacity="0.5"/>
<rect x="825" y="796.5" width="3" height="75" fill="#26a69a" fill-opacity="0.5"/>
<rect x="830" y="814.7" width="3" height="56.8" fill="#26a69a" fill-opacity="0.5"/>
<rect x="835" y="824.7" width="3" height="46.8" fill="#26a69a" fill-opacity="0.5"/>
<rect x="840" y="849.8" width="3" height="21.7" fill="#26a69a" fill-opacity="0.5"/>
<rect x="846" y="793.7" width="3" height="77.8" fill="#26a69a" fill-opacity="0.5"/>
<rect x="851" y="767.7" width="3" height="103.8" fill="#26a69a" fill-opacity="0.5"/>
<rect x="856" y="748.7" width="3" height="122.8" fill="#ef5350" fill-opacity="0.5"/>
<rect x="862" y="762.7" width="3" height="108.8" fill="#26a69a" fill-opacity="0.5"/>
<rect x="867" y="799.7" width="3" height="71.8" fill="#ef5350" fill-opacity="0.5"/>
<rect x="872" y="810.7" width="3" height="60.8" fill="#26a69a" fill-opacity="0.5"/>
<rect x="878" y="842.8" width="3" height="28.7" fill="#ef5350" fill-opacity="0.5"/>
<rect x="883" y="840.8" width="3" height="30.7" fill="#ef5350" fill-opacity="0.5"/>
<rect x="888" y="812.7" width="3" height="58.8" fill="#26a69a" fill-opacity="0.5"/>
<rect x="894" y="815.7" width="3" height="55.8" fill="#26a69a" fill-opacity="0.5"/>
<rect x="899" y="817.9" width="3" height="53.6" fill="#26a69a" fill-opacity="0.5"/>
<rect x="904" y="783.7" width="3" height="87.8" fill="#26a69a" fill-opacity="0.5"/>
<rect x="910" y="812.7" width="3" height="58.8" fill="#26a69a" fill-opacity="0.5"/>
<rect x="915" y="839.8" width="3" height="31.7" fill="#ef5350" fill-opacity="0.5"/>
<rect x="920" y="831.8" width="3" height="39.7" fill="#26a69a" fill-opacity="0.5"/>
<rect x="926" y="806.7" width="3" height="64.8" fill="#ef5350" fill-opacity="0.5"/>
<rect x="931" y="798.7" width="3" height="72.8" fill="#ef5350" fill-opacity="0.5"/>
<rect x="936" y="819.7" width="3" height="51.8" fill="#26a69a" fill-opacity="0.5"/>
<rect x="942" y="834.8" width="3" height="36.7" fill="#ef5350" fill-opacity="0.5"/>
<rect x="947" y="835.8" width="3" height="35.7" fill="#26a69a" fill-opacity="0.5"/>
<rect x="952" y="852.8" width="3" height="18.7" fill="#ef5350" fill-opacity="0.5"/>
<rect x="958" y="849.8" width="3" height="21.7" fill="#26a69a" fill-opacity="0.5"/>
<rect x="963" y="823.7" width="3" height="47.8" fill="#ef5350" fill-opacity="0.5"/>
<rect x="968" y="825.7" width="3" height="45.8" fill="#26a69a" fill-opacity="0.5"/>
<rect x="974" y="815.7" width="3" height="55.8" fill="#26a69a" fill-opacity="0.5"/>
<rect x="979" y="733.7" width="3" height="137.8" fill="#ef5350" fill-opacity="0.5"/>
<rect x="984" y="814.7" width="3" height="56.8" fill="#26a69a" fill-opacity="0.5"/>
<rect x="990" y="851.8" width="3" height="19.7" fill="#26a69a" fill-opacity="0.5"/>
<rect x="995" y="852.8" width="3" height="18.7" fill="#26a69a" fill-opacity="0.5"/>
<rect x="1000" y="803.7" width="3" height="67.8" fill="#ef5350" fill-opacity="0.5"/>
<rect x="1006" y="805.7" width="3" height="65.8" fill="#ef5350" fill-opacity="0.5"/>
<rect x="1011" y="823.7" width="3" height="47.8" fill="#26a69a" fill-opacity="0.5"/>
<rect x="1016" y="833.8" width="3" height="37.7" fill="#ef5350" fill-opacity="0.5"/>
<rect x="1022" y="843.8" width="3" height="27.7" fill="#26a69a" fill-opacity="0.5"/>
<rect x="1027" y="852.8" width="3" height="18.7" fill="#26a69a" fill-opacity="0.5"/>
<rect x="1032" y="842.8" width="3" height="28.7" fill="#26a69a" fill-opacity="0.5"/>
<rect x="1038" y="818.7" width="3" height="52.8" fill="#26a69a" fill-opacity="0.5"/>
<rect x="1043" y="834.8" width="3" height="36.7" fill="#26a69a" fill-opacity="0.5"/>
<rect x="1048" y="807.7" width="3" height="63.8" fill="#ef5350" fill-opacity="0.5"/>
<rect x="1054" y="801.7" width="3" height="69.8" fill="#ef5350" fill-opacity="0.5"/>
<rect x="1059" y="791.7" width="3" height="79.8" fill="#26a69a" fill-opacity="0.5"/>
<rect x="1064" y="841.8" width="3" height="29.7" fill="#ef5350" fill-opacity="0.5"/>
<rect x="1070" y="846.8" width="3" height="24.7" fill="#ef5350" fill-opacity="0.5"/>
<rect x="1075" y="829.8" width="3" height="41.7" fill="#ef5350" fill-opacity="0.5"/>
<rect x="1080" y="840.8" width="3" height="30.7" fill="#26a69a" fill-opacity="0.5"/>
<rect x="1086" y="852.8" width="3" height="18.7" fill="#26a69a" fill-opacity="0.5"/>
<rect x="1091" y="844.8" width="3" height="26.7" fill="#ef5350" fill-opacity="0.5"/>
<rect x="1096" y="837.8" width="3" height="33.7" fill="#ef5350" fill-opacity="0.5"/>
<rect x="1102" y="860.8" width="3" height="10.7" fill="#26a69a" fill-opacity="0.5"/>
<rect x="1107" y="853.8" width="3" height="17.7" fill="#ef5350" fill-opacity="0.5"/>
<rect x="1112" y="835.8" width="3" height="35.7" fill="#ef5350" fill-opacity="0.5"/>
<rect x="1118" y="845.8" width="3" height="25.7" fill="#26a69a" fill-opacity="0.5"/>
<rect x="1123" y="857.8" width="3" height="13.7" fill="#26a69a" fill-opacity="0.5"/>
<rect x="1128" y="843.8" width="3" height="27.7" fill="#26a69a" fill-opacity="0.5"/>
<rect x="1133" y="851.8" width="3" height="19.7" fill="#26a69a" fill-opacity="0.5"/>
<rect x="1139" y="859.8" width="3" height="11.7" fill="#26a69a" fill-opacity="0.5"/>
<rect x="1144" y="860.8" width="3" height="10.7" fill="#26a69a" fill-opacity="0.5"/>
<rect x="1149" y="838.8" width="3" height="32.7" fill="#26a69a" fill-opacity="0.5"/>
<rect x="1155" y="830.8" width="3" height="40.7" fill="#ef5350" fill-opacity="0.5"/>
<rect x="1160" y="828.7" width="3" height="42.8" fill="#ef5350" fill-opacity="0.5"/>
<rect x="1165" y="827.7" width="3" height="43.8" fill="#ef5350" fill-opacity="0.5"/>
<rect x="1171" y="831.8" width="3" height="39.7" fill="#26a69a" fill-opacity="0.5"/>
<rect x="1176" y="861.8" width="3" height="9.7" fill="#ef5350" fill-opacity="0.5"/>
<rect x="1181" y="859.8" width="3" height="11.7" fill="#ef5350" fill-opacity="0.5"/>
<rect x="1187" y="817.7" width="3" height="53.8" fill="#ef5350" fill-opacity="0.5"/>
<rect x="1192" y="835.8" width="3" height="35.7" fill="#26a69a" fill-opacity="0.5"/>
<rect x="1197" y="832.8" width="3" height="38.7" fill="#26a69a" fill-opacity="0.5"/>
<rect x="1203" y="835.8" width="3" height="35.7" fill="#ef5350" fill-opacity="0.5"/>
<rect x="1208" y="821.7" width="3" height="49.8" fill="#26a69a" fill-opacity="0.5"/>
<rect x="1213" y="840.8" width="3" height="30.7" fill="#26a69a" fill-opacity="0.5"/>
<rect x="1219" y="816.7" width="3" height="54.8" fill="#ef5350" fill-opacity="0.5"/>
<rect x="1224" y="758.7" width="3" height="112.8" fill="#26a69a" fill-opacity="0.5"/>
<rect x="1229" y="813.7" width="3" height="57.8" fill="#26a69a" fill-opacity="0.5"/>
<rect x="1235" y="842.8" width="3" height="28.7" fill="#ef5350" fill-opacity="0.5"/>
<rect x="1240" y="803.7" width="3" height="67.8" fill="#26a69a" fill-opacity="0.5"/>
<rect x="1245" y="841.8" width="3" height="29.7" fill="#26a69a" fill-opacity="0.5"/>
<rect x="1251" y="859.8" width="3" height="11.7" fill="#ef5350" fill-opacity="0.5"/>
<rect x="1256" y="858.8" width="3" height="12.7" fill="#ef5350" fill-opacity="0.5"/>
<rect x="1261" y="807.7" width="3" height="63.8" fill="#ef5350" fill-opacity="0.5"/>
<rect x="1267" y="842.8" width="3" height="28.7" fill="#ef5350" fill-opacity="0.5"/>
<rect x="1272" y="841.8" width="3" height="29.7" fill="#26a69a" fill-opacity="0.5"/>
<rect x="1277" y="846.8" width="3" height="24.7" fill="#26a69a" fill-opacity="0.5"/>
<rect x="1283" y="843.8" width="3" height="27.7" fill="#ef5350" fill-opacity="0.5"/>
<rect x="1288" y="855.8" width="3" height="15.7" fill="#ef5350" fill-opacity="0.5"/>
<rect x="1293" y="827.7" width="3" height="43.8" fill="#ef5350" fill-opacity="0.5"/>
<rect x="1299" y="776.7" width="3" height="94.8" fill="#26a69a" fill-opacity="0.5"/>
<rect x="1304" y="820.7" width="3" height="50.8" fill="#ef5350" fill-opacity="0.5"/>
<rect x="1309" y="837.8" width="3" height="33.7" fill="#ef5350" fill-opacity="0.5"/>
<rect x="1315" y="841.8" width="3" height="29.7" fill="#ef5350" fill-opacity="0.5"/>
<rect x="1320" y="830.8" width="3" height="40.7" fill="#ef5350" fill-opacity="0.5"/>
<rect x="1325" y="857.8" width="3" height="13.7" fill="#ef5350" fill-opacity="0.5"/>
<rect x="1331" y="852.8" width="3" height="18.7" fill="#26a69a" fill-opacity="0.5"/>
<rect x="1336" y="844.8" width="3" height="26.7" fill="#26a69a" fill-opacity="0.5"/>
<rect x="1341" y="847.8" width="3" height="23.7" fill="#ef5350" fill-opacity="0.5"/>
<rect x="1347" y="834.8" width="3" height="36.7" fill="#26a69a" fill-opacity="0.5"/>
<rect x="1352" y="845.8" width="3" height="25.7" fill="#ef5350" fill-opacity="0.5"/>
<rect x="1357" y="847.8" width="3" height="23.7" fill="#26a69a" fill-opacity="0.5"/>
<rect x="1363" y="861.8" width="3" height="9.7" fill="#26a69a" fill-opacity="0.5"/>
<rect x="1368" y="860.8" width="3" height="10.7" fill="#ef5350" fill-opacity="0.5"/>
<rect x="1373" y="849.8" width="3" height="21.7" fill="#ef5350" fill-opacity="0.5"/>
<rect x="1379" y="841.8" width="3" height="29.7" fill="#ef5350" fill-opacity="0.5"/>
<rect x="1384" y="849.8" width="3" height="21.7" fill="#26a69a" fill-opacity="0.5"/>
<rect x="1389" y="849.8" width="3" height="21.7" fill="#26a69a" fill-opacity="0.5"/>
<rect x="1395" y="830.8" width="3" height="40.7" fill="#ef5350" fill-opacity="0.5"/>
<rect x="1400" y="856.8" width="3" height="14.7" fill="#26a69a" fill-opacity="0.5"/>
<rect x="1405" y="856.8" width="3" height="14.7" fill="#ef5350" fill-opacity="0.5"/>
<rect x="1410" y="831.8" width="3" height="39.7" fill="#ef5350" fill-opacity="0.5"/>
<rect x="1416" y="772.7" width="3" height="98.8" fill="#ef5350" fill-opacity="0.5"/>
<rect x="1421" y="799.7" width="3" height="71.8" fill="#ef5350" fill-opacity="0.5"/>
<rect x="1426" y="817.7" width="3" height="53.8" fill="#26a69a" fill-opacity="0.5"/>
<rect x="1432" y="765.7" width="3" height="105.8" fill="#ef5350" fill-opacity="0.5"/>
<rect x="1437" y="838.8" width="3" height="32.7" fill="#26a69a" fill-opacity="0.5"/>
<rect x="1442" y="801.7" width="3" height="69.8" fill="#26a69a" fill-opacity="0.5"/>
<rect x="1448" y="796.7" width="3" height="74.8" fill="#ef5350" fill-opacity="0.5"/>
<rect x="1453" y="801.7" width="3" height="69.8" fill="#26a69a" fill-opacity="0.5"/>
<rect x="1458" y="822.7" width="3" height="48.8" fill="#26a69a" fill-opacity="0.5"/>
<rect x="1464" y="827.7" width="3" height="43.8" fill="#ef5350" fill-opacity="0.5"/>
<rect x="1469" y="798.7" width="3" height="72.8" fill="#ef5350" fill-opacity="0.5"/>
<rect x="1474" y="854.8" width="3" height="16.7" fill="#ef5350" fill-opacity="0.5"/>
<rect x="1480" y="837.8" width="3" height="33.7" fill="#ef5350" fill-opacity="0.5"/>
<rect x="1485" y="810.7" width="3" height="60.8" fill="#ef5350" fill-opacity="0.5"/>
<rect x="1490" y="809.7" width="3" height="61.8" fill="#26a69a" fill-opacity="0.5"/>
<rect x="1496" y="830.8" width="3" height="40.7" fill="#26a69a" fill-opacity="0.5"/>
<rect x="1501" y="836.8" width="3" height="34.7" fill="#ef5350" fill-opacity="0.5"/>
<rect x="1506" y="836.8" width="3" height="34.7" fill="#26a69a" fill-opacity="0.5"/>
<rect x="1512" y="856.8" width="3" height="14.7" fill="#26a69a" fill-opacity="0.5"/>
<rect x="1517" y="848.8" width="3" height="22.7" fill="#ef5350" fill-opacity="0.5"/>
<rect x="1522" y="848.8" width="3" height="22.7" fill="#26a69a" fill-opacity="0.5"/>
<rect x="1528" y="848.8" width="3" height="22.7" fill="#ef5350" fill-opacity="0.5"/>
<rect x="1533" y="835.8" width="3" height="35.7" fill="#26a69a" fill-opacity="0.5"/>
<rect x="1538" y="842.8" width="3" height="28.7" fill="#ef5350" fill-opacity="0.5"/>
<rect x="1544" y="855.8" width="3" height="15.7" fill="#ef5350" fill-opacity="0.5"/>
<rect x="1549" y="863.8" width="3" height="7.7" fill="#ef5350" fill-opacity="0.5"/>
<rect x="1554" y="859.8" width="3" height="11.7" fill="#26a69a" fill-opacity="0.5"/>
<rect x="1560" y="832.8" width="3" height="38.7" fill="#26a69a" fill-opacity="0.5"/>
<rect x="1565" y="842.8" width="3" height="28.7" fill="#ef5350" fill-opacity="0.5"/>
<rect x="1570" y="847.8" width="3" height="23.7" fill="#ef5350" fill-opacity="0.5"/>
<rect x="1576" y="849.8" width="3" height="21.7" fill="#26a69a" fill-opacity="0.5"/>
<rect x="1581" y="836.8" width="3" height="34.7" fill="#ef5350" fill-opacity="0.5"/>
<rect x="1586" y="855.8" width="3" height="15.7" fill="#ef5350" fill-opacity="0.5"/>
<rect x="1592" y="858.8" width="3" height="12.7" fill="#ef5350" fill-opacity="0.5"/>
<rect x="1597" y="844.8" width="3" height="26.7" fill="#26a69a" fill-opacity="0.5"/>
<rect x="1602" y="845.8" width="3" height="25.7" fill="#26a69a" fill-opacity="0.5"/>
<rect x="1608" y="820.7" width="3" height="50.8" fill="#ef5350" fill-opacity="0.5"/>
<rect x="1613" y="836.8" width="3" height="34.7" fill="#26a69a" fill-opacity="0.5"/>
<rect x="1618" y="829.8" width="3" height="41.7" fill="#26a69a" fill-opacity="0.5"/>
<rect x="1624" y="858.8" width="3" height="12.7" fill="#ef5350" fill-opacity="0.5"/>
<rect x="1629" y="835.8" width="3" height="35.7" fill="#ef5350" fill-opacity="0.5"/>
<rect x="1634" y="772.7" width="3" height="98.8" fill="#26a69a" fill-opacity="0.5"/>
<rect x="1640" y="826.7" width="3" height="44.8" fill="#ef5350" fill-opacity="0.5"/>
<rect x="1645" y="776.7" width="3" height="94.8" fill="#26a69a" fill-opacity="0.5"/>
<rect x="1650" y="828.7" width="3" height="42.8" fill="#ef5350" fill-opacity="0.5"/>
<rect x="1656" y="827.7" width="3" height="43.8" fill="#26a69a" fill-opacity="0.5"/>
<rect x="1661" y="847.8" width="3" height="23.7" fill="#26a69a" fill-opacity="0.5"/>
<rect x="1666" y="839.8" width="3" height="31.7" fill="#ef5350" fill-opacity="0.5"/>
<rect x="1672" y="834.8" width="3" height="36.7" fill="#26a69a" fill-opacity="0.5"/>
<rect x="1677" y="844.8" width="3" height="26.7" fill="#ef5350" fill-opacity="0.5"/>
<rect x="1682" y="844.8" width="3" height="26.7" fill="#26a69a" fill-opacity="0.5"/>
<rect x="1687" y="853.8" width="3" height="17.7" fill="#26a69a" fill-opacity="0.5"/>
<rect x="1693" y="862.8" width="3" height="8.7" fill="#ef5350" fill-opacity="0.5"/>
<rect x="1698" y="858.8" width="3" height="12.7" fill="#26a69a" fill-opacity="0.5"/>
<rect x="1703" y="860.8" width="3" height="10.7" fill="#26a69a" fill-opacity="0.5"/>
<rect x="1709" y="830.8" width="3" height="40.7" fill="#26a69a" fill-opacity="0.5"/>
<rect x="1714" y="815.7" width="3" height="55.8" fill="#26a69a" fill-opacity="0.5"/>
<rect x="1719" y="836.8" width="3" height="34.7" fill="#26a69a" fill-opacity="0.5"/>
<rect x="1725" y="846.8" width="3" height="24.7" fill="#26a69a" fill-opacity="0.5"/>
<rect x="1730" y="836.8" width="3" height="34.7" fill="#26a69a" fill-opacity="0.5"/>
<rect x="1735" y="858.8" width="3" height="12.7" fill="#ef5350" fill-opacity="0.5"/>
<rect x="1741" y="856.8" width="3" height="14.7" fill="#ef5350" fill-opacity="0.5"/>
<rect x="1746" y="842.8" width="3" height="28.7" fill="#26a69a" fill-opacity="0.5"/>
<rect x="1751" y="849.8" width="3" height="21.7" fill="#ef5350" fill-opacity="0.5"/>
<rect x="1757" y="848.8" width="3" height="22.7" fill="#ef5350" fill-opacity="0.5"/>
<rect x="1762" y="843.8" width="3" height="27.7" fill="#26a69a" fill-opacity="0.5"/>
<rect x="1767" y="851.8" width="3" height="19.7" fill="#26a69a" fill-opacity="0.5"/>
<rect x="1773" y="858.8" width="3" height="12.7" fill="#ef5350" fill-opacity="0.5"/>
<rect x="1778" y="856.8" width="3" height="14.7" fill="#ef5350" fill-opacity="0.5"/>
<rect x="1783" y="848.8" width="3" height="22.7" fill="#26a69a" fill-opacity="0.5"/>
<rect x="1789" y="850.8" width="3" height="20.7" fill="#26a69a" fill-opacity="0.5"/>
<rect x="1794" y="849.8" width="3" height="21.7" fill="#26a69a" fill-opacity="0.5"/>
<rect x="1799" y="826.7" width="3" height="44.8" fill="#26a69a" fill-opacity="0.5"/>
<rect x="1805" y="835.8" width="3" height="35.7" fill="#ef5350" fill-opacity="0.5"/>
<rect x="1810" y="851.8" width="3" height="19.7" fill="#26a69a" fill-opacity="0.5"/>
<rect x="1815" y="848.8" width="3" height="22.7" fill="#ef5350" fill-opacity="0.5"/>
<rect x="1821" y="831.8" width="3" height="39.7" fill="#ef5350" fill-opacity="0.5"/>
<rect x="1826" y="843.8" width="3" height="27.7" fill="#26a69a" fill-opacity="0.5"/>
<rect x="1831" y="849.8" width="3" height="21.7" fill="#ef5350" fill-opacity="0.5"/>
<rect x="1837" y="848.8" width="3" height="22.7" fill="#26a69a" fill-opacity="0.5"/>
<rect x="1842" y="850.8" width="3" height="20.7" fill="#ef5350" fill-opacity="0.5"/>
<rect x="1847" y="856.8" width="3" height="14.7" fill="#ef5350" fill-opacity="0.5"/>
<rect x="1853" y="843.8" width="3" height="27.7" fill="#26a69a" fill-opacity="0.5"/>
<rect x="1858" y="832.8" width="3" height="38.7" fill="#ef5350" fill-opacity="0.5"/>
<rect x="1863" y="840.8" width="3" height="30.7" fill="#26a69a" fill-opacity="0.5"/>
<rect x="1869" y="813.7" width="3" height="57.8" fill="#26a69a" fill-opacity="0.5"/>
<rect x="1874" y="830.8" width="3" height="40.7" fill="#26a69a" fill-opacity="0.5"/>
<rect x="1879" y="830.8" width="3" height="40.7" fill="#ef5350" fill-opacity="0.5"/>
<rect x="1885" y="857.5" width="3" height="14" fill="#26a69a" fill-opacity="0.5"/>
<rect x="1890" y="859.5" width="3" height="12" fill="#26a69a" fill-opacity="0.5"/>
<rect x="1895" y="846.5" width="3" height="25" fill="#26a69a" fill-opacity="0.5"/>
<rect x="1901" y="859.9" width="3" height="11.6" fill="#26a69a" fill-opacity="0.5"/>
<rect x="20" y="827" width="2" height="7" fill="#ef5350"/>
<rect x="18" y="831" width="6" height="2" fill="#ef5350"/>
<rect x="25" y="823" width="2" height="11" fill="#26a69a"/>
<rect x="24" y="827" width="5" height="4" fill="#26a69a"/>
<rect x="31" y="819" width="2" height="14" fill="#ef5350"/>
<rect x="29" y="827" width="6" height="2" fill="#ef5350"/>
<rect x="36" y="827" width="2" height="50" fill="#ef5350"/>
<rect x="35" y="828" width="5" height="32" fill="#ef5350"/>
<rect x="41" y="821" width="2" height="44" fill="#26a69a"/>
<rect x="40" y="846" width="5" height="14" fill="#26a69a"/>
<rect x="47" y="844" width="2" height="30" fill="#ef5350"/>
<rect x="45" y="846" width="6" height="23" fill="#ef5350"/>
<rect x="52" y="859" width="2" height="32" fill="#ef5350"/>
<rect x="51" y="869" width="5" height="8" fill="#ef5350"/>
<rect x="57" y="870" width="2" height="10" fill="#26a69a"/>
<rect x="56" y="874" width="5" height="3" fill="#26a69a"/>
<rect x="63" y="863" width="2" height="14" fill="#26a69a"/>
<rect x="61" y="869" width="6" height="5" fill="#26a69a"/>
<rect x="68" y="859" width="2" height="32" fill="#ef5350"/>
<rect x="67" y="869" width="5" height="2" fill="#ef5350"/>
<rect x="73" y="869" width="2" height="36" fill="#ef5350"/>
<rect x="72" y="870" width="5" height="20" fill="#ef5350"/>
<rect x="79" y="881" width="2" height="16" fill="#ef5350"/>
<rect x="77" y="890" width="6" height="2" fill="#ef5350"/>
<rect x="84" y="870" width="2" height="28" fill="#ef5350"/>
<rect x="83" y="892" width="5" height="2" fill="#ef5350"/>
<rect x="89" y="891" width="2" height="23" fill="#ef5350"/>
<rect x="88" y="893" width="5" height="11" fill="#ef5350"/>
<rect x="95" y="898" width="2" height="9" fill="#26a69a"/>
<rect x="93" y="902" width="6" height="2" fill="#26a69a"/>
<rect x="100" y="898" width="2" height="18" fill="#ef5350"/>
<rect x="99" y="902" width="5" height="14" fill="#ef5350"/>
<rect x="105" y="914" width="2" height="69" fill="#ef5350"/>
<rect x="104" y="916" width="5" height="41" fill="#ef5350"/>
<rect x="111" y="930" width="2" height="37" fill="#26a69a"/>
<rect x="109" y="936" width="6" height="21" fill="#26a69a"/>
<rect x="116" y="926" width="2" height="28" fill="#ef5350"/>
<rect x="115" y="936" width="5" height="14" fill="#ef5350"/>
<rect x="121" y="934" width="2" height="21" fill="#26a69a"/>
<rect x="120" y="939" width="5" height="11" fill="#26a69a"/>
<rect x="127" y="934" width="2" height="31" fill="#ef5350"/>
<rect x="125" y="939" width="6" height="18" fill="#ef5350"/>
<rect x="132" y="944" width="2" height="19" fill="#26a69a"/>
<rect x="131" y="948" width="5" height="9" fill="#26a69a"/>
<rect x="137" y="920" width="2" height="39" fill="#26a69a"/>
<rect x="136" y="923" width="5" height="25" fill="#26a69a"/>
<rect x="143" y="915" width="2" height="15" fill="#26a69a"/>
<rect x="141" y="921" width="6" height="2" fill="#26a69a"/>
<rect x="148" y="913" width="2" height="29" fill="#ef5350"/>
<rect x="147" y="921" width="5" height="11" fill="#ef5350"/>
<rect x="153" y="925" width="2" height="44" fill="#ef5350"/>
<rect x="152" y="932" width="5" height="26" fill="#ef5350"/>
<rect x="159" y="951" width="2" height="59" fill="#ef5350"/>
<rect x="157" y="958" width="6" height="45" fill="#ef5350"/>
<rect x="164" y="996" width="2" height="15" fill="#ef5350"/>
<rect x="163" y="1003" width="5" height="5" fill="#ef5350"/>
<rect x="169" y="980" width="2" height="33" fill="#26a69a"/>
<rect x="168" y="986" width="5" height="22" fill="#26a69a"/>
<rect x="175" y="984" width="2" height="44" fill="#ef5350"/>
<rect x="173" y="986" width="6" height="32" fill="#ef5350"/>
<rect x="180" y="1003" width="2" height="22" fill="#26a69a"/>
<rect x="179" y="1007" width="5" height="11" fill="#26a69a"/>
<rect x="185" y="980" width="2" height="35" fill="#26a69a"/>
<rect x="184" y="989" width="5" height="18" fill="#26a69a"/>
<rect x="191" y="984" width="2" height="16" fill="#ef5350"/>
<rect x="189" y="989" width="6" height="4" fill="#ef5350"/>
<rect x="196" y="986" width="2" height="22" fill="#ef5350"/>
<rect x="195" y="993" width="5" height="6" fill="#ef5350"/>
<rect x="201" y="987" width="2" height="19" fill="#26a69a"/>
<rect x="200" y="990" width="5" height="9" fill="#26a69a"/>
<rect x="207" y="967" width="2" height="28" fill="#26a69a"/>
<rect x="205" y="972" width="6" height="18" fill="#26a69a"/>
<rect x="212" y="941" width="2" height="38" fill="#26a69a"/>
<rect x="211" y="950" width="5" height="22" fill="#26a69a"/>
<rect x="217" y="893" width="2" height="60" fill="#26a69a"/>
<rect x="216" y="894" width="5" height="56" fill="#26a69a"/>
<rect x="223" y="886" width="2" height="42" fill="#26a69a"/>
<rect x="221" y="890" width="6" height="4" fill="#26a69a"/>
<rect x="228" y="876" width="2" height="31" fill="#ef5350"/>
<rect x="227" y="890" width="5" height="14" fill="#ef5350"/>
<rect x="233" y="890" width="2" height="26" fill="#ef5350"/>
<rect x="232" y="904" width="5" height="2" fill="#ef5350"/>
<rect x="239" y="858" width="2" height="57" fill="#26a69a"/>
<rect x="237" y="867" width="6" height="38" fill="#26a69a"/>
<rect x="244" y="855" width="2" height="19" fill="#26a69a"/>
<rect x="243" y="862" width="5" height="5" fill="#26a69a"/>
<rect x="249" y="844" width="2" height="36" fill="#26a69a"/>
<rect x="248" y="847" width="5" height="15" fill="#26a69a"/>
<rect x="255" y="842" width="2" height="27" fill="#ef5350"/>
<rect x="253" y="847" width="6" height="8" fill="#ef5350"/>
<rect x="260" y="852" width="2" height="32" fill="#ef5350"/>
<rect x="259" y="855" width="5" height="24" fill="#ef5350"/>
<rect x="265" y="862" width="2" height="28" fill="#ef5350"/>
<rect x="264" y="879" width="5" height="7" fill="#ef5350"/>
<rect x="271" y="874" width="2" height="38" fill="#26a69a"/>
<rect x="269" y="880" width="6" height="6" fill="#26a69a"/>
<rect x="276" y="847" width="2" height="34" fill="#26a69a"/>
<rect x="275" y="851" width="5" height="29" fill="#26a69a"/>
<rect x="281" y="830" width="2" height="39" fill="#26a69a"/>
<rect x="280" y="851" width="5" height="2" fill="#26a69a"/>
<rect x="286" y="845" width="2" height="18" fill="#26a69a"/>
<rect x="285" y="847" width="5" height="4" fill="#26a69a"/>
<rect x="292" y="821" width="2" height="51" fill="#ef5350"/>
<rect x="290" y="847" width="6" height="19" fill="#ef5350"/>
<rect x="297" y="863" width="2" height="24" fill="#ef5350"/>
<rect x="296" y="866" width="5" height="8" fill="#ef5350"/>
<rect x="302" y="866" width="2" height="32" fill="#ef5350"/>
<rect x="301" y="874" width="5" height="23" fill="#ef5350"/>
<rect x="308" y="881" width="2" height="49" fill="#26a69a"/>
<rect x="306" y="887" width="6" height="10" fill="#26a69a"/>
<rect x="313" y="883" width="2" height="61" fill="#ef5350"/>
<rect x="312" y="887" width="5" height="53" fill="#ef5350"/>
<rect x="318" y="930" width="2" height="34" fill="#ef5350"/>
<rect x="317" y="940" width="5" height="11" fill="#ef5350"/>
<rect x="324" y="946" width="2" height="56" fill="#ef5350"/>
<rect x="322" y="951" width="6" height="37" fill="#ef5350"/>
<rect x="329" y="985" width="2" height="130" fill="#ef5350"/>
<rect x="328" y="988" width="5" height="57" fill="#ef5350"/>
<rect x="334" y="1003" width="2" height="43" fill="#26a69a"/>
<rect x="333" y="1017" width="5" height="28" fill="#26a69a"/>
<rect x="340" y="993" width="2" height="43" fill="#ef5350"/>
<rect x="338" y="1017" width="6" height="12" fill="#ef5350"/>
<rect x="345" y="923" width="2" height="112" fill="#26a69a"/>
<rect x="344" y="937" width="5" height="92" fill="#26a69a"/>
<rect x="350" y="935" width="2" height="19" fill="#ef5350"/>
<rect x="349" y="937" width="5" height="11" fill="#ef5350"/>
<rect x="356" y="940" width="2" height="15" fill="#26a69a"/>
<rect x="354" y="948" width="6" height="2" fill="#26a69a"/>
<rect x="361" y="945" width="2" height="45" fill="#ef5350"/>
<rect x="360" y="948" width="5" height="31" fill="#ef5350"/>
<rect x="366" y="960" width="2" height="30" fill="#26a69a"/>
<rect x="365" y="969" width="5" height="10" fill="#26a69a"/>
<rect x="372" y="949" width="2" height="25" fill="#26a69a"/>
<rect x="370" y="953" width="6" height="16" fill="#26a69a"/>
<rect x="377" y="950" width="2" height="39" fill="#ef5350"/>
<rect x="376" y="953" width="5" height="26" fill="#ef5350"/>
<rect x="382" y="974" width="2" height="24" fill="#ef5350"/>
<rect x="381" y="979" width="5" height="16" fill="#ef5350"/>
<rect x="388" y="970" width="2" height="35" fill="#26a69a"/>
<rect x="386" y="976" width="6" height="19" fill="#26a69a"/>
<rect x="393" y="958" width="2" height="23" fill="#26a69a"/>
<rect x="392" y="968" width="5" height="8" fill="#26a69a"/>
<rect x="398" y="964" width="2" height="30" fill="#ef5350"/>
<rect x="397" y="968" width="5" height="15" fill="#ef5350"/>
<rect x="404" y="962" width="2" height="30" fill="#26a69a"/>
<rect x="402" y="969" width="6" height="14" fill="#26a69a"/>
<rect x="409" y="966" width="2" height="12" fill="#ef5350"/>
<rect x="408" y="969" width="5" height="6" fill="#ef5350"/>
<rect x="414" y="936" width="2" height="45" fill="#26a69a"/>
<rect x="413" y="944" width="5" height="31" fill="#26a69a"/>
<rect x="420" y="941" width="2" height="25" fill="#ef5350"/>
<rect x="418" y="944" width="6" height="11" fill="#ef5350"/>
<rect x="425" y="897" width="2" height="68" fill="#26a69a"/>
<rect x="424" y="905" width="5" height="50" fill="#26a69a"/>
<rect x="430" y="899" width="2" height="16" fill="#26a69a"/>
<rect x="429" y="902" width="5" height="3" fill="#26a69a"/>
<rect x="436" y="898" width="2" height="14" fill="#26a69a"/>
<rect x="434" y="901" width="6" height="2" fill="#26a69a"/>
<rect x="441" y="894" width="2" height="32" fill="#ef5350"/>
<rect x="440" y="901" width="5" height="20" fill="#ef5350"/>
<rect x="446" y="916" width="2" height="73" fill="#ef5350"/>
<rect x="445" y="921" width="5" height="47" fill="#ef5350"/>
<rect x="452" y="958" width="2" height="32" fill="#ef5350"/>
<rect x="450" y="968" width="6" height="7" fill="#ef5350"/>
<rect x="457" y="944" width="2" height="35" fill="#26a69a"/>
<rect x="456" y="969" width="5" height="6" fill="#26a69a"/>
<rect x="462" y="962" width="2" height="31" fill="#ef5350"/>
<rect x="461" y="969" width="5" height="5" fill="#ef5350"/>
<rect x="468" y="969" width="2" height="10" fill="#ef5350"/>
<rect x="466" y="974" width="6" height="2" fill="#ef5350"/>
<rect x="473" y="974" width="2" height="26" fill="#ef5350"/>
<rect x="472" y="975" width="5" height="24" fill="#ef5350"/>
<rect x="478" y="964" width="2" height="38" fill="#26a69a"/>
<rect x="477" y="974" width="5" height="25" fill="#26a69a"/>
<rect x="484" y="964" width="2" height="33" fill="#ef5350"/>
<rect x="482" y="974" width="6" height="22" fill="#ef5350"/>
<rect x="489" y="982" width="2" height="40" fill="#26a69a"/>
<rect x="488" y="989" width="5" height="7" fill="#26a69a"/>
<rect x="494" y="985" width="2" height="37" fill="#ef5350"/>
<rect x="493" y="989" width="5" height="25" fill="#ef5350"/>
<rect x="500" y="1003" width="2" height="61" fill="#ef5350"/>
<rect x="498" y="1014" width="6" height="32" fill="#ef5350"/>
<rect x="505" y="1038" width="2" height="15" fill="#26a69a"/>
<rect x="504" y="1042" width="5" height="4" fill="#26a69a"/>
<rect x="510" y="1021" width="2" height="24" fill="#26a69a"/>
<rect x="509" y="1032" width="5" height="10" fill="#26a69a"/>
<rect x="516" y="993" width="2" height="46" fill="#26a69a"/>
<rect x="514" y="1003" width="6" height="29" fill="#26a69a"/>
<rect x="521" y="988" width="2" height="25" fill="#26a69a"/>
<rect x="520" y="995" width="5" height="8" fill="#26a69a"/>
<rect x="526" y="989" width="2" height="17" fill="#ef5350"/>
<rect x="525" y="995" width="5" height="4" fill="#ef5350"/>
<rect x="532" y="979" width="2" height="31" fill="#26a69a"/>
<rect x="530" y="988" width="6" height="11" fill="#26a69a"/>
<rect x="537" y="949" width="2" height="48" fill="#26a69a"/>
<rect x="536" y="954" width="5" height="34" fill="#26a69a"/>
<rect x="542" y="945" width="2" height="24" fill="#ef5350"/>
<rect x="541" y="954" width="5" height="7" fill="#ef5350"/>
<rect x="548" y="955" width="2" height="24" fill="#ef5350"/>
<rect x="546" y="961" width="6" height="13" fill="#ef5350"/>
<rect x="553" y="971" width="2" height="19" fill="#ef5350"/>
<rect x="552" y="974" width="5" height="12" fill="#ef5350"/>
<rect x="558" y="954" width="2" height="41" fill="#26a69a"/>
<rect x="557" y="957" width="5" height="29" fill="#26a69a"/>
<rect x="563" y="931" width="2" height="30" fill="#26a69a"/>
<rect x="562" y="936" width="5" height="21" fill="#26a69a"/>
<rect x="569" y="917" width="2" height="29" fill="#26a69a"/>
<rect x="567" y="921" width="6" height="15" fill="#26a69a"/>
<rect x="574" y="906" width="2" height="23" fill="#26a69a"/>
<rect x="573" y="916" width="5" height="5" fill="#26a69a"/>
<rect x="579" y="910" width="2" height="11" fill="#26a69a"/>
<rect x="578" y="915" width="5" height="2" fill="#26a69a"/>
<rect x="585" y="906" width="2" height="16" fill="#26a69a"/>
<rect x="583" y="911" width="6" height="4" fill="#26a69a"/>
<rect x="590" y="907" width="2" height="14" fill="#ef5350"/>
<rect x="589" y="911" width="5" height="4" fill="#ef5350"/>
<rect x="595" y="896" width="2" height="30" fill="#26a69a"/>
<rect x="594" y="901" width="5" height="14" fill="#26a69a"/>
<rect x="601" y="890" width="2" height="35" fill="#ef5350"/>
<rect x="599" y="901" width="6" height="17" fill="#ef5350"/>
<rect x="606" y="884" width="2" height="45" fill="#26a69a"/>
<rect x="605" y="888" width="5" height="30" fill="#26a69a"/>
<rect x="611" y="870" width="2" height="24" fill="#26a69a"/>
<rect x="610" y="880" width="5" height="8" fill="#26a69a"/>
<rect x="617" y="873" width="2" height="13" fill="#26a69a"/>
<rect x="615" y="879" width="6" height="2" fill="#26a69a"/>
<rect x="622" y="876" width="2" height="10" fill="#ef5350"/>
<rect x="621" y="879" width="5" height="4" fill="#ef5350"/>
<rect x="627" y="883" width="2" height="38" fill="#ef5350"/>
<rect x="626" y="883" width="5" height="32" fill="#ef5350"/>
<rect x="633" y="904" width="2" height="54" fill="#ef5350"/>
<rect x="631" y="915" width="6" height="35" fill="#ef5350"/>
<rect x="638" y="928" width="2" height="33" fill="#ef5350"/>
<rect x="637" y="950" width="5" height="3" fill="#ef5350"/>
<rect x="643" y="940" width="2" height="24" fill="#26a69a"/>
<rect x="642" y="950" width="5" height="3" fill="#26a69a"/>
<rect x="649" y="926" width="2" height="29" fill="#26a69a"/>
<rect x="647" y="932" width="6" height="18" fill="#26a69a"/>
<rect x="654" y="928" width="2" height="9" fill="#26a69a"/>
<rect x="653" y="932" width="5" height="2" fill="#26a69a"/>
<rect x="659" y="919" width="2" height="17" fill="#26a69a"/>
<rect x="658" y="922" width="5" height="10" fill="#26a69a"/>
<rect x="665" y="898" width="2" height="34" fill="#ef5350"/>
<rect x="663" y="922" width="6" height="8" fill="#ef5350"/>
<rect x="670" y="916" width="2" height="20" fill="#ef5350"/>
<rect x="669" y="930" width="5" height="2" fill="#ef5350"/>
<rect x="675" y="926" width="2" height="31" fill="#ef5350"/>
<rect x="674" y="932" width="5" height="21" fill="#ef5350"/>
<rect x="681" y="943" width="2" height="33" fill="#ef5350"/>
<rect x="679" y="953" width="6" height="2" fill="#ef5350"/>
<rect x="686" y="914" width="2" height="47" fill="#26a69a"/>
<rect x="685" y="928" width="5" height="27" fill="#26a69a"/>
<rect x="691" y="912" width="2" height="16" fill="#26a69a"/>
<rect x="690" y="916" width="5" height="12" fill="#26a69a"/>
<rect x="697" y="915" width="2" height="18" fill="#ef5350"/>
<rect x="695" y="916" width="6" height="5" fill="#ef5350"/>
<rect x="702" y="870" width="2" height="58" fill="#26a69a"/>
<rect x="701" y="877" width="5" height="44" fill="#26a69a"/>
<rect x="707" y="851" width="2" height="43" fill="#26a69a"/>
<rect x="706" y="863" width="5" height="14" fill="#26a69a"/>
<rect x="713" y="844" width="2" height="23" fill="#26a69a"/>
<rect x="711" y="855" width="6" height="8" fill="#26a69a"/>
<rect x="718" y="851" width="2" height="18" fill="#ef5350"/>
<rect x="717" y="855" width="5" height="3" fill="#ef5350"/>
<rect x="723" y="835" width="2" height="25" fill="#26a69a"/>
<rect x="722" y="844" width="5" height="14" fill="#26a69a"/>
<rect x="729" y="840" width="2" height="9" fill="#26a69a"/>
<rect x="727" y="844" width="6" height="2" fill="#26a69a"/>
<rect x="734" y="830" width="2" height="18" fill="#26a69a"/>
<rect x="733" y="835" width="5" height="9" fill="#26a69a"/>
<rect x="739" y="828" width="2" height="38" fill="#ef5350"/>
<rect x="738" y="835" width="5" height="23" fill="#ef5350"/>
<rect x="745" y="852" width="2" height="17" fill="#26a69a"/>
<rect x="743" y="858" width="6" height="2" fill="#26a69a"/>
<rect x="750" y="858" width="2" height="30" fill="#ef5350"/>
<rect x="749" y="858" width="5" height="9" fill="#ef5350"/>
<rect x="755" y="837" width="2" height="33" fill="#26a69a"/>
<rect x="754" y="847" width="5" height="20" fill="#26a69a"/>
<rect x="761" y="838" width="2" height="45" fill="#ef5350"/>
<rect x="759" y="847" width="6" height="22" fill="#ef5350"/>
<rect x="766" y="858" width="2" height="14" fill="#26a69a"/>
<rect x="765" y="863" width="5" height="6" fill="#26a69a"/>
<rect x="771" y="845" width="2" height="20" fill="#26a69a"/>
<rect x="770" y="851" width="5" height="12" fill="#26a69a"/>
<rect x="777" y="817" width="2" height="39" fill="#26a69a"/>
<rect x="775" y="823" width="6" height="28" fill="#26a69a"/>
<rect x="782" y="771" width="2" height="55" fill="#26a69a"/>
<rect x="781" y="784" width="5" height="39" fill="#26a69a"/>
<rect x="787" y="780" width="2" height="22" fill="#ef5350"/>
<rect x="786" y="784" width="5" height="5" fill="#ef5350"/>
<rect x="793" y="784" width="2" height="42" fill="#ef5350"/>
<rect x="791" y="789" width="6" height="30" fill="#ef5350"/>
<rect x="798" y="799" width="2" height="39" fill="#ef5350"/>
<rect x="797" y="817" width="5" height="11" fill="#ef5350"/>
<rect x="803" y="823" width="2" height="12" fill="#ef5350"/>
<rect x="802" y="828" width="5" height="2" fill="#ef5350"/>
<rect x="809" y="830" width="2" height="26" fill="#ef5350"/>
<rect x="807" y="830" width="6" height="8" fill="#ef5350"/>
<rect x="814" y="828" width="2" height="38" fill="#ef5350"/>
<rect x="813" y="838" width="5" height="14" fill="#ef5350"/>
<rect x="819" y="813" width="2" height="43" fill="#26a69a"/>
<rect x="818" y="830" width="5" height="22" fill="#26a69a"/>
<rect x="825" y="732" width="2" height="99" fill="#26a69a"/>
<rect x="823" y="743" width="6" height="87" fill="#26a69a"/>
<rect x="830" y="725" width="2" height="35" fill="#26a69a"/>
<rect x="829" y="739" width="5" height="4" fill="#26a69a"/>
<rect x="835" y="719" width="2" height="24" fill="#26a69a"/>
<rect x="834" y="731" width="5" height="8" fill="#26a69a"/>
<rect x="840" y="725" width="2" height="17" fill="#26a69a"/>
<rect x="839" y="728" width="5" height="3" fill="#26a69a"/>
<rect x="846" y="661" width="2" height="70" fill="#26a69a"/>
<rect x="844" y="676" width="6" height="52" fill="#26a69a"/>
<rect x="851" y="549" width="2" height="130" fill="#26a69a"/>
<rect x="850" y="562" width="5" height="114" fill="#26a69a"/>
<rect x="856" y="542" width="2" height="69" fill="#ef5350"/>
<rect x="855" y="562" width="5" height="9" fill="#ef5350"/>
<rect x="862" y="496" width="2" height="101" fill="#26a69a"/>
<rect x="860" y="537" width="6" height="34" fill="#26a69a"/>
<rect x="867" y="517" width="2" height="71" fill="#ef5350"/>
<rect x="866" y="537" width="5" height="43" fill="#ef5350"/>
<rect x="872" y="516" width="2" height="67" fill="#26a69a"/>
<rect x="871" y="528" width="5" height="52" fill="#26a69a"/>
<rect x="878" y="517" width="2" height="24" fill="#ef5350"/>
<rect x="876" y="528" width="6" height="6" fill="#ef5350"/>
<rect x="883" y="523" width="2" height="37" fill="#ef5350"/>
<rect x="882" y="534" width="5" height="10" fill="#ef5350"/>
<rect x="888" y="506" width="2" height="45" fill="#26a69a"/>
<rect x="887" y="535" width="5" height="9" fill="#26a69a"/>
<rect x="894" y="486" width="2" height="51" fill="#26a69a"/>
<rect x="892" y="510" width="6" height="25" fill="#26a69a"/>
<rect x="899" y="474" width="2" height="47" fill="#26a69a"/>
<rect x="898" y="482" width="5" height="28" fill="#26a69a"/>
<rect x="904" y="417" width="2" height="69" fill="#26a69a"/>
<rect x="903" y="426" width="5" height="56" fill="#26a69a"/>
<rect x="910" y="408" width="2" height="34" fill="#26a69a"/>
<rect x="908" y="417" width="6" height="9" fill="#26a69a"/>
<rect x="915" y="417" width="2" height="26" fill="#ef5350"/>
<rect x="914" y="417" width="5" height="18" fill="#ef5350"/>
<rect x="920" y="422" width="2" height="41" fill="#26a69a"/>
<rect x="919" y="430" width="5" height="5" fill="#26a69a"/>
<rect x="926" y="418" width="2" height="88" fill="#ef5350"/>
<rect x="924" y="430" width="6" height="70" fill="#ef5350"/>
<rect x="931" y="474" width="2" height="57" fill="#ef5350"/>
<rect x="930" y="500" width="5" height="16" fill="#ef5350"/>
<rect x="936" y="442" width="2" height="75" fill="#26a69a"/>
<rect x="935" y="460" width="5" height="56" fill="#26a69a"/>
<rect x="942" y="450" width="2" height="28" fill="#ef5350"/>
<rect x="940" y="460" width="6" height="4" fill="#ef5350"/>
<rect x="947" y="422" width="2" height="45" fill="#26a69a"/>
<rect x="946" y="439" width="5" height="25" fill="#26a69a"/>
<rect x="952" y="437" width="2" height="20" fill="#ef5350"/>
<rect x="951" y="439" width="5" height="14" fill="#ef5350"/>
<rect x="958" y="432" width="2" height="31" fill="#26a69a"/>
<rect x="956" y="442" width="6" height="11" fill="#26a69a"/>
<rect x="963" y="429" width="2" height="52" fill="#ef5350"/>
<rect x="962" y="442" width="5" height="19" fill="#ef5350"/>
<rect x="968" y="454" width="2" height="38" fill="#26a69a"/>
<rect x="967" y="460" width="5" height="2" fill="#26a69a"/>
<rect x="974" y="417" width="2" height="61" fill="#26a69a"/>
<rect x="972" y="422" width="6" height="38" fill="#26a69a"/>
<rect x="979" y="347" width="2" height="188" fill="#ef5350"/>
<rect x="978" y="422" width="5" height="22" fill="#ef5350"/>
<rect x="984" y="375" width="2" height="78" fill="#26a69a"/>
<rect x="983" y="406" width="5" height="38" fill="#26a69a"/>
<rect x="990" y="397" width="2" height="20" fill="#26a69a"/>
<rect x="988" y="405" width="6" height="2" fill="#26a69a"/>
<rect x="995" y="383" width="2" height="42" fill="#26a69a"/>
<rect x="994" y="387" width="5" height="18" fill="#26a69a"/>
<rect x="1000" y="386" width="2" height="98" fill="#ef5350"/>
<rect x="999" y="387" width="5" height="55" fill="#ef5350"/>
<rect x="1006" y="426" width="2" height="56" fill="#ef5350"/>
<rect x="1004" y="442" width="6" height="8" fill="#ef5350"/>
<rect x="1011" y="376" width="2" height="87" fill="#26a69a"/>
<rect x="1010" y="387" width="5" height="63" fill="#26a69a"/>
<rect x="1016" y="368" width="2" height="44" fill="#ef5350"/>
<rect x="1015" y="387" width="5" height="16" fill="#ef5350"/>
<rect x="1022" y="376" width="2" height="43" fill="#26a69a"/>
<rect x="1020" y="383" width="6" height="20" fill="#26a69a"/>
<rect x="1027" y="366" width="2" height="28" fill="#26a69a"/>
<rect x="1026" y="383" width="5" height="2" fill="#26a69a"/>
<rect x="1032" y="331" width="2" height="55" fill="#26a69a"/>
<rect x="1031" y="341" width="5" height="42" fill="#26a69a"/>
<rect x="1038" y="294" width="2" height="62" fill="#26a69a"/>
<rect x="1036" y="319" width="6" height="22" fill="#26a69a"/>
<rect x="1043" y="286" width="2" height="43" fill="#26a69a"/>
<rect x="1042" y="317" width="5" height="2" fill="#26a69a"/>
<rect x="1048" y="312" width="2" height="91" fill="#ef5350"/>
<rect x="1047" y="317" width="5" height="83" fill="#ef5350"/>
<rect x="1054" y="363" width="2" height="100" fill="#ef5350"/>
<rect x="1052" y="400" width="6" height="37" fill="#ef5350"/>
<rect x="1059" y="428" width="2" height="83" fill="#26a69a"/>
<rect x="1058" y="433" width="5" height="4" fill="#26a69a"/>
<rect x="1064" y="410" width="2" height="43" fill="#ef5350"/>
<rect x="1063" y="433" width="5" height="9" fill="#ef5350"/>
<rect x="1070" y="439" width="2" height="45" fill="#ef5350"/>
<rect x="1068" y="442" width="6" height="28" fill="#ef5350"/>
<rect x="1075" y="451" width="2" height="56" fill="#ef5350"/>
<rect x="1074" y="470" width="5" height="4" fill="#ef5350"/>
<rect x="1080" y="410" width="2" height="83" fill="#26a69a"/>
<rect x="1079" y="421" width="5" height="53" fill="#26a69a"/>
<rect x="1086" y="408" width="2" height="28" fill="#26a69a"/>
<rect x="1084" y="411" width="6" height="10" fill="#26a69a"/>
<rect x="1091" y="404" width="2" height="66" fill="#ef5350"/>
<rect x="1090" y="411" width="5" height="50" fill="#ef5350"/>
<rect x="1096" y="437" width="2" height="56" fill="#ef5350"/>
<rect x="1095" y="461" width="5" height="21" fill="#ef5350"/>
<rect x="1102" y="463" width="2" height="22" fill="#26a69a"/>
<rect x="1100" y="468" width="6" height="14" fill="#26a69a"/>
<rect x="1107" y="468" width="2" height="32" fill="#ef5350"/>
<rect x="1106" y="468" width="5" height="23" fill="#ef5350"/>
<rect x="1112" y="472" width="2" height="49" fill="#ef5350"/>
<rect x="1111" y="491" width="5" height="12" fill="#ef5350"/>
<rect x="1118" y="454" width="2" height="60" fill="#26a69a"/>
<rect x="1116" y="492" width="6" height="11" fill="#26a69a"/>
<rect x="1123" y="470" width="2" height="32" fill="#26a69a"/>
<rect x="1122" y="478" width="5" height="14" fill="#26a69a"/>
<rect x="1128" y="433" width="2" height="51" fill="#26a69a"/>
<rect x="1127" y="446" width="5" height="32" fill="#26a69a"/>
<rect x="1133" y="418" width="2" height="39" fill="#26a69a"/>
<rect x="1132" y="428" width="5" height="18" fill="#26a69a"/>
<rect x="1139" y="419" width="2" height="18" fill="#26a69a"/>
<rect x="1137" y="428" width="6" height="2" fill="#26a69a"/>
<rect x="1144" y="419" width="2" height="21" fill="#26a69a"/>
<rect x="1143" y="425" width="5" height="3" fill="#26a69a"/>
<rect x="1149" y="368" width="2" height="64" fill="#26a69a"/>
<rect x="1148" y="372" width="5" height="53" fill="#26a69a"/>
<rect x="1155" y="365" width="2" height="92" fill="#ef5350"/>
<rect x="1153" y="372" width="6" height="72" fill="#ef5350"/>
<rect x="1160" y="440" width="2" height="67" fill="#ef5350"/>
<rect x="1159" y="444" width="5" height="27" fill="#ef5350"/>
<rect x="1165" y="467" width="2" height="58" fill="#ef5350"/>
<rect x="1164" y="471" width="5" height="35" fill="#ef5350"/>
<rect x="1171" y="460" width="2" height="51" fill="#26a69a"/>
<rect x="1169" y="477" width="6" height="29" fill="#26a69a"/>
<rect x="1176" y="472" width="2" height="17" fill="#ef5350"/>
<rect x="1175" y="477" width="5" height="2" fill="#ef5350"/>
<rect x="1181" y="467" width="2" height="24" fill="#ef5350"/>
<rect x="1180" y="478" width="5" height="2" fill="#ef5350"/>
<rect x="1187" y="460" width="2" height="92" fill="#ef5350"/>
<rect x="1185" y="479" width="6" height="2" fill="#ef5350"/>
<rect x="1192" y="439" width="2" height="43" fill="#26a69a"/>
<rect x="1191" y="450" width="5" height="29" fill="#26a69a"/>
<rect x="1197" y="393" width="2" height="58" fill="#26a69a"/>
<rect x="1196" y="396" width="5" height="54" fill="#26a69a"/>
<rect x="1203" y="390" width="2" height="50" fill="#ef5350"/>
<rect x="1201" y="396" width="6" height="7" fill="#ef5350"/>
<rect x="1208" y="320" width="2" height="84" fill="#26a69a"/>
<rect x="1207" y="345" width="5" height="58" fill="#26a69a"/>
<rect x="1213" y="334" width="2" height="38" fill="#26a69a"/>
<rect x="1212" y="340" width="5" height="5" fill="#26a69a"/>
<rect x="1219" y="313" width="2" height="95" fill="#ef5350"/>
<rect x="1217" y="340" width="6" height="44" fill="#ef5350"/>
<rect x="1224" y="269" width="2" height="141" fill="#26a69a"/>
<rect x="1223" y="370" width="5" height="14" fill="#26a69a"/>
<rect x="1229" y="302" width="2" height="99" fill="#26a69a"/>
<rect x="1228" y="317" width="5" height="53" fill="#26a69a"/>
<rect x="1235" y="313" width="2" height="43" fill="#ef5350"/>
<rect x="1233" y="317" width="6" height="34" fill="#ef5350"/>
<rect x="1240" y="308" width="2" height="78" fill="#26a69a"/>
<rect x="1239" y="348" width="5" height="3" fill="#26a69a"/>
<rect x="1245" y="303" width="2" height="60" fill="#26a69a"/>
<rect x="1244" y="334" width="5" height="14" fill="#26a69a"/>
<rect x="1251" y="329" width="2" height="16" fill="#ef5350"/>
<rect x="1249" y="334" width="6" height="3" fill="#ef5350"/>
<rect x="1256" y="326" width="2" height="42" fill="#ef5350"/>
<rect x="1255" y="337" width="5" height="29" fill="#ef5350"/>
<rect x="1261" y="358" width="2" height="75" fill="#ef5350"/>
<rect x="1260" y="366" width="5" height="7" fill="#ef5350"/>
<rect x="1267" y="349" width="2" height="51" fill="#ef5350"/>
<rect x="1265" y="373" width="6" height="11" fill="#ef5350"/>
<rect x="1272" y="336" width="2" height="48" fill="#26a69a"/>
<rect x="1271" y="351" width="5" height="33" fill="#26a69a"/>
<rect x="1277" y="312" width="2" height="44" fill="#26a69a"/>
<rect x="1276" y="337" width="5" height="14" fill="#26a69a"/>
<rect x="1283" y="319" width="2" height="63" fill="#ef5350"/>
<rect x="1281" y="337" width="6" height="32" fill="#ef5350"/>
<rect x="1288" y="363" width="2" height="35" fill="#ef5350"/>
<rect x="1287" y="369" width="5" height="25" fill="#ef5350"/>
<rect x="1293" y="382" width="2" height="74" fill="#ef5350"/>
<rect x="1292" y="394" width="5" height="41" fill="#ef5350"/>
<rect x="1299" y="368" width="2" height="157" fill="#26a69a"/>
<rect x="1297" y="384" width="6" height="51" fill="#26a69a"/>
<rect x="1304" y="379" width="2" height="77" fill="#ef5350"/>
<rect x="1303" y="384" width="5" height="49" fill="#ef5350"/>
<rect x="1309" y="415" width="2" height="41" fill="#ef5350"/>
<rect x="1308" y="433" width="5" height="17" fill="#ef5350"/>
<rect x="1315" y="415" width="2" height="48" fill="#ef5350"/>
<rect x="1313" y="450" width="6" height="2" fill="#ef5350"/>
<rect x="1320" y="401" width="2" height="63" fill="#ef5350"/>
<rect x="1319" y="451" width="5" height="2" fill="#ef5350"/>
<rect x="1325" y="446" width="2" height="17" fill="#ef5350"/>
<rect x="1324" y="451" width="5" height="2" fill="#ef5350"/>
<rect x="1331" y="440" width="2" height="37" fill="#26a69a"/>
<rect x="1329" y="453" width="6" height="2" fill="#26a69a"/>
<rect x="1336" y="426" width="2" height="44" fill="#26a69a"/>
<rect x="1335" y="439" width="5" height="14" fill="#26a69a"/>
<rect x="1341" y="423" width="2" height="51" fill="#ef5350"/>
<rect x="1340" y="439" width="5" height="22" fill="#ef5350"/>
<rect x="1347" y="429" width="2" height="56" fill="#26a69a"/>
<rect x="1345" y="432" width="6" height="29" fill="#26a69a"/>
<rect x="1352" y="429" width="2" height="41" fill="#ef5350"/>
<rect x="1351" y="432" width="5" height="18" fill="#ef5350"/>
<rect x="1357" y="418" width="2" height="36" fill="#26a69a"/>
<rect x="1356" y="437" width="5" height="13" fill="#26a69a"/>
<rect x="1363" y="432" width="2" height="10" fill="#26a69a"/>
<rect x="1361" y="436" width="6" height="2" fill="#26a69a"/>
<rect x="1368" y="435" width="2" height="23" fill="#ef5350"/>
<rect x="1367" y="436" width="5" height="21" fill="#ef5350"/>
<rect x="1373" y="444" width="2" height="26" fill="#ef5350"/>
<rect x="1372" y="457" width="5" height="4" fill="#ef5350"/>
<rect x="1379" y="449" width="2" height="46" fill="#ef5350"/>
<rect x="1377" y="461" width="6" height="3" fill="#ef5350"/>
<rect x="1384" y="446" width="2" height="26" fill="#26a69a"/>
<rect x="1383" y="450" width="5" height="14" fill="#26a69a"/>
<rect x="1389" y="421" width="2" height="32" fill="#26a69a"/>
<rect x="1388" y="426" width="5" height="24" fill="#26a69a"/>
<rect x="1395" y="410" width="2" height="65" fill="#ef5350"/>
<rect x="1393" y="426" width="6" height="31" fill="#ef5350"/>
<rect x="1400" y="444" width="2" height="19" fill="#26a69a"/>
<rect x="1399" y="451" width="5" height="6" fill="#26a69a"/>
<rect x="1405" y="449" width="2" height="21" fill="#ef5350"/>
<rect x="1404" y="451" width="5" height="5" fill="#ef5350"/>
<rect x="1410" y="451" width="2" height="77" fill="#ef5350"/>
<rect x="1409" y="456" width="5" height="65" fill="#ef5350"/>
<rect x="1416" y="507" width="2" height="91" fill="#ef5350"/>
<rect x="1414" y="521" width="6" height="39" fill="#ef5350"/>
<rect x="1421" y="551" width="2" height="100" fill="#ef5350"/>
<rect x="1420" y="560" width="5" height="66" fill="#ef5350"/>
<rect x="1426" y="584" width="2" height="60" fill="#26a69a"/>
<rect x="1425" y="616" width="5" height="10" fill="#26a69a"/>
<rect x="1432" y="611" width="2" height="96" fill="#ef5350"/>
<rect x="1430" y="616" width="6" height="6" fill="#ef5350"/>
<rect x="1437" y="591" width="2" height="38" fill="#26a69a"/>
<rect x="1436" y="598" width="5" height="24" fill="#26a69a"/>
<rect x="1442" y="472" width="2" height="136" fill="#26a69a"/>
<rect x="1441" y="484" width="5" height="114" fill="#26a69a"/>
<rect x="1448" y="481" width="2" height="131" fill="#ef5350"/>
<rect x="1446" y="484" width="6" height="111" fill="#ef5350"/>
<rect x="1453" y="558" width="2" height="103" fill="#26a69a"/>
<rect x="1452" y="581" width="5" height="14" fill="#26a69a"/>
<rect x="1458" y="528" width="2" height="66" fill="#26a69a"/>
<rect x="1457" y="534" width="5" height="47" fill="#26a69a"/>
<rect x="1464" y="503" width="2" height="70" fill="#ef5350"/>
<rect x="1462" y="534" width="6" height="10" fill="#ef5350"/>
<rect x="1469" y="524" width="2" height="92" fill="#ef5350"/>
<rect x="1468" y="544" width="5" height="44" fill="#ef5350"/>
<rect x="1474" y="585" width="2" height="24" fill="#ef5350"/>
<rect x="1473" y="588" width="5" height="7" fill="#ef5350"/>
<rect x="1480" y="591" width="2" height="91" fill="#ef5350"/>
<rect x="1478" y="595" width="6" height="78" fill="#ef5350"/>
<rect x="1485" y="625" width="2" height="93" fill="#ef5350"/>
<rect x="1484" y="673" width="5" height="28" fill="#ef5350"/>
<rect x="1490" y="632" width="2" height="97" fill="#26a69a"/>
<rect x="1489" y="641" width="5" height="60" fill="#26a69a"/>
<rect x="1496" y="619" width="2" height="54" fill="#26a69a"/>
<rect x="1494" y="630" width="6" height="11" fill="#26a69a"/>
<rect x="1501" y="622" width="2" height="61" fill="#ef5350"/>
<rect x="1500" y="630" width="5" height="38" fill="#ef5350"/>
<rect x="1506" y="608" width="2" height="63" fill="#26a69a"/>
<rect x="1505" y="626" width="5" height="42" fill="#26a69a"/>
<rect x="1512" y="616" width="2" height="14" fill="#26a69a"/>
<rect x="1510" y="622" width="6" height="4" fill="#26a69a"/>
<rect x="1517" y="611" width="2" height="43" fill="#ef5350"/>
<rect x="1516" y="622" width="5" height="23" fill="#ef5350"/>
<rect x="1522" y="615" width="2" height="33" fill="#26a69a"/>
<rect x="1521" y="626" width="5" height="19" fill="#26a69a"/>
<rect x="1528" y="626" width="2" height="40" fill="#ef5350"/>
<rect x="1526" y="626" width="6" height="18" fill="#ef5350"/>
<rect x="1533" y="584" width="2" height="63" fill="#26a69a"/>
<rect x="1532" y="587" width="5" height="57" fill="#26a69a"/>
<rect x="1538" y="577" width="2" height="55" fill="#ef5350"/>
<rect x="1537" y="587" width="5" height="36" fill="#ef5350"/>
<rect x="1544" y="613" width="2" height="24" fill="#ef5350"/>
<rect x="1542" y="623" width="6" height="3" fill="#ef5350"/>
<rect x="1549" y="619" width="2" height="11" fill="#ef5350"/>
<rect x="1548" y="626" width="5" height="3" fill="#ef5350"/>
<rect x="1554" y="597" width="2" height="32" fill="#26a69a"/>
<rect x="1553" y="598" width="5" height="31" fill="#26a69a"/>
<rect x="1560" y="559" width="2" height="46" fill="#26a69a"/>
<rect x="1558" y="577" width="6" height="21" fill="#26a69a"/>
<rect x="1565" y="563" width="2" height="31" fill="#ef5350"/>
<rect x="1564" y="577" width="5" height="2" fill="#ef5350"/>
<rect x="1570" y="566" width="2" height="33" fill="#ef5350"/>
<rect x="1569" y="578" width="5" height="7" fill="#ef5350"/>
<rect x="1576" y="573" width="2" height="28" fill="#26a69a"/>
<rect x="1574" y="581" width="6" height="4" fill="#26a69a"/>
<rect x="1581" y="577" width="2" height="55" fill="#ef5350"/>
<rect x="1580" y="581" width="5" height="39" fill="#ef5350"/>
<rect x="1586" y="618" width="2" height="41" fill="#ef5350"/>
<rect x="1585" y="620" width="5" height="25" fill="#ef5350"/>
<rect x="1592" y="633" width="2" height="26" fill="#ef5350"/>
<rect x="1590" y="645" width="6" height="3" fill="#ef5350"/>
<rect x="1597" y="627" width="2" height="37" fill="#26a69a"/>
<rect x="1596" y="647" width="5" height="2" fill="#26a69a"/>
<rect x="1602" y="604" width="2" height="44" fill="#26a69a"/>
<rect x="1601" y="609" width="5" height="38" fill="#26a69a"/>
<rect x="1608" y="563" width="2" height="87" fill="#ef5350"/>
<rect x="1606" y="609" width="6" height="38" fill="#ef5350"/>
<rect x="1613" y="627" width="2" height="38" fill="#26a69a"/>
<rect x="1612" y="637" width="5" height="10" fill="#26a69a"/>
<rect x="1618" y="616" width="2" height="43" fill="#26a69a"/>
<rect x="1617" y="627" width="5" height="10" fill="#26a69a"/>
<rect x="1624" y="622" width="2" height="26" fill="#ef5350"/>
<rect x="1622" y="627" width="6" height="6" fill="#ef5350"/>
<rect x="1629" y="629" width="2" height="93" fill="#ef5350"/>
<rect x="1628" y="633" width="5" height="71" fill="#ef5350"/>
<rect x="1634" y="665" width="2" height="94" fill="#26a69a"/>
<rect x="1633" y="693" width="5" height="11" fill="#26a69a"/>
<rect x="1640" y="669" width="2" height="66" fill="#ef5350"/>
<rect x="1638" y="693" width="6" height="40" fill="#ef5350"/>
<rect x="1645" y="632" width="2" height="125" fill="#26a69a"/>
<rect x="1644" y="645" width="5" height="88" fill="#26a69a"/>
<rect x="1650" y="643" width="2" height="60" fill="#ef5350"/>
<rect x="1649" y="645" width="5" height="42" fill="#ef5350"/>
<rect x="1656" y="622" width="2" height="75" fill="#26a69a"/>
<rect x="1654" y="634" width="6" height="53" fill="#26a69a"/>
<rect x="1661" y="597" width="2" height="46" fill="#26a69a"/>
<rect x="1660" y="608" width="5" height="26" fill="#26a69a"/>
<rect x="1666" y="597" width="2" height="43" fill="#ef5350"/>
<rect x="1665" y="608" width="5" height="22" fill="#ef5350"/>
<rect x="1672" y="601" width="2" height="29" fill="#26a69a"/>
<rect x="1670" y="618" width="6" height="12" fill="#26a69a"/>
<rect x="1677" y="591" width="2" height="41" fill="#ef5350"/>
<rect x="1676" y="618" width="5" height="14" fill="#ef5350"/>
<rect x="1682" y="605" width="2" height="34" fill="#26a69a"/>
<rect x="1681" y="626" width="5" height="6" fill="#26a69a"/>
<rect x="1687" y="605" width="2" height="25" fill="#26a69a"/>
<rect x="1686" y="613" width="5" height="13" fill="#26a69a"/>
<rect x="1693" y="611" width="2" height="11" fill="#ef5350"/>
<rect x="1691" y="613" width="6" height="6" fill="#ef5350"/>
<rect x="1698" y="602" width="2" height="18" fill="#26a69a"/>
<rect x="1697" y="611" width="5" height="8" fill="#26a69a"/>
<rect x="1703" y="608" width="2" height="19" fill="#26a69a"/>
<rect x="1702" y="609" width="5" height="2" fill="#26a69a"/>
<rect x="1709" y="563" width="2" height="48" fill="#26a69a"/>
<rect x="1707" y="577" width="6" height="32" fill="#26a69a"/>
<rect x="1714" y="488" width="2" height="95" fill="#26a69a"/>
<rect x="1713" y="495" width="5" height="82" fill="#26a69a"/>
<rect x="1719" y="477" width="2" height="39" fill="#26a69a"/>
<rect x="1718" y="491" width="5" height="4" fill="#26a69a"/>
<rect x="1725" y="486" width="2" height="32" fill="#26a69a"/>
<rect x="1723" y="488" width="6" height="3" fill="#26a69a"/>
<rect x="1730" y="461" width="2" height="41" fill="#26a69a"/>
<rect x="1729" y="477" width="5" height="11" fill="#26a69a"/>
<rect x="1735" y="470" width="2" height="18" fill="#ef5350"/>
<rect x="1734" y="477" width="5" height="2" fill="#ef5350"/>
<rect x="1741" y="467" width="2" height="26" fill="#ef5350"/>
<rect x="1739" y="478" width="6" height="11" fill="#ef5350"/>
<rect x="1746" y="464" width="2" height="39" fill="#26a69a"/>
<rect x="1745" y="472" width="5" height="17" fill="#26a69a"/>
<rect x="1751" y="465" width="2" height="23" fill="#ef5350"/>
<rect x="1750" y="472" width="5" height="10" fill="#ef5350"/>
<rect x="1757" y="470" width="2" height="30" fill="#ef5350"/>
<rect x="1755" y="482" width="6" height="2" fill="#ef5350"/>
<rect x="1762" y="439" width="2" height="46" fill="#26a69a"/>
<rect x="1761" y="451" width="5" height="33" fill="#26a69a"/>
<rect x="1767" y="432" width="2" height="22" fill="#26a69a"/>
<rect x="1766" y="446" width="5" height="5" fill="#26a69a"/>
<rect x="1773" y="446" width="2" height="17" fill="#ef5350"/>
<rect x="1771" y="446" width="6" height="14" fill="#ef5350"/>
<rect x="1778" y="454" width="2" height="31" fill="#ef5350"/>
<rect x="1777" y="460" width="5" height="22" fill="#ef5350"/>
<rect x="1783" y="470" width="2" height="23" fill="#26a69a"/>
<rect x="1782" y="477" width="5" height="5" fill="#26a69a"/>
<rect x="1789" y="446" width="2" height="49" fill="#26a69a"/>
<rect x="1787" y="447" width="6" height="30" fill="#26a69a"/>
<rect x="1794" y="435" width="2" height="26" fill="#26a69a"/>
<rect x="1793" y="444" width="5" height="3" fill="#26a69a"/>
<rect x="1799" y="345" width="2" height="101" fill="#26a69a"/>
<rect x="1798" y="358" width="5" height="86" fill="#26a69a"/>
<rect x="1805" y="341" width="2" height="29" fill="#ef5350"/>
<rect x="1803" y="358" width="6" height="3" fill="#ef5350"/>
<rect x="1810" y="334" width="2" height="29" fill="#26a69a"/>
<rect x="1809" y="336" width="5" height="25" fill="#26a69a"/>
<rect x="1815" y="333" width="2" height="22" fill="#ef5350"/>
<rect x="1814" y="336" width="5" height="9" fill="#ef5350"/>
<rect x="1821" y="322" width="2" height="71" fill="#ef5350"/>
<rect x="1819" y="345" width="6" height="18" fill="#ef5350"/>
<rect x="1826" y="334" width="2" height="49" fill="#26a69a"/>
<rect x="1825" y="345" width="5" height="18" fill="#26a69a"/>
<rect x="1831" y="343" width="2" height="23" fill="#ef5350"/>
<rect x="1830" y="345" width="5" height="9" fill="#ef5350"/>
<rect x="1837" y="344" width="2" height="39" fill="#26a69a"/>
<rect x="1835" y="349" width="6" height="5" fill="#26a69a"/>
<rect x="1842" y="340" width="2" height="19" fill="#ef5350"/>
<rect x="1841" y="349" width="5" height="5" fill="#ef5350"/>
<rect x="1847" y="351" width="2" height="15" fill="#ef5350"/>
<rect x="1846" y="354" width="5" height="5" fill="#ef5350"/>
<rect x="1853" y="309" width="2" height="50" fill="#26a69a"/>
<rect x="1851" y="312" width="6" height="47" fill="#26a69a"/>
<rect x="1858" y="303" width="2" height="72" fill="#ef5350"/>
<rect x="1857" y="312" width="5" height="12" fill="#ef5350"/>
<rect x="1863" y="301" width="2" height="43" fill="#26a69a"/>
<rect x="1862" y="308" width="5" height="16" fill="#26a69a"/>
<rect x="1869" y="252" width="2" height="65" fill="#26a69a"/>
<rect x="1867" y="269" width="6" height="39" fill="#26a69a"/>
<rect x="1874" y="235" width="2" height="39" fill="#26a69a"/>
<rect x="1873" y="239" width="5" height="30" fill="#26a69a"/>
<rect x="1879" y="238" width="2" height="70" fill="#ef5350"/>
<rect x="1878" y="239" width="5" height="62" fill="#ef5350"/>
<rect x="1885" y="270" width="2" height="36" fill="#26a69a"/>
<rect x="1883" y="294" width="6" height="7" fill="#26a69a"/>
<rect x="1890" y="273" width="2" height="37" fill="#26a69a"/>
<rect x="1889" y="277" width="5" height="17" fill="#26a69a"/>
<rect x="1895" y="257" width="2" height="24" fill="#26a69a"/>
<rect x="1894" y="271" width="5" height="6" fill="#26a69a"/>
<rect x="1901" y="264" width="2" height="34" fill="#26a69a"/>
<rect x="1899" y="265" width="6" height="6" fill="#26a69a"/>
<line x1="20" y1="265" x2="2117" y2="265" stroke="#26a69a" stroke-width="2" stroke-dasharray="2 4"/>
<g transform="translate(1902,847)"><circle r="19.4" fill="#fff" stroke="#9c27b0" stroke-width="3"/><path d="M6,-10.4 L-8.6,0.3 L-0.7,1.3 L-6.4,10.6 L8.4,-1.1 L0.6,-1.9 Z" fill="#9c27b0"/><circle cx="13.8" cy="-14" r="8" fill="#fff"/><circle cx="13.8" cy="-14" r="5.1" fill="#f23645"/></g>
</g>
<text x="34.7" y="94" font-size="24.5" fill="#131722" textLength="79.3" lengthAdjust="spacingAndGlyphs">Bitcoin</text>
<text x="121" y="94" font-size="24.5" fill="#131722" textLength="8.7" lengthAdjust="spacingAndGlyphs">/</text>
<text x="136" y="94" font-size="24.5" fill="#131722" textLength="103.9" lengthAdjust="spacingAndGlyphs">TetherUS</text>
<text x="243.3" y="94" font-size="24.5" fill="#131722" textLength="13.3" lengthAdjust="spacingAndGlyphs">·</text>
<text x="260.6" y="94" font-size="24.5" fill="#131722" textLength="26.9" lengthAdjust="spacingAndGlyphs">1D</text>
<text x="292.2" y="94" font-size="24.5" fill="#131722" textLength="14" lengthAdjust="spacingAndGlyphs">·</text>
<text x="309.7" y="94" font-size="24.5" fill="#131722" textLength="105.3" lengthAdjust="spacingAndGlyphs">BINANCE</text>
<text x="427.8" y="94" font-size="24.5" fill="#131722" textLength="19.7" lengthAdjust="spacingAndGlyphs">O</text>
<text x="446.6" y="94" font-size="24.5" fill="#26a69a" textLength="128.1" lengthAdjust="spacingAndGlyphs">109,434.78</text>
<text x="586.4" y="94" font-size="24.5" fill="#131722" textLength="20.4" lengthAdjust="spacingAndGlyphs">H</text>
<text x="604.5" y="94" font-size="24.5" fill="#26a69a" textLength="129.5" lengthAdjust="spacingAndGlyphs">109,899.00</text>
<text x="746.6" y="94" font-size="24.5" fill="#131722" textLength="14.3" lengthAdjust="spacingAndGlyphs">L</text>
<text x="759.7" y="94" font-size="24.5" fill="#26a69a" textLength="120" lengthAdjust="spacingAndGlyphs">107,516.57</text>
<text x="892" y="94" font-size="24.5" fill="#131722" textLength="18.5" lengthAdjust="spacingAndGlyphs">C</text>
<text x="909.1" y="94" font-size="24.5" fill="#26a69a" textLength="126.6" lengthAdjust="spacingAndGlyphs">109,867.99</text>
<text x="1047.7" y="94" font-size="24.5" fill="#26a69a" textLength="211.4" lengthAdjust="spacingAndGlyphs">+433.20 (+0.40%)</text>
<text x="36.8" y="128" font-size="24.5" fill="#131722" textLength="35.1" lengthAdjust="spacingAndGlyphs">Vol</text>
<text x="74.4" y="128" font-size="24.5" fill="#131722" textLength="14" lengthAdjust="spacingAndGlyphs">·</text>
<text x="91.3" y="128" font-size="24.5" fill="#131722" textLength="47.9" lengthAdjust="spacingAndGlyphs">BTC</text>
<text x="151.8" y="128" font-size="24.5" fill="#26a69a" textLength="66.5" lengthAdjust="spacingAndGlyphs">9.21K</text>
<text x="35.4" y="161.5" font-size="24.5" fill="#131722" textLength="51" lengthAdjust="spacingAndGlyphs">EMA</text>
<text x="95.1" y="161.5" font-size="24.5" fill="#131722" textLength="44.7" lengthAdjust="spacingAndGlyphs">(50,</text>
<text x="146.8" y="161.5" font-size="24.5" fill="#131722" textLength="67.5" lengthAdjust="spacingAndGlyphs">close,</text>
<text x="218.7" y="161.5" font-size="24.5" fill="#131722" textLength="49" lengthAdjust="spacingAndGlyphs">100,</text>
<text x="274.7" y="161.5" font-size="24.5" fill="#131722" textLength="67" lengthAdjust="spacingAndGlyphs">close,</text>
<text x="347.9" y="161.5" font-size="24.5" fill="#131722" textLength="51.6" lengthAdjust="spacingAndGlyphs">200,</text>
<text x="405" y="161.5" font-size="24.5" fill="#131722" textLength="69.6" lengthAdjust="spacingAndGlyphs">close)</text>
<text x="487.7" y="161.5" font-size="24.5" fill="#ff2424" textLength="118.9" lengthAdjust="spacingAndGlyphs">99,099.46</text>
<text x="618.8" y="161.5" font-size="24.5" fill="#2962ff" textLength="109.7" lengthAdjust="spacingAndGlyphs">95,011.45</text>
<text x="741.8" y="161.5" font-size="24.5" fill="#9c27b0" textLength="110.7" lengthAdjust="spacingAndGlyphs">90,071.25</text>
<text x="35.7" y="195.7" font-size="24.5" fill="#131722" textLength="126.8" lengthAdjust="spacingAndGlyphs">Supertrend</text>
<text x="171.1" y="195.7" font-size="24.5" fill="#131722" textLength="39.5" lengthAdjust="spacingAndGlyphs">(10,</text>
<text x="217.5" y="195.7" font-size="24.5" fill="#131722" textLength="42.3" lengthAdjust="spacingAndGlyphs">hl2,</text>
<text x="266.8" y="195.7" font-size="24.5" fill="#131722" textLength="23" lengthAdjust="spacingAndGlyphs">3)</text>
<text x="302.1" y="195.7" font-size="24.5" fill="#4caf50" textLength="127.1" lengthAdjust="spacingAndGlyphs">101,390.89</text>
<text x="594.1" y="195.7" font-size="24.5" fill="#2196f3" textLength="124.6" lengthAdjust="spacingAndGlyphs">109,179.59</text>
<text x="450.5" y="195" font-size="22" fill="#131722" text-anchor="middle" font-family="'DejaVu Sans', sans-serif">∅</text>
<text x="481" y="195" font-size="22" fill="#131722" text-anchor="middle" font-family="'DejaVu Sans', sans-serif">∅</text>
<text x="511.5" y="195" font-size="22" fill="#131722" text-anchor="middle" font-family="'DejaVu Sans', sans-serif">∅</text>
<text x="542.5" y="195" font-size="22" fill="#131722" text-anchor="middle" font-family="'DejaVu Sans', sans-serif">∅</text>
<text x="573" y="195" font-size="22" fill="#131722" text-anchor="middle" font-family="'DejaVu Sans', sans-serif">∅</text>
<g clip-path="url(#cr)">
<rect x="20" y="920" width="2097" height="85" fill="#7e57c2" fill-opacity="0.1"/>
<line x1="20" y1="920" x2="2117" y2="920" stroke="#787b86" stroke-width="2" stroke-dasharray="10 12"/>
<line x1="20" y1="962.5" x2="2117" y2="962.5" stroke="#b2b5be" stroke-width="2" stroke-dasharray="10 12"/>
<line x1="20" y1="1005" x2="2117" y2="1005" stroke="#787b86" stroke-width="2" stroke-dasharray="10 12"/>
<polygon points="15.8,920 15.8,920 21.1,920 26.5,920 31.8,920 37.1,920 42.4,920 47.8,920 53.1,920 58.4,920 63.8,920 69.1,920 74.4,920 79.7,920 85.1,920 90.4,920 95.7,920 101,920 106.4,920 111.7,920 117,920 122.4,920 127.7,920 133,920 138.3,920 143.7,920 149,920 154.3,920 159.6,920 165,920 170.3,920 175.6,920 180.9,920 186.3,920 191.6,920 196.9,920 202.3,920 207.6,920 212.9,920 218.2,920 223.6,920 228.9,920 234.2,920 239.5,920 244.9,920 250.2,920 255.5,920 260.9,920 266.2,920 271.5,920 276.8,920 282.2,920 287.5,920 292.8,920 298.1,920 303.5,920 308.8,920 314.1,920 319.5,920 324.8,920 330.1,920 335.4,920 340.8,920 346.1,920 351.4,920 356.7,920 362.1,920 367.4,920 372.7,920 378,920 383.4,920 388.7,920 394,920 399.4,920 404.7,920 410,920 415.3,920 420.7,920 426,920 431.3,920 436.6,920 442,920 447.3,920 452.6,920 458,920 463.3,920 468.6,920 473.9,920 479.3,920 484.6,920 489.9,920 495.2,920 500.6,920 505.9,920 511.2,920 516.5,920 521.9,920 527.2,920 532.5,920 537.9,920 543.2,920 548.5,920 553.8,920 559.2,920 564.5,920 569.8,920 575.1,920 580.5,920 585.8,920 591.1,920 596.5,920 601.8,920 607.1,920 612.4,920 617.8,920 623.1,920 628.4,920 633.7,920 639.1,920 644.4,920 649.7,920 655.1,920 660.4,920 665.7,920 671,920 676.4,920 681.7,920 687,920 692.3,920 697.7,920 703,920 708.3,920 713.6,920 719,920 724.3,920 729.6,920 735,918 740.3,920 745.6,920 750.9,920 756.3,920 761.6,920 766.9,920 772.2,920 777.6,920 782.9,915.5 788.2,919.7 793.6,920 798.9,920 804.2,920 809.5,920 814.9,920 820.2,920 825.5,919.5 830.8,918.5 836.2,916.4 841.5,915.7 846.8,904.3 852.2,889.2 857.5,894.2 862.8,890.5 868.1,911 873.5,904 878.8,906.4 884.1,910.8 889.4,909.5 894.8,905.6 900.1,901.6 905.4,894.9 910.7,893.9 916.1,902.9 921.4,902.3 926.7,920 932.1,920 937.4,920 942.7,920 948,920 953.4,920 958.7,920 964,920 969.3,920 974.7,920 980,920 985.3,920 990.7,920 996,920 1001.3,920 1006.6,920 1012,920 1017.3,920 1022.6,920 1027.9,920 1033.3,920 1038.6,920 1043.9,920 1049.2,920 1054.6,920 1059.9,920 1065.2,920 1070.6,920 1075.9,920 1081.2,920 1086.5,920 1091.9,920 1097.2,920 1102.5,920 1107.8,920 1113.2,920 1118.5,920 1123.8,920 1129.2,920 1134.5,920 1139.8,920 1145.1,920 1150.5,920 1155.8,920 1161.1,920 1166.4,920 1171.8,920 1177.1,920 1182.4,920 1187.8,920 1193.1,920 1198.4,920 1203.7,920 1209.1,920 1214.4,920 1219.7,920 1225,920 1230.4,920 1235.7,920 1241,920 1246.3,920 1251.7,920 1257,920 1262.3,920 1267.7,920 1273,920 1278.3,920 1283.6,920 1289,920 1294.3,920 1299.6,920 1304.9,920 1310.3,920 1315.6,920 1320.9,920 1326.3,920 1331.6,920 1336.9,920 1342.2,920 1347.6,920 1352.9,920 1358.2,920 1363.5,920 1368.9,920 1374.2,920 1379.5,920 1384.9,920 1390.2,920 1395.5,920 1400.8,920 1406.2,920 1411.5,920 1416.8,920 1422.1,920 1427.5,920 1432.8,920 1438.1,920 1443.4,920 1448.8,920 1454.1,920 1459.4,920 1464.8,920 1470.1,920 1475.4,920 1480.7,920 1486.1,920 1491.4,920 1496.7,920 1502,920 1507.4,920 1512.7,920 1518,920 1523.4,920 1528.7,920 1534,920 1539.3,920 1544.7,920 1550,920 1555.3,920 1560.6,920 1566,920 1571.3,920 1576.6,920 1582,920 1587.3,920 1592.6,920 1597.9,920 1603.3,920 1608.6,920 1613.9,920 1619.2,920 1624.6,920 1629.9,920 1635.2,920 1640.5,920 1645.9,920 1651.2,920 1656.5,920 1661.9,920 1667.2,920 1672.5,920 1677.8,920 1683.2,920 1688.5,920 1693.8,920 1699.1,920 1704.5,920 1709.8,920 1715.1,920 1720.5,920 1725.8,920 1731.1,920 1736.4,920 1741.8,920 1747.1,920 1752.4,920 1757.7,920 1763.1,920 1768.4,919.6 1773.7,920 1779,920 1784.4,920 1789.7,920 1795,920 1800.4,907.8 1805.7,909.4 1811,904.8 1816.3,910.5 1821.7,920 1827,916.6 1832.3,920 1837.6,920 1843,920 1848.3,920 1853.6,913.6 1859,920 1864.3,916.9 1869.6,908.2 1874.9,902.8 1880.3,920 1885.6,920 1890.9,920 1896.2,920 1901.6,920 1901.6,920" fill="url(#gob)"/>
<polygon points="15.8,1005 15.8,1005 21.1,1005 26.5,1005 31.8,1005 37.1,1005 42.4,1005 47.8,1005 53.1,1005 58.4,1005 63.8,1005 69.1,1005 74.4,1005 79.7,1005 85.1,1005 90.4,1005 95.7,1005 101,1005 106.4,1014.2 111.7,1005 117,1005 122.4,1005 127.7,1005 133,1005 138.3,1005 143.7,1005 149,1005 154.3,1005 159.6,1007.1 165,1008.7 170.3,1005 175.6,1005 180.9,1005 186.3,1005 191.6,1005 196.9,1005 202.3,1005 207.6,1005 212.9,1005 218.2,1005 223.6,1005 228.9,1005 234.2,1005 239.5,1005 244.9,1005 250.2,1005 255.5,1005 260.9,1005 266.2,1005 271.5,1005 276.8,1005 282.2,1005 287.5,1005 292.8,1005 298.1,1005 303.5,1005 308.8,1005 314.1,1005 319.5,1005 324.8,1005 330.1,1012.3 335.4,1005 340.8,1005 346.1,1005 351.4,1005 356.7,1005 362.1,1005 367.4,1005 372.7,1005 378,1005 383.4,1005 388.7,1005 394,1005 399.4,1005 404.7,1005 410,1005 415.3,1005 420.7,1005 426,1005 431.3,1005 436.6,1005 442,1005 447.3,1005 452.6,1005 458,1005 463.3,1005 468.6,1005 473.9,1005 479.3,1005 484.6,1005 489.9,1005 495.2,1005 500.6,1005 505.9,1005 511.2,1005 516.5,1005 521.9,1005 527.2,1005 532.5,1005 537.9,1005 543.2,1005 548.5,1005 553.8,1005 559.2,1005 564.5,1005 569.8,1005 575.1,1005 580.5,1005 585.8,1005 591.1,1005 596.5,1005 601.8,1005 607.1,1005 612.4,1005 617.8,1005 623.1,1005 628.4,1005 633.7,1005 639.1,1005 644.4,1005 649.7,1005 655.1,1005 660.4,1005 665.7,1005 671,1005 676.4,1005 681.7,1005 687,1005 692.3,1005 697.7,1005 703,1005 708.3,1005 713.6,1005 719,1005 724.3,1005 729.6,1005 735,1005 740.3,1005 745.6,1005 750.9,1005 756.3,1005 761.6,1005 766.9,1005 772.2,1005 777.6,1005 782.9,1005 788.2,1005 793.6,1005 798.9,1005 804.2,1005 809.5,1005 814.9,1005 820.2,1005 825.5,1005 830.8,1005 836.2,1005 841.5,1005 846.8,1005 852.2,1005 857.5,1005 862.8,1005 868.1,1005 873.5,1005 878.8,1005 884.1,1005 889.4,1005 894.8,1005 900.1,1005 905.4,1005 910.7,1005 916.1,1005 921.4,1005 926.7,1005 932.1,1005 937.4,1005 942.7,1005 948,1005 953.4,1005 958.7,1005 964,1005 969.3,1005 974.7,1005 980,1005 985.3,1005 990.7,1005 996,1005 1001.3,1005 1006.6,1005 1012,1005 1017.3,1005 1022.6,1005 1027.9,1005 1033.3,1005 1038.6,1005 1043.9,1005 1049.2,1005 1054.6,1005 1059.9,1005 1065.2,1005 1070.6,1005 1075.9,1005 1081.2,1005 1086.5,1005 1091.9,1005 1097.2,1005 1102.5,1005 1107.8,1005 1113.2,1005 1118.5,1005 1123.8,1005 1129.2,1005 1134.5,1005 1139.8,1005 1145.1,1005 1150.5,1005 1155.8,1005 1161.1,1005 1166.4,1005 1171.8,1005 1177.1,1005 1182.4,1005 1187.8,1005 1193.1,1005 1198.4,1005 1203.7,1005 1209.1,1005 1214.4,1005 1219.7,1005 1225,1005 1230.4,1005 1235.7,1005 1241,1005 1246.3,1005 1251.7,1005 1257,1005 1262.3,1005 1267.7,1005 1273,1005 1278.3,1005 1283.6,1005 1289,1005 1294.3,1005 1299.6,1005 1304.9,1005 1310.3,1005 1315.6,1005 1320.9,1005 1326.3,1005 1331.6,1005 1336.9,1005 1342.2,1005 1347.6,1005 1352.9,1005 1358.2,1005 1363.5,1005 1368.9,1005 1374.2,1005 1379.5,1005 1384.9,1005 1390.2,1005 1395.5,1005 1400.8,1005 1406.2,1005 1411.5,1005 1416.8,1005.3 1422.1,1017.6 1427.5,1012.7 1432.8,1013.7 1438.1,1005 1443.4,1005 1448.8,1005 1454.1,1005 1459.4,1005 1464.8,1005 1470.1,1005 1475.4,1005 1480.7,1005 1486.1,1005 1491.4,1005 1496.7,1005 1502,1005 1507.4,1005 1512.7,1005 1518,1005 1523.4,1005 1528.7,1005 1534,1005 1539.3,1005 1544.7,1005 1550,1005 1555.3,1005 1560.6,1005 1566,1005 1571.3,1005 1576.6,1005 1582,1005 1587.3,1005 1592.6,1005 1597.9,1005 1603.3,1005 1608.6,1005 1613.9,1005 1619.2,1005 1624.6,1005 1629.9,1005 1635.2,1005 1640.5,1005 1645.9,1005 1651.2,1005 1656.5,1005 1661.9,1005 1667.2,1005 1672.5,1005 1677.8,1005 1683.2,1005 1688.5,1005 1693.8,1005 1699.1,1005 1704.5,1005 1709.8,1005 1715.1,1005 1720.5,1005 1725.8,1005 1731.1,1005 1736.4,1005 1741.8,1005 1747.1,1005 1752.4,1005 1757.7,1005 1763.1,1005 1768.4,1005 1773.7,1005 1779,1005 1784.4,1005 1789.7,1005 1795,1005 1800.4,1005 1805.7,1005 1811,1005 1816.3,1005 1821.7,1005 1827,1005 1832.3,1005 1837.6,1005 1843,1005 1848.3,1005 1853.6,1005 1859,1005 1864.3,1005 1869.6,1005 1874.9,1005 1880.3,1005 1885.6,1005 1890.9,1005 1896.2,1005 1901.6,1005 1901.6,1005" fill="url(#gos)"/>
<polyline points="15.8,951.5 21.1,951.5 26.5,949.3 31.8,950.3 37.1,970 42.4,961.6 47.8,974 53.1,978.1 58.4,976.2 63.8,972.4 69.1,973.2 74.4,984.1 79.7,985.2 85.1,985.6 90.4,991.7 95.7,990.4 101,997.9 106.4,1014.2 111.7,996.2 117,1001.7 122.4,992.8 127.7,1000.2 133,993.6 138.3,975.9 143.7,974.1 149,979.9 154.3,991.9 159.6,1007.1 165,1008.7 170.3,993.4 175.6,1003.5 180.9,996.5 186.3,985.6 191.6,987.2 196.9,989.3 202.3,983.9 207.6,972.8 212.9,960.7 218.2,937.9 223.6,936.5 228.9,944.3 234.2,945 239.5,931.4 244.9,929.6 250.2,924.7 255.5,930.1 260.9,944.3 266.2,948.3 271.5,945.8 276.8,934.2 282.2,934.2 287.5,932.5 292.8,945.6 298.1,950.8 303.5,963.6 308.8,958.4 314.1,982.8 319.5,986.9 324.8,998.6 330.1,1012.3 335.4,997.8 340.8,1000.9 346.1,964.1 351.4,967.4 356.7,967.4 362.1,976.8 367.4,973.1 372.7,966.8 378,975.4 383.4,980.1 388.7,972.7 394,969.3 399.4,974.7 404.7,968.7 410,970.9 415.3,958.1 420.7,962.7 426,944.8 431.3,943.9 436.6,943.5 442,952.8 447.3,971.7 452.6,974.1 458,971.6 463.3,973.3 468.6,973.8 473.9,983.3 479.3,970.4 484.6,979.1 489.9,975.5 495.2,984.9 500.6,995.2 505.9,992.8 511.2,987.3 516.5,972.1 521.9,968.1 527.2,969.9 532.5,964.3 537.9,949.3 543.2,952.9 548.5,959.3 553.8,965.4 559.2,952 564.5,943.7 569.8,938.1 575.1,936.5 580.5,936 585.8,934.3 591.1,937.3 596.5,931.4 601.8,943.2 607.1,931.1 612.4,928 617.8,927.5 623.1,930.7 628.4,952.9 633.7,971.3 639.1,972.6 644.4,970.9 649.7,960.5 655.1,960.5 660.4,954.9 665.7,960.3 671,961.2 676.4,974 681.7,975.2 687,957.3 692.3,950.9 697.7,953.8 703,932.8 708.3,927.5 713.6,924.4 719,926.6 724.3,921.3 729.6,921.3 735,918 740.3,937 745.6,937 750.9,944.9 756.3,934.1 761.6,950.6 766.9,947.6 772.2,941 777.6,928.6 782.9,915.5 788.2,919.7 793.6,939.5 798.9,945.3 804.2,946.2 809.5,951.5 814.9,959.9 820.2,948.5 825.5,919.5 830.8,918.5 836.2,916.4 841.5,915.7 846.8,904.3 852.2,889.2 857.5,894.2 862.8,890.5 868.1,911 873.5,904 878.8,906.4 884.1,910.8 889.4,909.5 894.8,905.6 900.1,901.6 905.4,894.9 910.7,893.9 916.1,902.9 921.4,902.3 926.7,933 932.1,938.7 937.4,927.1 942.7,928.7 948,923.7 953.4,929.4 958.7,927 964,935.2 969.3,934.8 974.7,925.9 980,935.6 985.3,926.7 990.7,926.6 996,922.5 1001.3,945.4 1006.6,948.5 1012,932.9 1017.3,938.7 1022.6,934.1 1027.9,934.1 1033.3,924.7 1038.6,920.3 1043.9,920 1049.2,952.2 1054.6,963.5 1059.9,962.2 1065.2,964.8 1070.6,973 1075.9,974.2 1081.2,956.9 1086.5,954 1091.9,969.6 1097.2,975.3 1102.5,970.6 1107.8,976.8 1113.2,980.3 1118.5,976 1123.8,970.7 1129.2,959.4 1134.5,953.5 1139.8,953.5 1145.1,952.6 1150.5,936.2 1155.8,962.8 1161.1,970.5 1166.4,979.7 1171.8,970.1 1177.1,970.5 1182.4,970.9 1187.8,970.9 1193.1,960 1198.4,943.5 1203.7,946.2 1209.1,931.9 1214.4,930.6 1219.7,947.8 1225,944.1 1230.4,931.7 1235.7,943.7 1241,943 1246.3,939.5 1251.7,940.7 1257,952 1262.3,954.6 1267.7,958.8 1273,947.9 1278.3,943.7 1283.6,956.4 1289,965.3 1294.3,977.7 1299.6,960.9 1304.9,974.5 1310.3,978.8 1315.6,979.1 1320.9,979.1 1326.3,979.5 1331.6,979.5 1336.9,973.3 1342.2,981 1347.6,968.2 1352.9,974.6 1358.2,969.3 1363.5,968.6 1368.9,976.7 1374.2,978.2 1379.5,979.3 1384.9,971.8 1390.2,960.2 1395.5,973.5 1400.8,970.8 1406.2,972.6 1411.5,995.6 1416.8,1005.3 1422.1,1017.6 1427.5,1012.7 1432.8,1013.7 1438.1,1001.6 1443.4,960.1 1448.8,985.2 1454.1,981.3 1459.4,968.9 1464.8,971 1470.1,980.4 1475.4,981.8 1480.7,995.8 1486.1,1000 1491.4,983 1496.7,980 1502,986.9 1507.4,975.8 1512.7,974.7 1518,979.6 1523.4,974.1 1528.7,978.2 1534,962.7 1539.3,971.2 1544.7,971.8 1550,972.5 1555.3,963.6 1560.6,957.9 1566,958.3 1571.3,960.5 1576.6,959.2 1582,971.7 1587.3,978.8 1592.6,979.6 1597.9,979 1603.3,964.4 1608.6,976.2 1613.9,972.5 1619.2,968.8 1624.6,970.8 1629.9,991.3 1635.2,986.7 1640.5,996.4 1645.9,966.1 1651.2,976.3 1656.5,961.9 1661.9,955.5 1667.2,961.4 1672.5,958.2 1677.8,962.1 1683.2,960.5 1688.5,956.9 1693.8,958.7 1699.1,956.1 1704.5,955.6 1709.8,945.4 1715.1,925.6 1720.5,924.8 1725.8,924.2 1731.1,921.8 1736.4,922.5 1741.8,928.2 1747.1,923.9 1752.4,929.2 1757.7,929.9 1763.1,921.1 1768.4,919.6 1773.7,928 1779,940.4 1784.4,938.4 1789.7,928.9 1795,928.1 1800.4,907.8 1805.7,909.4 1811,904.8 1816.3,910.5 1821.7,920.8 1827,916.6 1832.3,921.4 1837.6,920.3 1843,922.9 1848.3,926.5 1853.6,913.6 1859,921.3 1864.3,916.9 1869.6,908.2 1874.9,902.8 1880.3,934.4 1885.6,932.6 1890.9,928.4 1896.2,926.8 1901.6,925.2" fill="none" stroke="#7e57c2" stroke-width="2.1" stroke-linejoin="round" stroke-linecap="round"/>
<polyline points="15.8,948.2 21.1,948.8 26.5,948.9 31.8,949.4 37.1,950.7 42.4,951.2 47.8,952.8 53.1,954.2 58.4,955.7 63.8,956.9 69.1,958.6 74.4,961.9 79.7,965.4 85.1,968.8 90.4,971.6 95.7,974.4 101,977.9 106.4,982.5 111.7,984.3 117,987.2 122.4,988.5 127.7,990.1 133,991.4 138.3,991.6 143.7,991.7 149,991.4 154.3,991.9 159.6,993.4 165,994.6 170.3,994.8 175.6,995.2 180.9,994 186.3,993.2 191.6,992.2 196.9,991.9 202.3,990.8 207.6,989.3 212.9,988.2 218.2,985.6 223.6,982.5 228.9,979.1 234.2,974.7 239.5,969.1 244.9,964.6 250.2,959 255.5,954.2 260.9,951.3 266.2,948.5 271.5,945.4 276.8,941.8 282.2,939.1 287.5,937.1 292.8,937.6 298.1,938.6 303.5,940 308.8,941 314.1,944.6 319.5,948.7 324.8,954 330.1,959.9 335.4,963.7 340.8,967.5 346.1,968.8 351.4,971.1 356.7,973.5 362.1,976.7 367.4,978.6 372.7,979.8 378,980.6 383.4,982.2 388.7,981.5 394,980.2 399.4,978.5 404.7,975.4 410,973.4 415.3,970.4 420.7,970.3 426,968.7 431.3,967 436.6,964.6 442,963.2 447.3,963.5 452.6,963.4 458,962.8 463.3,962.9 468.6,963.2 473.9,963.8 479.3,963.9 484.6,964.5 489.9,965.8 495.2,967.3 500.6,970.9 505.9,974.4 511.2,977.6 516.5,978.9 521.9,978.7 527.2,978.4 532.5,977.8 537.9,976.1 543.2,974.6 548.5,972.9 553.8,972.6 559.2,970.6 564.5,968.4 569.8,965 575.1,960.8 580.5,956.8 585.8,953 591.1,950.5 596.5,947.9 601.8,946 607.1,943.6 612.4,942.1 617.8,940.3 623.1,938.2 628.4,937.3 633.7,938.7 639.1,940.8 644.4,943.1 649.7,944.8 655.1,946.6 660.4,948 665.7,949.7 671,951.8 676.4,954 681.7,957.2 687,959.3 692.3,960.9 697.7,962.6 703,961.2 708.3,958 713.6,954.6 719,951.4 724.3,948.6 729.6,945.8 735,943.2 740.3,941.5 745.6,939.8 750.9,937.7 756.3,934.8 761.6,934.3 766.9,934.1 772.2,933.2 777.6,932.9 782.9,932 788.2,931.7 793.6,932.6 798.9,934.3 804.2,936.1 809.5,938.5 814.9,940.1 820.2,940.9 825.5,939.1 830.8,938 836.2,935.5 841.5,933.3 846.8,930.6 852.2,927.8 857.5,926.3 862.8,924.2 868.1,922.2 873.5,919.2 878.8,916.4 884.1,913.5 889.4,909.9 894.8,906.8 900.1,905.6 905.4,903.9 910.7,902.3 916.1,901.4 921.4,901.2 926.7,904.3 932.1,907.5 937.4,910.1 942.7,911.4 948,912.8 953.4,914.4 958.7,915.6 964,917.4 969.3,919.5 974.7,921.2 980,924.1 985.3,926.5 990.7,928.2 996,929.6 1001.3,930.5 1006.6,931.2 1012,931.6 1017.3,932.4 1022.6,933.1 1027.9,933.4 1033.3,933.3 1038.6,932.2 1043.9,931.2 1049.2,933 1054.6,935 1059.9,937.6 1065.2,940.3 1070.6,943.9 1075.9,946 1081.2,946.6 1086.5,948.1 1091.9,950.3 1097.2,953.2 1102.5,955.8 1107.8,959.5 1113.2,963.8 1118.5,967.8 1123.8,969.1 1129.2,968.8 1134.5,968.2 1139.8,967.4 1145.1,966 1150.5,963.2 1155.8,963.7 1161.1,964.8 1166.4,965.6 1171.8,965.2 1177.1,965.2 1182.4,964.8 1187.8,964.1 1193.1,962.9 1198.4,961 1203.7,960.1 1209.1,958.5 1214.4,956.9 1219.7,956.5 1225,957.1 1230.4,954.9 1235.7,953 1241,950.4 1246.3,948.2 1251.7,946 1257,944.7 1262.3,943.5 1267.7,943.5 1273,943.8 1278.3,943.6 1283.6,945.3 1289,947.8 1294.3,949.9 1299.6,951.1 1304.9,954.2 1310.3,956.7 1315.6,959.3 1320.9,962.1 1326.3,964.9 1331.6,966.9 1336.9,968.2 1342.2,969.8 1347.6,971.2 1352.9,973.4 1358.2,974.3 1363.5,974.6 1368.9,974.5 1374.2,975.8 1379.5,976.1 1384.9,975.6 1390.2,974.2 1395.5,973.9 1400.8,973.2 1406.2,972.7 1411.5,974.3 1416.8,976.1 1422.1,979.6 1427.5,982.3 1432.8,985.5 1438.1,987.8 1443.4,986.7 1448.8,987.2 1454.1,987.3 1459.4,987.1 1464.8,987.9 1470.1,988.4 1475.4,989.1 1480.7,990.8 1486.1,991.1 1491.4,989.5 1496.7,986.8 1502,985 1507.4,982.3 1512.7,980.4 1518,981.7 1523.4,981 1528.7,980.7 1534,980.3 1539.3,980.3 1544.7,979.7 1550,979 1555.3,976.7 1560.6,973.7 1566,972 1571.3,970.6 1576.6,968.6 1582,968.3 1587.3,968.6 1592.6,968.6 1597.9,968.9 1603.3,967.9 1608.6,968.9 1613.9,969 1619.2,968.8 1624.6,968.7 1629.9,970.6 1635.2,972.7 1640.5,975.4 1645.9,975.8 1651.2,977 1656.5,976.3 1661.9,974.7 1667.2,973.4 1672.5,971.9 1677.8,971.7 1683.2,970.6 1688.5,969.5 1693.8,968.8 1699.1,967.7 1704.5,965.2 1709.8,962.2 1715.1,957.2 1720.5,954.2 1725.8,950.5 1731.1,947.6 1736.4,945.3 1741.8,942.9 1747.1,940.4 1752.4,938.1 1757.7,935.9 1763.1,933.3 1768.4,930.6 1773.7,928.6 1779,927.5 1784.4,927 1789.7,927.2 1795,927.4 1800.4,926.3 1805.7,925.4 1811,924.1 1816.3,922.9 1821.7,922.6 1827,921.7 1832.3,921.1 1837.6,921.1 1843,921.3 1848.3,921.2 1853.6,919.3 1859,918.1 1864.3,917.2 1869.6,915.8 1874.9,915.4 1880.3,917.2 1885.6,919.2 1890.9,920.5 1896.2,920.9 1901.6,921.5" fill="none" stroke="#fdd835" stroke-width="2.1" stroke-linejoin="round" stroke-linecap="round"/>
</g>
<text x="35" y="914" font-size="24.5" fill="#131722" textLength="38.8" lengthAdjust="spacingAndGlyphs">RSI</text>
<text x="81.4" y="914" font-size="24.5" fill="#131722" textLength="40.8" lengthAdjust="spacingAndGlyphs">(14,</text>
<text x="129.1" y="914" font-size="24.5" fill="#131722" textLength="68.5" lengthAdjust="spacingAndGlyphs">close)</text>
<text x="211" y="914" font-size="24.5" fill="#7e57c2" textLength="63.1" lengthAdjust="spacingAndGlyphs">67.58</text>
<text x="287.5" y="914" font-size="24.5" fill="#fdd835" textLength="66.4" lengthAdjust="spacingAndGlyphs">69.28</text>
<g clip-path="url(#cd)">
<line x1="20" y1="1171" x2="2117" y2="1171" stroke="#b2b5be" stroke-width="2" stroke-dasharray="10 12"/>
<rect x="15" y="1170.3" width="3" height="1.7" fill="#b2dfdb"/>
<rect x="20" y="1170" width="3" height="1.4" fill="#ff5252"/>
<rect x="25" y="1170" width="3" height="2" fill="#ff5252"/>
<rect x="31" y="1170" width="3" height="2.5" fill="#ff5252"/>
<rect x="36" y="1170" width="3" height="5.4" fill="#ff5252"/>
<rect x="41" y="1170" width="3" height="6" fill="#ff5252"/>
<rect x="47" y="1170" width="3" height="8" fill="#ff5252"/>
<rect x="52" y="1170" width="3" height="9.7" fill="#ff5252"/>
<rect x="57" y="1170" width="3" height="10.1" fill="#ff5252"/>
<rect x="63" y="1170" width="3" height="9.6" fill="#ffcdd2"/>
<rect x="68" y="1170" width="3" height="9" fill="#ffcdd2"/>
<rect x="73" y="1170" width="3" height="9.8" fill="#ff5252"/>
<rect x="79" y="1170" width="3" height="9.9" fill="#ff5252"/>
<rect x="84" y="1170" width="3" height="9.7" fill="#ffcdd2"/>
<rect x="89" y="1170" width="3" height="9.8" fill="#ff5252"/>
<rect x="95" y="1170" width="3" height="9.4" fill="#ffcdd2"/>
<rect x="100" y="1170" width="3" height="9.6" fill="#ff5252"/>
<rect x="105" y="1170" width="3" height="12.3" fill="#ff5252"/>
<rect x="111" y="1170" width="3" height="11.8" fill="#ffcdd2"/>
<rect x="116" y="1170" width="3" height="11.8" fill="#ff5252"/>
<rect x="121" y="1170" width="3" height="10.2" fill="#ffcdd2"/>
<rect x="127" y="1170" width="3" height="10" fill="#ffcdd2"/>
<rect x="132" y="1170" width="3" height="8.5" fill="#ffcdd2"/>
<rect x="137" y="1170" width="3" height="5.1" fill="#ffcdd2"/>
<rect x="143" y="1170" width="3" height="2.4" fill="#ffcdd2"/>
<rect x="148" y="1170" width="3" height="1.2" fill="#ffcdd2"/>
<rect x="153" y="1170" width="3" height="2.2" fill="#ff5252"/>
<rect x="159" y="1170" width="3" height="5.9" fill="#ff5252"/>
<rect x="164" y="1170" width="3" height="8.2" fill="#ff5252"/>
<rect x="169" y="1170" width="3" height="7.3" fill="#ffcdd2"/>
<rect x="175" y="1170" width="3" height="8.6" fill="#ff5252"/>
<rect x="180" y="1170" width="3" height="7.9" fill="#ffcdd2"/>
<rect x="185" y="1170" width="3" height="5.4" fill="#ffcdd2"/>
<rect x="191" y="1170" width="3" height="3.6" fill="#ffcdd2"/>
<rect x="196" y="1170" width="3" height="2.5" fill="#ffcdd2"/>
<rect x="201" y="1170.8" width="3" height="1.2" fill="#26a69a"/>
<rect x="207" y="1168" width="3" height="4" fill="#26a69a"/>
<rect x="212" y="1164.4" width="3" height="7.6" fill="#26a69a"/>
<rect x="217" y="1158.1" width="3" height="13.9" fill="#26a69a"/>
<rect x="223" y="1154.1" width="3" height="17.9" fill="#26a69a"/>
<rect x="228" y="1153.4" width="3" height="18.6" fill="#26a69a"/>
<rect x="233" y="1153.8" width="3" height="18.2" fill="#b2dfdb"/>
<rect x="239" y="1152" width="3" height="20" fill="#26a69a"/>
<rect x="244" y="1151.3" width="3" height="20.7" fill="#26a69a"/>
<rect x="249" y="1150.7" width="3" height="21.3" fill="#26a69a"/>
<rect x="255" y="1152" width="3" height="20" fill="#b2dfdb"/>
<rect x="260" y="1155.6" width="3" height="16.4" fill="#b2dfdb"/>
<rect x="265" y="1159.3" width="3" height="12.7" fill="#b2dfdb"/>
<rect x="271" y="1161.9" width="3" height="10.1" fill="#b2dfdb"/>
<rect x="276" y="1161.9" width="3" height="10.1" fill="#b2dfdb"/>
<rect x="281" y="1162.5" width="3" height="9.5" fill="#b2dfdb"/>
<rect x="286" y="1163.2" width="3" height="8.8" fill="#b2dfdb"/>
<rect x="292" y="1165.7" width="3" height="6.3" fill="#b2dfdb"/>
<rect x="297" y="1168.3" width="3" height="3.7" fill="#b2dfdb"/>
<rect x="302" y="1170" width="3" height="2" fill="#ff5252"/>
<rect x="308" y="1170" width="3" height="3.7" fill="#ff5252"/>
<rect x="313" y="1170" width="3" height="8.8" fill="#ff5252"/>
<rect x="318" y="1170" width="3" height="12.6" fill="#ff5252"/>
<rect x="324" y="1170" width="3" height="17.3" fill="#ff5252"/>
<rect x="329" y="1170" width="3" height="23.8" fill="#ff5252"/>
<rect x="334" y="1170" width="3" height="24.6" fill="#ff5252"/>
<rect x="340" y="1170" width="3" height="24.8" fill="#ff5252"/>
<rect x="345" y="1170" width="3" height="16.7" fill="#ffcdd2"/>
<rect x="350" y="1170" width="3" height="11.5" fill="#ffcdd2"/>
<rect x="356" y="1170" width="3" height="7.6" fill="#ffcdd2"/>
<rect x="361" y="1170" width="3" height="7" fill="#ffcdd2"/>
<rect x="366" y="1170" width="3" height="5.4" fill="#ffcdd2"/>
<rect x="372" y="1170" width="3" height="2.8" fill="#ffcdd2"/>
<rect x="377" y="1170" width="3" height="2.9" fill="#ff5252"/>
<rect x="382" y="1170" width="3" height="3.8" fill="#ff5252"/>
<rect x="388" y="1170" width="3" height="2.7" fill="#ffcdd2"/>
<rect x="393" y="1170" width="3" height="1.2" fill="#ffcdd2"/>
<rect x="398" y="1170" width="3" height="1.1" fill="#ffcdd2"/>
<rect x="404" y="1169.9" width="3" height="2.1" fill="#26a69a"/>
<rect x="409" y="1169.4" width="3" height="2.6" fill="#26a69a"/>
<rect x="414" y="1166.7" width="3" height="5.3" fill="#26a69a"/>
<rect x="420" y="1165.9" width="3" height="6.1" fill="#26a69a"/>
<rect x="425" y="1161.8" width="3" height="10.2" fill="#26a69a"/>
<rect x="430" y="1159.3" width="3" height="12.7" fill="#26a69a"/>
<rect x="436" y="1158.2" width="3" height="13.8" fill="#26a69a"/>
<rect x="441" y="1159.5" width="3" height="12.5" fill="#b2dfdb"/>
<rect x="446" y="1164.5" width="3" height="7.5" fill="#b2dfdb"/>
<rect x="452" y="1168.5" width="3" height="3.5" fill="#b2dfdb"/>
<rect x="457" y="1170.7" width="3" height="1.3" fill="#b2dfdb"/>
<rect x="462" y="1170" width="3" height="2.3" fill="#ff5252"/>
<rect x="468" y="1170" width="3" height="3.4" fill="#ff5252"/>
<rect x="473" y="1170" width="3" height="5.7" fill="#ff5252"/>
<rect x="478" y="1170" width="3" height="4.9" fill="#ffcdd2"/>
<rect x="484" y="1170" width="3" height="5.9" fill="#ff5252"/>
<rect x="489" y="1170" width="3" height="5.7" fill="#ffcdd2"/>
<rect x="494" y="1170" width="3" height="7.1" fill="#ff5252"/>
<rect x="500" y="1170" width="3" height="10" fill="#ff5252"/>
<rect x="505" y="1170" width="3" height="10.9" fill="#ff5252"/>
<rect x="510" y="1170" width="3" height="10.1" fill="#ffcdd2"/>
<rect x="516" y="1170" width="3" height="6.8" fill="#ffcdd2"/>
<rect x="521" y="1170" width="3" height="3.6" fill="#ffcdd2"/>
<rect x="526" y="1170" width="3" height="1.6" fill="#ffcdd2"/>
<rect x="532" y="1169.3" width="3" height="2.7" fill="#26a69a"/>
<rect x="537" y="1165.2" width="3" height="6.8" fill="#26a69a"/>
<rect x="542" y="1163.4" width="3" height="8.6" fill="#26a69a"/>
<rect x="548" y="1163.4" width="3" height="8.6" fill="#b2dfdb"/>
<rect x="553" y="1164.7" width="3" height="7.3" fill="#b2dfdb"/>
<rect x="558" y="1163.5" width="3" height="8.5" fill="#26a69a"/>
<rect x="563" y="1161.5" width="3" height="10.5" fill="#26a69a"/>
<rect x="569" y="1159.5" width="3" height="12.5" fill="#26a69a"/>
<rect x="574" y="1158.5" width="3" height="13.5" fill="#26a69a"/>
<rect x="579" y="1158.4" width="3" height="13.6" fill="#26a69a"/>
<rect x="585" y="1158.7" width="3" height="13.3" fill="#b2dfdb"/>
<rect x="590" y="1159.9" width="3" height="12.1" fill="#b2dfdb"/>
<rect x="595" y="1160.2" width="3" height="11.8" fill="#b2dfdb"/>
<rect x="601" y="1162.4" width="3" height="9.6" fill="#b2dfdb"/>
<rect x="606" y="1162.1" width="3" height="9.9" fill="#26a69a"/>
<rect x="611" y="1161.9" width="3" height="10.1" fill="#26a69a"/>
<rect x="617" y="1162.3" width="3" height="9.7" fill="#b2dfdb"/>
<rect x="622" y="1163.5" width="3" height="8.5" fill="#b2dfdb"/>
<rect x="627" y="1167.2" width="3" height="4.8" fill="#b2dfdb"/>
<rect x="633" y="1170" width="3" height="2.6" fill="#ff5252"/>
<rect x="638" y="1170" width="3" height="6.3" fill="#ff5252"/>
<rect x="643" y="1170" width="3" height="8.3" fill="#ff5252"/>
<rect x="649" y="1170" width="3" height="8" fill="#ffcdd2"/>
<rect x="654" y="1170" width="3" height="7.6" fill="#ffcdd2"/>
<rect x="659" y="1170" width="3" height="6.4" fill="#ffcdd2"/>
<rect x="665" y="1170" width="3" height="6.1" fill="#ffcdd2"/>
<rect x="670" y="1170" width="3" height="5.9" fill="#ffcdd2"/>
<rect x="675" y="1170" width="3" height="7.2" fill="#ff5252"/>
<rect x="681" y="1170" width="3" height="7.9" fill="#ff5252"/>
<rect x="686" y="1170" width="3" height="6" fill="#ffcdd2"/>
<rect x="691" y="1170" width="3" height="3.8" fill="#ffcdd2"/>
<rect x="697" y="1170" width="3" height="2.6" fill="#ffcdd2"/>
<rect x="702" y="1168.6" width="3" height="3.4" fill="#26a69a"/>
<rect x="707" y="1165.2" width="3" height="6.8" fill="#26a69a"/>
<rect x="713" y="1162.8" width="3" height="9.2" fill="#26a69a"/>
<rect x="718" y="1162" width="3" height="10" fill="#26a69a"/>
<rect x="723" y="1161.1" width="3" height="10.9" fill="#26a69a"/>
<rect x="729" y="1161.1" width="3" height="10.9" fill="#b2dfdb"/>
<rect x="734" y="1161.2" width="3" height="10.8" fill="#b2dfdb"/>
<rect x="739" y="1163.6" width="3" height="8.4" fill="#b2dfdb"/>
<rect x="745" y="1165.7" width="3" height="6.3" fill="#b2dfdb"/>
<rect x="750" y="1168.3" width="3" height="3.7" fill="#b2dfdb"/>
<rect x="755" y="1168.6" width="3" height="3.4" fill="#b2dfdb"/>
<rect x="761" y="1170.9" width="3" height="1.1" fill="#b2dfdb"/>
<rect x="766" y="1170" width="3" height="2.1" fill="#ff5252"/>
<rect x="771" y="1170" width="3" height="2.1" fill="#ffcdd2"/>
<rect x="777" y="1170.1" width="3" height="1.9" fill="#26a69a"/>
<rect x="782" y="1166.2" width="3" height="5.8" fill="#26a69a"/>
<rect x="787" y="1164.6" width="3" height="7.4" fill="#26a69a"/>
<rect x="793" y="1166.4" width="3" height="5.6" fill="#b2dfdb"/>
<rect x="798" y="1168.8" width="3" height="3.2" fill="#b2dfdb"/>
<rect x="803" y="1170.8" width="3" height="1.2" fill="#b2dfdb"/>
<rect x="809" y="1170" width="3" height="2.9" fill="#ff5252"/>
<rect x="814" y="1170" width="3" height="5.4" fill="#ff5252"/>
<rect x="819" y="1170" width="3" height="5.3" fill="#ffcdd2"/>
<rect x="825" y="1168.8" width="3" height="3.2" fill="#26a69a"/>
<rect x="830" y="1164.7" width="3" height="7.3" fill="#26a69a"/>
<rect x="835" y="1162.1" width="3" height="9.9" fill="#26a69a"/>
<rect x="840" y="1161" width="3" height="11" fill="#26a69a"/>
<rect x="846" y="1157.2" width="3" height="14.8" fill="#26a69a"/>
<rect x="851" y="1147.3" width="3" height="24.7" fill="#26a69a"/>
<rect x="856" y="1143.4" width="3" height="28.6" fill="#26a69a"/>
<rect x="862" y="1140.2" width="3" height="31.8" fill="#26a69a"/>
<rect x="867" y="1143.6" width="3" height="28.4" fill="#b2dfdb"/>
<rect x="872" y="1143.9" width="3" height="28.1" fill="#b2dfdb"/>
<rect x="878" y="1146.5" width="3" height="25.5" fill="#b2dfdb"/>
<rect x="883" y="1150.9" width="3" height="21.1" fill="#b2dfdb"/>
<rect x="888" y="1154.8" width="3" height="17.2" fill="#b2dfdb"/>
<rect x="894" y="1156.9" width="3" height="15.1" fill="#b2dfdb"/>
<rect x="899" y="1157.8" width="3" height="14.2" fill="#b2dfdb"/>
<rect x="904" y="1155.6" width="3" height="16.4" fill="#26a69a"/>
<rect x="910" y="1155.2" width="3" height="16.8" fill="#26a69a"/>
<rect x="915" y="1158" width="3" height="14" fill="#b2dfdb"/>
<rect x="920" y="1161.1" width="3" height="10.9" fill="#b2dfdb"/>
<rect x="926" y="1169.8" width="3" height="2.2" fill="#b2dfdb"/>
<rect x="931" y="1170" width="3" height="7.4" fill="#ff5252"/>
<rect x="936" y="1170" width="3" height="8.6" fill="#ff5252"/>
<rect x="942" y="1170" width="3" height="10.2" fill="#ff5252"/>
<rect x="947" y="1170" width="3" height="9.7" fill="#ffcdd2"/>
<rect x="952" y="1170" width="3" height="10.9" fill="#ff5252"/>
<rect x="958" y="1170" width="3" height="11.2" fill="#ff5252"/>
<rect x="963" y="1170" width="3" height="13.1" fill="#ff5252"/>
<rect x="968" y="1170" width="3" height="14.4" fill="#ff5252"/>
<rect x="974" y="1170" width="3" height="12.5" fill="#ffcdd2"/>
<rect x="979" y="1170" width="3" height="13.1" fill="#ff5252"/>
<rect x="984" y="1170" width="3" height="10.7" fill="#ffcdd2"/>
<rect x="990" y="1170" width="3" height="9.3" fill="#ffcdd2"/>
<rect x="995" y="1170" width="3" height="7.4" fill="#ffcdd2"/>
<rect x="1000" y="1170" width="3" height="10.6" fill="#ff5252"/>
<rect x="1006" y="1170" width="3" height="13.4" fill="#ff5252"/>
<rect x="1011" y="1170" width="3" height="10.4" fill="#ffcdd2"/>
<rect x="1016" y="1170" width="3" height="9.8" fill="#ffcdd2"/>
<rect x="1022" y="1170" width="3" height="8.1" fill="#ffcdd2"/>
<rect x="1027" y="1170" width="3" height="7.2" fill="#ffcdd2"/>
<rect x="1032" y="1170" width="3" height="3.7" fill="#ffcdd2"/>
<rect x="1038" y="1170.2" width="3" height="1.8" fill="#26a69a"/>
<rect x="1043" y="1168.6" width="3" height="3.4" fill="#26a69a"/>
<rect x="1048" y="1170" width="3" height="4.4" fill="#ff5252"/>
<rect x="1054" y="1170" width="3" height="11.3" fill="#ff5252"/>
<rect x="1059" y="1170" width="3" height="15.3" fill="#ff5252"/>
<rect x="1064" y="1170" width="3" height="18.1" fill="#ff5252"/>
<rect x="1070" y="1170" width="3" height="21.6" fill="#ff5252"/>
<rect x="1075" y="1170" width="3" height="23.4" fill="#ff5252"/>
<rect x="1080" y="1170" width="3" height="19.7" fill="#ffcdd2"/>
<rect x="1086" y="1170" width="3" height="16" fill="#ffcdd2"/>
<rect x="1091" y="1170" width="3" height="17" fill="#ff5252"/>
<rect x="1096" y="1170" width="3" height="18.6" fill="#ff5252"/>
<rect x="1102" y="1170" width="3" height="17.8" fill="#ffcdd2"/>
<rect x="1107" y="1170" width="3" height="18.3" fill="#ff5252"/>
<rect x="1112" y="1170" width="3" height="18.7" fill="#ff5252"/>
<rect x="1118" y="1170" width="3" height="17.4" fill="#ffcdd2"/>
<rect x="1123" y="1170" width="3" height="14.6" fill="#ffcdd2"/>
<rect x="1128" y="1170" width="3" height="9.8" fill="#ffcdd2"/>
<rect x="1133" y="1170" width="3" height="4.9" fill="#ffcdd2"/>
<rect x="1139" y="1170" width="3" height="1.7" fill="#ffcdd2"/>
<rect x="1144" y="1169.4" width="3" height="2.6" fill="#26a69a"/>
<rect x="1149" y="1164" width="3" height="8" fill="#26a69a"/>
<rect x="1155" y="1166.5" width="3" height="5.5" fill="#b2dfdb"/>
<rect x="1160" y="1170.3" width="3" height="1.7" fill="#b2dfdb"/>
<rect x="1165" y="1170" width="3" height="5.4" fill="#ff5252"/>
<rect x="1171" y="1170" width="3" height="6.1" fill="#ff5252"/>
<rect x="1176" y="1170" width="3" height="6.4" fill="#ff5252"/>
<rect x="1181" y="1170" width="3" height="6.4" fill="#ffcdd2"/>
<rect x="1187" y="1170" width="3" height="6.1" fill="#ffcdd2"/>
<rect x="1192" y="1170" width="3" height="3.4" fill="#ffcdd2"/>
<rect x="1197" y="1167.4" width="3" height="4.6" fill="#26a69a"/>
<rect x="1203" y="1164.3" width="3" height="7.7" fill="#26a69a"/>
<rect x="1208" y="1158.4" width="3" height="13.6" fill="#26a69a"/>
<rect x="1213" y="1155" width="3" height="17" fill="#26a69a"/>
<rect x="1219" y="1157" width="3" height="15" fill="#b2dfdb"/>
<rect x="1224" y="1158.1" width="3" height="13.9" fill="#b2dfdb"/>
<rect x="1229" y="1155.6" width="3" height="16.4" fill="#26a69a"/>
<rect x="1235" y="1157.4" width="3" height="14.6" fill="#b2dfdb"/>
<rect x="1240" y="1159.3" width="3" height="12.7" fill="#b2dfdb"/>
<rect x="1245" y="1160.2" width="3" height="11.8" fill="#b2dfdb"/>
<rect x="1251" y="1161.8" width="3" height="10.2" fill="#b2dfdb"/>
<rect x="1256" y="1165.7" width="3" height="6.3" fill="#b2dfdb"/>
<rect x="1261" y="1169.2" width="3" height="2.8" fill="#b2dfdb"/>
<rect x="1267" y="1170" width="3" height="2.6" fill="#ff5252"/>
<rect x="1272" y="1170" width="3" height="2.4" fill="#ffcdd2"/>
<rect x="1277" y="1170" width="3" height="1.4" fill="#ffcdd2"/>
<rect x="1283" y="1170" width="3" height="3.4" fill="#ff5252"/>
<rect x="1288" y="1170" width="3" height="6.7" fill="#ff5252"/>
<rect x="1293" y="1170" width="3" height="11.7" fill="#ff5252"/>
<rect x="1299" y="1170" width="3" height="10.7" fill="#ffcdd2"/>
<rect x="1304" y="1170" width="3" height="13.5" fill="#ff5252"/>
<rect x="1309" y="1170" width="3" height="16" fill="#ff5252"/>
<rect x="1315" y="1170" width="3" height="17" fill="#ff5252"/>
<rect x="1320" y="1170" width="3" height="16.9" fill="#ffcdd2"/>
<rect x="1325" y="1170" width="3" height="16.1" fill="#ffcdd2"/>
<rect x="1331" y="1170" width="3" height="14.9" fill="#ffcdd2"/>
<rect x="1336" y="1170" width="3" height="12.3" fill="#ffcdd2"/>
<rect x="1341" y="1170" width="3" height="11.7" fill="#ffcdd2"/>
<rect x="1347" y="1170" width="3" height="8.5" fill="#ffcdd2"/>
<rect x="1352" y="1170" width="3" height="7.4" fill="#ffcdd2"/>
<rect x="1357" y="1170" width="3" height="5.4" fill="#ffcdd2"/>
<rect x="1363" y="1170" width="3" height="3.6" fill="#ffcdd2"/>
<rect x="1368" y="1170" width="3" height="3.9" fill="#ff5252"/>
<rect x="1373" y="1170" width="3" height="4.1" fill="#ff5252"/>
<rect x="1379" y="1170" width="3" height="4.1" fill="#ff5252"/>
<rect x="1384" y="1170" width="3" height="2.8" fill="#ffcdd2"/>
<rect x="1389" y="1169.9" width="3" height="2.1" fill="#26a69a"/>
<rect x="1395" y="1170.4" width="3" height="1.6" fill="#b2dfdb"/>
<rect x="1400" y="1170.2" width="3" height="1.8" fill="#26a69a"/>
<rect x="1405" y="1170.2" width="3" height="1.8" fill="#b2dfdb"/>
<rect x="1410" y="1170" width="3" height="5.1" fill="#ff5252"/>
<rect x="1416" y="1170" width="3" height="10.8" fill="#ff5252"/>
<rect x="1421" y="1170" width="3" height="18.6" fill="#ff5252"/>
<rect x="1426" y="1170" width="3" height="21.7" fill="#ff5252"/>
<rect x="1432" y="1170" width="3" height="22.7" fill="#ff5252"/>
<rect x="1437" y="1170" width="3" height="20.1" fill="#ffcdd2"/>
<rect x="1442" y="1170" width="3" height="8.5" fill="#ffcdd2"/>
<rect x="1448" y="1170" width="3" height="8.9" fill="#ff5252"/>
<rect x="1453" y="1170" width="3" height="7.3" fill="#ffcdd2"/>
<rect x="1458" y="1170" width="3" height="2" fill="#ffcdd2"/>
<rect x="1464" y="1169" width="3" height="3" fill="#26a69a"/>
<rect x="1469" y="1170.1" width="3" height="1.9" fill="#b2dfdb"/>
<rect x="1474" y="1170" width="3" height="1.1" fill="#ff5252"/>
<rect x="1480" y="1170" width="3" height="7.2" fill="#ff5252"/>
<rect x="1485" y="1170" width="3" height="12.4" fill="#ff5252"/>
<rect x="1490" y="1170" width="3" height="10.1" fill="#ffcdd2"/>
<rect x="1496" y="1170" width="3" height="6.9" fill="#ffcdd2"/>
<rect x="1501" y="1170" width="3" height="6.9" fill="#ff5252"/>
<rect x="1506" y="1170" width="3" height="3" fill="#ffcdd2"/>
<rect x="1512" y="1169.7" width="3" height="2.3" fill="#26a69a"/>
<rect x="1517" y="1169" width="3" height="3" fill="#26a69a"/>
<rect x="1522" y="1166.7" width="3" height="5.3" fill="#26a69a"/>
<rect x="1528" y="1166.4" width="3" height="5.6" fill="#26a69a"/>
<rect x="1533" y="1161.7" width="3" height="10.3" fill="#26a69a"/>
<rect x="1538" y="1161.5" width="3" height="10.5" fill="#26a69a"/>
<rect x="1544" y="1161.7" width="3" height="10.3" fill="#b2dfdb"/>
<rect x="1549" y="1162.2" width="3" height="9.8" fill="#b2dfdb"/>
<rect x="1554" y="1160.2" width="3" height="11.8" fill="#26a69a"/>
<rect x="1560" y="1157.6" width="3" height="14.4" fill="#26a69a"/>
<rect x="1565" y="1156.5" width="3" height="15.5" fill="#26a69a"/>
<rect x="1570" y="1156.8" width="3" height="15.2" fill="#b2dfdb"/>
<rect x="1576" y="1157.2" width="3" height="14.8" fill="#b2dfdb"/>
<rect x="1581" y="1160.9" width="3" height="11.1" fill="#b2dfdb"/>
<rect x="1586" y="1165.4" width="3" height="6.6" fill="#b2dfdb"/>
<rect x="1592" y="1168.6" width="3" height="3.4" fill="#b2dfdb"/>
<rect x="1597" y="1170.4" width="3" height="1.6" fill="#b2dfdb"/>
<rect x="1602" y="1168.6" width="3" height="3.4" fill="#26a69a"/>
<rect x="1608" y="1170.3" width="3" height="1.7" fill="#b2dfdb"/>
<rect x="1613" y="1170.4" width="3" height="1.6" fill="#b2dfdb"/>
<rect x="1618" y="1169.7" width="3" height="2.3" fill="#26a69a"/>
<rect x="1624" y="1169.5" width="3" height="2.5" fill="#26a69a"/>
<rect x="1629" y="1170" width="3" height="4.7" fill="#ff5252"/>
<rect x="1634" y="1170" width="3" height="6.8" fill="#ff5252"/>
<rect x="1640" y="1170" width="3" height="10.6" fill="#ff5252"/>
<rect x="1645" y="1170" width="3" height="5.7" fill="#ffcdd2"/>
<rect x="1650" y="1170" width="3" height="5.3" fill="#ffcdd2"/>
<rect x="1656" y="1170.6" width="3" height="1.4" fill="#26a69a"/>
<rect x="1661" y="1165.5" width="3" height="6.5" fill="#26a69a"/>
<rect x="1666" y="1164" width="3" height="8" fill="#26a69a"/>
<rect x="1672" y="1162.3" width="3" height="9.7" fill="#26a69a"/>
<rect x="1677" y="1162.6" width="3" height="9.4" fill="#b2dfdb"/>
<rect x="1682" y="1162.7" width="3" height="9.3" fill="#b2dfdb"/>
<rect x="1687" y="1162" width="3" height="10" fill="#26a69a"/>
<rect x="1693" y="1162.4" width="3" height="9.6" fill="#b2dfdb"/>
<rect x="1698" y="1162.4" width="3" height="9.6" fill="#26a69a"/>
<rect x="1703" y="1162.6" width="3" height="9.4" fill="#b2dfdb"/>
<rect x="1709" y="1160.8" width="3" height="11.2" fill="#26a69a"/>
<rect x="1714" y="1153.9" width="3" height="18.1" fill="#26a69a"/>
<rect x="1719" y="1150.1" width="3" height="21.9" fill="#26a69a"/>
<rect x="1725" y="1148.7" width="3" height="23.3" fill="#26a69a"/>
<rect x="1730" y="1148.3" width="3" height="23.7" fill="#26a69a"/>
<rect x="1735" y="1149.5" width="3" height="22.5" fill="#b2dfdb"/>
<rect x="1741" y="1152.4" width="3" height="19.6" fill="#b2dfdb"/>
<rect x="1746" y="1154.2" width="3" height="17.8" fill="#b2dfdb"/>
<rect x="1751" y="1157.2" width="3" height="14.8" fill="#b2dfdb"/>
<rect x="1757" y="1160.2" width="3" height="11.8" fill="#b2dfdb"/>
<rect x="1762" y="1160.6" width="3" height="11.4" fill="#b2dfdb"/>
<rect x="1767" y="1161.4" width="3" height="10.6" fill="#b2dfdb"/>
<rect x="1773" y="1163.8" width="3" height="8.2" fill="#b2dfdb"/>
<rect x="1778" y="1167.7" width="3" height="4.3" fill="#b2dfdb"/>
<rect x="1783" y="1170.4" width="3" height="1.6" fill="#b2dfdb"/>
<rect x="1789" y="1170.3" width="3" height="1.7" fill="#26a69a"/>
<rect x="1794" y="1170.5" width="3" height="1.5" fill="#b2dfdb"/>
<rect x="1799" y="1164.5" width="3" height="7.5" fill="#26a69a"/>
<rect x="1805" y="1161.7" width="3" height="10.3" fill="#26a69a"/>
<rect x="1810" y="1159" width="3" height="13" fill="#26a69a"/>
<rect x="1815" y="1159.2" width="3" height="12.8" fill="#b2dfdb"/>
<rect x="1821" y="1161.8" width="3" height="10.2" fill="#b2dfdb"/>
<rect x="1826" y="1163.1" width="3" height="8.9" fill="#b2dfdb"/>
<rect x="1831" y="1165.5" width="3" height="6.5" fill="#b2dfdb"/>
<rect x="1837" y="1167.5" width="3" height="4.5" fill="#b2dfdb"/>
<rect x="1842" y="1169.8" width="3" height="2.2" fill="#b2dfdb"/>
<rect x="1847" y="1170" width="3" height="2.3" fill="#ff5252"/>
<rect x="1853" y="1170.8" width="3" height="1.2" fill="#26a69a"/>
<rect x="1858" y="1170" width="3" height="1.4" fill="#ff5252"/>
<rect x="1863" y="1170" width="3" height="1" fill="#ffcdd2"/>
<rect x="1869" y="1168.4" width="3" height="3.6" fill="#26a69a"/>
<rect x="1874" y="1165.3" width="3" height="6.7" fill="#26a69a"/>
<rect x="1879" y="1168.8" width="3" height="3.2" fill="#b2dfdb"/>
<rect x="1885" y="1170" width="3" height="1.2" fill="#ff5252"/>
<rect x="1890" y="1170" width="3" height="2.1" fill="#ff5252"/>
<rect x="1895" y="1170" width="3" height="2.6" fill="#ff5252"/>
<rect x="1901" y="1170" width="3" height="3" fill="#ff5252"/>
<polyline points="15.8,1151.4 21.1,1152.7 26.5,1153.5 31.8,1154.4 37.1,1158.3 42.4,1160.2 47.8,1164 53.1,1167.8 58.4,1170.6 63.8,1172.2 69.1,1173.6 74.4,1176.5 79.7,1178.9 85.1,1180.8 90.4,1183.2 95.7,1184.8 101,1187.3 106.4,1192.8 111.7,1194.9 117,1197.6 122.4,1198.4 127.7,1200.4 133,1200.8 138.3,1198.4 143.7,1196 149,1194.9 154.3,1196.2 159.6,1201.2 165,1205.3 170.3,1206 175.6,1209.1 180.9,1210.1 186.3,1208.8 191.6,1207.6 196.9,1206.9 202.3,1205.1 207.6,1201.6 212.9,1196.4 218.2,1186.8 223.6,1178.6 228.9,1173.5 234.2,1169.6 239.5,1163 244.9,1157.4 250.2,1151.7 255.5,1148.2 260.9,1148 266.2,1148.8 271.5,1149.1 276.8,1146.8 282.2,1145.4 287.5,1144.1 292.8,1145.2 298.1,1147.2 303.5,1151.1 308.8,1153.5 314.1,1160.6 319.5,1167.3 324.8,1176 330.1,1188.2 335.4,1194.9 340.8,1201.1 346.1,1196.9 351.4,1194.4 356.7,1192.1 362.1,1193 367.4,1192.5 372.7,1190.3 378,1190.9 383.4,1192.6 388.7,1191.9 394,1190.4 399.4,1190.4 404.7,1188.9 410,1188 415.3,1184.2 420.7,1182.2 426,1175.7 431.3,1170.3 436.6,1166 442,1164.5 447.3,1167.8 452.6,1171.2 458,1173.2 463.3,1175.2 468.6,1176.9 473.9,1180.4 479.3,1180.6 484.6,1182.8 489.9,1183.7 495.2,1186.6 500.6,1191.8 505.9,1195.2 511.2,1196.7 516.5,1194.8 521.9,1192.2 527.2,1190.4 532.5,1187.7 537.9,1182.2 543.2,1178.4 548.5,1176.6 553.8,1176.2 559.2,1173.2 564.5,1168.8 569.8,1163.9 575.1,1159.7 580.5,1156.5 585.8,1153.7 591.1,1152.1 596.5,1149.8 601.8,1149.8 607.1,1147.3 612.4,1144.8 617.8,1143 623.1,1142.3 628.4,1145.1 633.7,1150.9 639.1,1155.9 644.4,1159.8 649.7,1161.2 655.1,1162.4 660.4,1162.6 665.7,1163.6 671,1164.6 676.4,1167.4 681.7,1169.8 687,1169.2 692.3,1167.7 697.7,1166.9 703,1162.3 708.3,1157.5 713.6,1153 719,1150 724.3,1146.6 729.6,1144.2 735,1141.8 740.3,1142.4 745.6,1143.2 750.9,1145 756.3,1144.8 761.6,1147 766.9,1148.5 772.2,1148.7 777.6,1146.6 782.9,1141.4 788.2,1138.3 793.6,1138.9 798.9,1140.8 804.2,1142.7 809.5,1145.2 814.9,1148.9 820.2,1149.9 825.5,1142.8 830.8,1137.1 836.2,1132.3 841.5,1128.6 846.8,1121.4 852.2,1105.5 857.5,1094.8 862.8,1083.9 868.1,1080.5 873.5,1073.9 878.8,1070.4 884.1,1069.8 889.4,1069.6 894.8,1068.3 900.1,1065.8 905.4,1059.7 910.7,1055.4 916.1,1055 921.4,1055.6 926.7,1063.9 932.1,1073.2 937.4,1076.3 942.7,1080.1 948,1081.9 953.4,1085.5 958.7,1088.3 964,1093.3 969.3,1098 974.7,1098.9 980,1102.5 985.3,1102.6 990.7,1103.3 996,1102.9 1001.3,1108.5 1006.6,1114.5 1012,1113.8 1017.3,1115.4 1022.6,1115.4 1027.9,1116.1 1033.3,1113.3 1038.6,1109.6 1043.9,1107.4 1049.2,1114.1 1054.6,1123.5 1059.9,1131.1 1065.2,1138.2 1070.6,1146.8 1075.9,1154.3 1081.2,1155.3 1086.5,1155.3 1091.9,1160.3 1097.2,1166.2 1102.5,1169.7 1107.8,1174.5 1113.2,1179.4 1118.5,1182.1 1123.8,1182.7 1129.2,1180.1 1134.5,1176.2 1139.8,1173.1 1145.1,1170.4 1150.5,1163.3 1155.8,1164.6 1161.1,1168.3 1166.4,1174.4 1171.8,1176.5 1177.1,1178.1 1182.4,1179.5 1187.8,1180.4 1193.1,1178.3 1198.4,1171.4 1203.7,1166.7 1209.1,1157.6 1214.4,1150.2 1219.7,1148.8 1225,1146.6 1230.4,1140.2 1235.7,1138.7 1241,1137.6 1246.3,1135.8 1251.7,1135.1 1257,1137.7 1262.3,1140.7 1267.7,1144.5 1273,1144.7 1278.3,1143.8 1283.6,1146.4 1289,1151.1 1294.3,1158.8 1299.6,1160.3 1304.9,1166.1 1310.3,1172.4 1315.6,1177.4 1320.9,1181.2 1326.3,1184.2 1331.6,1186.5 1336.9,1186.7 1342.2,1188.8 1347.6,1187.5 1352.9,1188 1358.2,1187 1363.5,1185.9 1368.9,1186.9 1374.2,1187.9 1379.5,1188.7 1384.9,1187.8 1390.2,1184.7 1395.5,1185 1400.8,1184.5 1406.2,1184.4 1411.5,1190.4 1416.8,1198.5 1422.1,1210.7 1427.5,1218.9 1432.8,1225.4 1438.1,1227.5 1443.4,1217.8 1448.8,1220.2 1454.1,1220.1 1459.4,1215.1 1464.8,1211.5 1470.1,1212.5 1475.4,1213.5 1480.7,1221.1 1486.1,1229.1 1491.4,1229.1 1496.7,1227.4 1502,1228.9 1507.4,1225.6 1512.7,1221.9 1518,1220.7 1523.4,1217.3 1528.7,1215.8 1534,1208.8 1539.3,1206.3 1544.7,1204.1 1550,1202.4 1555.3,1197.7 1560.6,1191.8 1566,1187.1 1571.3,1183.8 1576.6,1180.7 1582,1181.9 1587.3,1185.1 1592.6,1187.6 1597.9,1189.3 1603.3,1186.9 1608.6,1188.4 1613.9,1188.4 1619.2,1187.3 1624.6,1186.8 1629.9,1192.9 1635.2,1196.4 1640.5,1202.7 1645.9,1198.9 1651.2,1199.6 1656.5,1194.8 1661.9,1188.3 1667.2,1185.1 1672.5,1181.3 1677.8,1179.5 1683.2,1177.4 1688.5,1174.5 1693.8,1172.8 1699.1,1170.6 1704.5,1168.8 1709.8,1164.3 1715.1,1153.2 1720.5,1144.2 1725.8,1137.2 1731.1,1131.1 1736.4,1126.9 1741.8,1125.2 1747.1,1122.7 1752.4,1122.3 1757.7,1122.7 1763.1,1120.5 1768.4,1118.8 1773.7,1119.4 1779,1122.5 1784.4,1125 1789.7,1124.8 1795,1124.8 1800.4,1117.2 1805.7,1112.1 1811,1106.5 1816.3,1103.7 1821.7,1104 1827,1103.2 1832.3,1104.2 1837.6,1105.4 1843,1107.4 1848.3,1110.3 1853.6,1108.7 1859,1109.4 1864.3,1109.1 1869.6,1105.8 1874.9,1101.3 1880.3,1104.3 1885.6,1106.7 1890.9,1107.8 1896.2,1108.8 1901.6,1109.7" fill="none" stroke="#2962ff" stroke-width="2.1" stroke-linejoin="round" stroke-linecap="round"/>
<polyline points="15.8,1152.1 21.1,1152.2 26.5,1152.5 31.8,1152.9 37.1,1154 42.4,1155.2 47.8,1157 53.1,1159.1 58.4,1161.4 63.8,1163.6 69.1,1165.6 74.4,1167.8 79.7,1170 85.1,1172.2 90.4,1174.4 95.7,1176.5 101,1178.6 106.4,1181.5 111.7,1184.2 117,1186.8 122.4,1189.1 127.7,1191.4 133,1193.3 138.3,1194.3 143.7,1194.6 149,1194.7 154.3,1195 159.6,1196.2 165,1198 170.3,1199.6 175.6,1201.5 180.9,1203.2 186.3,1204.3 191.6,1205 196.9,1205.4 202.3,1205.3 207.6,1204.6 212.9,1202.9 218.2,1199.7 223.6,1195.5 228.9,1191.1 234.2,1186.8 239.5,1182 244.9,1177.1 250.2,1172 255.5,1167.3 260.9,1163.4 266.2,1160.5 271.5,1158.2 276.8,1155.9 282.2,1153.8 287.5,1151.9 292.8,1150.5 298.1,1149.9 303.5,1150.1 308.8,1150.8 314.1,1152.8 319.5,1155.7 324.8,1159.7 330.1,1165.4 335.4,1171.3 340.8,1177.3 346.1,1181.2 351.4,1183.8 356.7,1185.5 362.1,1187 367.4,1188.1 372.7,1188.5 378,1189 383.4,1189.7 388.7,1190.2 394,1190.2 399.4,1190.2 404.7,1190 410,1189.6 415.3,1188.5 420.7,1187.2 426,1184.9 431.3,1182 436.6,1178.8 442,1175.9 447.3,1174.3 452.6,1173.7 458,1173.6 463.3,1173.9 468.6,1174.5 473.9,1175.7 479.3,1176.7 484.6,1177.9 489.9,1179.1 495.2,1180.6 500.6,1182.8 505.9,1185.3 511.2,1187.6 516.5,1189 521.9,1189.7 527.2,1189.8 532.5,1189.4 537.9,1187.9 543.2,1186 548.5,1184.1 553.8,1182.6 559.2,1180.7 564.5,1178.3 569.8,1175.4 575.1,1172.3 580.5,1169.1 585.8,1166 591.1,1163.3 596.5,1160.6 601.8,1158.4 607.1,1156.2 612.4,1153.9 617.8,1151.7 623.1,1149.8 628.4,1148.9 633.7,1149.3 639.1,1150.6 644.4,1152.4 649.7,1154.2 655.1,1155.8 660.4,1157.2 665.7,1158.5 671,1159.7 676.4,1161.2 681.7,1162.9 687,1164.2 692.3,1164.9 697.7,1165.3 703,1164.7 708.3,1163.3 713.6,1161.2 719,1159 724.3,1156.5 729.6,1154 735,1151.6 740.3,1149.7 745.6,1148.4 750.9,1147.7 756.3,1147.2 761.6,1147.1 766.9,1147.4 772.2,1147.7 777.6,1147.4 782.9,1146.2 788.2,1144.6 793.6,1143.5 798.9,1143 804.2,1142.9 809.5,1143.4 814.9,1144.5 820.2,1145.6 825.5,1145 830.8,1143.4 836.2,1141.2 841.5,1138.7 846.8,1135.2 852.2,1129.3 857.5,1122.4 862.8,1114.7 868.1,1107.8 873.5,1101.1 878.8,1094.9 884.1,1089.9 889.4,1085.8 894.8,1082.3 900.1,1079 905.4,1075.2 910.7,1071.2 916.1,1068 921.4,1065.5 926.7,1065.2 932.1,1066.8 937.4,1068.7 942.7,1071 948,1073.1 953.4,1075.6 958.7,1078.2 964,1081.2 969.3,1084.6 974.7,1087.4 980,1090.4 985.3,1092.9 990.7,1095 996,1096.5 1001.3,1098.9 1006.6,1102 1012,1104.4 1017.3,1106.6 1022.6,1108.4 1027.9,1109.9 1033.3,1110.6 1038.6,1110.4 1043.9,1109.8 1049.2,1110.6 1054.6,1113.2 1059.9,1116.8 1065.2,1121.1 1070.6,1126.2 1075.9,1131.8 1081.2,1136.5 1086.5,1140.3 1091.9,1144.3 1097.2,1148.7 1102.5,1152.9 1107.8,1157.2 1113.2,1161.6 1118.5,1165.7 1123.8,1169.1 1129.2,1171.3 1134.5,1172.3 1139.8,1172.4 1145.1,1172 1150.5,1170.3 1155.8,1169.2 1161.1,1169 1166.4,1170.1 1171.8,1171.3 1177.1,1172.7 1182.4,1174.1 1187.8,1175.3 1193.1,1175.9 1198.4,1175 1203.7,1173.4 1209.1,1170.2 1214.4,1166.2 1219.7,1162.7 1225,1159.5 1230.4,1155.6 1235.7,1152.2 1241,1149.3 1246.3,1146.6 1251.7,1144.3 1257,1143 1262.3,1142.5 1267.7,1142.9 1273,1143.3 1278.3,1143.4 1283.6,1144 1289,1145.4 1294.3,1148.1 1299.6,1150.5 1304.9,1153.6 1310.3,1157.4 1315.6,1161.4 1320.9,1165.3 1326.3,1169.1 1331.6,1172.6 1336.9,1175.4 1342.2,1178.1 1347.6,1180 1352.9,1181.6 1358.2,1182.7 1363.5,1183.3 1368.9,1184 1374.2,1184.8 1379.5,1185.6 1384.9,1186 1390.2,1185.8 1395.5,1185.6 1400.8,1185.4 1406.2,1185.2 1411.5,1186.2 1416.8,1188.7 1422.1,1193.1 1427.5,1198.3 1432.8,1203.7 1438.1,1208.5 1443.4,1210.3 1448.8,1212.3 1454.1,1213.9 1459.4,1214.1 1464.8,1213.6 1470.1,1213.4 1475.4,1213.4 1480.7,1214.9 1486.1,1217.8 1491.4,1220 1496.7,1221.5 1502,1223 1507.4,1223.5 1512.7,1223.2 1518,1222.7 1523.4,1221.6 1528.7,1220.4 1534,1218.1 1539.3,1215.7 1544.7,1213.4 1550,1211.2 1555.3,1208.5 1560.6,1205.2 1566,1201.6 1571.3,1198 1576.6,1194.6 1582,1192 1587.3,1190.6 1592.6,1190 1597.9,1189.9 1603.3,1189.3 1608.6,1189.1 1613.9,1189 1619.2,1188.6 1624.6,1188.3 1629.9,1189.2 1635.2,1190.6 1640.5,1193 1645.9,1194.2 1651.2,1195.3 1656.5,1195.2 1661.9,1193.8 1667.2,1192.1 1672.5,1189.9 1677.8,1187.8 1683.2,1185.8 1688.5,1183.5 1693.8,1181.4 1699.1,1179.2 1704.5,1177.1 1709.8,1174.6 1715.1,1170.3 1720.5,1165.1 1725.8,1159.5 1731.1,1153.8 1736.4,1148.4 1741.8,1143.8 1747.1,1139.6 1752.4,1136.1 1757.7,1133.4 1763.1,1130.8 1768.4,1128.4 1773.7,1126.6 1779,1125.8 1784.4,1125.7 1789.7,1125.5 1795,1125.3 1800.4,1123.7 1805.7,1121.4 1811,1118.4 1816.3,1115.5 1821.7,1113.2 1827,1111.2 1832.3,1109.8 1837.6,1108.9 1843,1108.6 1848.3,1109 1853.6,1108.9 1859,1109 1864.3,1109 1869.6,1108.4 1874.9,1107 1880.3,1106.4 1885.6,1106.5 1890.9,1106.7 1896.2,1107.2 1901.6,1107.7" fill="none" stroke="#f23645" stroke-width="2.1" stroke-linejoin="round" stroke-linecap="round"/>
</g>
<text x="34.6" y="1074.3" font-size="24.5" fill="#131722" textLength="72.1" lengthAdjust="spacingAndGlyphs">MACD</text>
<text x="114.5" y="1074.3" font-size="24.5" fill="#131722" textLength="39" lengthAdjust="spacingAndGlyphs">(12,</text>
<text x="162.1" y="1074.3" font-size="24.5" fill="#131722" textLength="36.6" lengthAdjust="spacingAndGlyphs">26,</text>
<text x="205.3" y="1074.3" font-size="24.5" fill="#131722" textLength="68.2" lengthAdjust="spacingAndGlyphs">close)</text>
<text x="286.8" y="1074.3" font-size="24.5" fill="#ff5252" textLength="88.4" lengthAdjust="spacingAndGlyphs">−124.01</text>
<text x="388.4" y="1074.3" font-size="24.5" fill="#2962ff" textLength="96.3" lengthAdjust="spacingAndGlyphs">3,713.59</text>
<text x="498.3" y="1074.3" font-size="24.5" fill="#f23645" textLength="97.6" lengthAdjust="spacingAndGlyphs">3,837.60</text>
<line x1="20" y1="872.5" x2="2288" y2="872.5" stroke="#dfe0e5" stroke-width="2"/>
<line x1="20" y1="1032.8" x2="2288" y2="1032.8" stroke="#dfe0e5" stroke-width="2"/>
<line x1="20" y1="1249.3" x2="2288" y2="1249.3" stroke="#dfe0e5" stroke-width="2"/>
<line x1="2117" y1="54" x2="2117" y2="1304" stroke="#dfe0e5" stroke-width="2"/>
<g clip-path="url(#ca)">
<text x="2134.7" y="130.5" font-size="24.5" fill="#131722" textLength="133.9" lengthAdjust="spacingAndGlyphs">120,000.00</text>
<text x="2134.6" y="200" font-size="24.5" fill="#131722" textLength="133.9" lengthAdjust="spacingAndGlyphs">115,000.00</text>
<text x="2133.6" y="619" font-size="24.5" fill="#131722" textLength="120.5" lengthAdjust="spacingAndGlyphs">85,000.00</text>
<text x="2133.6" y="689" font-size="24.5" fill="#131722" textLength="120.5" lengthAdjust="spacingAndGlyphs">80,000.00</text>
<text x="2133.4" y="758.5" font-size="24.5" fill="#131722" textLength="120.8" lengthAdjust="spacingAndGlyphs">75,000.00</text>
<text x="2133.4" y="828" font-size="24.5" fill="#131722" textLength="120.8" lengthAdjust="spacingAndGlyphs">70,000.00</text>
</g>
<path d="M2118,214 H2275.8 a4,4 0 0 1 4,4 V243.8 a4,4 0 0 1 -4,4 H2118 Z" fill="#673ab7"/>
<text x="2134.8" y="238.5" font-size="24.5" fill="#fff" textLength="134" lengthAdjust="spacingAndGlyphs">111,856.73</text>
<path d="M2118,247.7 H2275.8 a4,4 0 0 1 4,4 V306.1 a4,4 0 0 1 -4,4 H2118 Z" fill="#26a69a"/>
<text x="2134.9" y="271.7" font-size="24.5" fill="#fff" textLength="134" lengthAdjust="spacingAndGlyphs">109,867.99</text>
<text x="2134.9" y="300" font-size="24.5" fill="#fff" textLength="103.8" lengthAdjust="spacingAndGlyphs" fill-opacity="0.7">14:02:58</text>
<path d="M2118,310.1 H2275.8 a4,4 0 0 1 4,4 V339.9 a4,4 0 0 1 -4,4 H2118 Z" fill="#2196f3"/>
<text x="2134.9" y="334.6" font-size="24.5" fill="#fff" textLength="134" lengthAdjust="spacingAndGlyphs">109,179.59</text>
<path d="M2118,343.9 H2275.8 a4,4 0 0 1 4,4 V373.7 a4,4 0 0 1 -4,4 H2118 Z" fill="#673ab7"/>
<text x="2134.9" y="368.4" font-size="24.5" fill="#fff" textLength="134" lengthAdjust="spacingAndGlyphs">106,935.29</text>
<path d="M2118,377.7 H2275.8 a4,4 0 0 1 4,4 V407.5 a4,4 0 0 1 -4,4 H2118 Z" fill="#4caf50"/>
<text x="2134.9" y="402.2" font-size="24.5" fill="#fff" textLength="134" lengthAdjust="spacingAndGlyphs">101,390.89</text>
<path d="M2118,411.8 H2275.8 a4,4 0 0 1 4,4 V441.6 a4,4 0 0 1 -4,4 H2118 Z" fill="#673ab7"/>
<text x="2134.9" y="436.3" font-size="24.5" fill="#fff" textLength="133.9" lengthAdjust="spacingAndGlyphs">100,762.38</text>
<path d="M2118,445.9 H2262 a4,4 0 0 1 4,4 V475.7 a4,4 0 0 1 -4,4 H2118 Z" fill="#ff2828"/>
<text x="2134" y="470.4" font-size="24.5" fill="#fff" textLength="119.9" lengthAdjust="spacingAndGlyphs">99,099.46</text>
<path d="M2118,479.9 H2262 a4,4 0 0 1 4,4 V509.6 a4,4 0 0 1 -4,4 H2118 Z" fill="#2962ff"/>
<text x="2134" y="504.4" font-size="24.5" fill="#fff" textLength="119.9" lengthAdjust="spacingAndGlyphs">95,011.45</text>
<path d="M2118,525.1 H2262 a4,4 0 0 1 4,4 V554.9 a4,4 0 0 1 -4,4 H2118 Z" fill="#9c27b0"/>
<text x="2134" y="549.6" font-size="24.5" fill="#fff" textLength="119.9" lengthAdjust="spacingAndGlyphs">90,071.25</text>
<path d="M2118,559 H2262 a4,4 0 0 1 4,4 V588.8 a4,4 0 0 1 -4,4 H2118 Z" fill="#ff5252"/>
<text x="2134.1" y="583.5" font-size="24.5" fill="#fff" textLength="119.8" lengthAdjust="spacingAndGlyphs">89,304.45</text>
<path d="M2118,742 H2262 a4,4 0 0 1 4,4 V771.8 a4,4 0 0 1 -4,4 H2118 Z" fill="#673ab7"/>
<text x="2133.9" y="766.5" font-size="24.5" fill="#fff" textLength="120.1" lengthAdjust="spacingAndGlyphs">74,476.98</text>
<path d="M2118,837.6 H2212 a4,4 0 0 1 4,4 V867.4 a4,4 0 0 1 -4,4 H2118 Z" fill="#26a69a"/>
<text x="2133.7" y="862.1" font-size="24.5" fill="#fff" textLength="71.3" lengthAdjust="spacingAndGlyphs">9.21K</text>
<path d="M2118,875.7 H2207.8 a4,4 0 0 1 4,4 V904.7 a4,4 0 0 1 -4,4 H2118 Z" fill="#fdd835"/>
<text x="2133.6" y="899.8" font-size="24.5" fill="#131722" textLength="68.2" lengthAdjust="spacingAndGlyphs">69.28</text>
<path d="M2118,908.6 H2207.8 a4,4 0 0 1 4,4 V938.4 a4,4 0 0 1 -4,4 H2118 Z" fill="#7e57c2"/>
<text x="2133.6" y="933.1" font-size="24.5" fill="#fff" textLength="68.2" lengthAdjust="spacingAndGlyphs">67.58</text>
<text x="2134.4" y="992.7" font-size="24.5" fill="#131722" textLength="67.3" lengthAdjust="spacingAndGlyphs">40.00</text>
<g clip-path="url(#ca3)">
<text x="2133.8" y="1047.3" font-size="24.5" fill="#131722" textLength="105.2" lengthAdjust="spacingAndGlyphs">8,000.00</text>
</g>
<path d="M2118,1059.1 H2246 a4,4 0 0 1 4,4 V1088.9 a4,4 0 0 1 -4,4 H2118 Z" fill="#f23645"/>
<text x="2134" y="1083.6" font-size="24.5" fill="#fff" textLength="105.1" lengthAdjust="spacingAndGlyphs">3,837.60</text>
<path d="M2118,1092.6 H2246 a4,4 0 0 1 4,4 V1122.4 a4,4 0 0 1 -4,4 H2118 Z" fill="#2962ff"/>
<text x="2134" y="1117.1" font-size="24.5" fill="#fff" textLength="105.3" lengthAdjust="spacingAndGlyphs">3,713.59</text>
<path d="M2118,1156.3 H2237.7 a4,4 0 0 1 4,4 V1186.1 a4,4 0 0 1 -4,4 H2118 Z" fill="#ff5252"/>
<text x="2133.7" y="1180.8" font-size="24.5" fill="#fff" textLength="97" lengthAdjust="spacingAndGlyphs">−124.01</text>
<text x="2133.7" y="1242.6" font-size="24.5" fill="#131722" textLength="120.4" lengthAdjust="spacingAndGlyphs">−4,000.00</text>
<rect x="2124.6" y="62" width="155.4" height="52" rx="8" fill="#fff" stroke="#f1f2f4" stroke-width="1.6"/>
<text x="2141.4" y="96.3" font-size="24.5" fill="#131722" textLength="65.2" lengthAdjust="spacingAndGlyphs">USDT</text>
<text x="128.5" y="1285.9" font-size="24.5" fill="#131722" textLength="31.8" lengthAdjust="spacingAndGlyphs">Jul</text>
<text x="287.5" y="1285.9" font-size="24.5" fill="#131722" textLength="44.3" lengthAdjust="spacingAndGlyphs">Aug</text>
<text x="451.8" y="1285.9" font-size="24.5" fill="#131722" textLength="44.3" lengthAdjust="spacingAndGlyphs">Sep</text>
<text x="614" y="1285.9" font-size="24.5" fill="#131722" textLength="38.7" lengthAdjust="spacingAndGlyphs">Oct</text>
<text x="775.9" y="1285.9" font-size="24.5" fill="#131722" textLength="44.3" lengthAdjust="spacingAndGlyphs">Nov</text>
<text x="936" y="1285.9" font-size="24.5" fill="#131722" textLength="44.3" lengthAdjust="spacingAndGlyphs">Dec</text>
<text x="1096.2" y="1285.9" font-size="24.5" fill="#131722" font-weight="bold" textLength="55.4" lengthAdjust="spacingAndGlyphs">2025</text>
<text x="1267.1" y="1285.9" font-size="24.5" fill="#131722" textLength="42.9" lengthAdjust="spacingAndGlyphs">Feb</text>
<text x="1416" y="1285.9" font-size="24.5" fill="#131722" textLength="42.9" lengthAdjust="spacingAndGlyphs">Mar</text>
<text x="1584.2" y="1285.9" font-size="24.5" fill="#131722" textLength="38.7" lengthAdjust="spacingAndGlyphs">Apr</text>
<text x="1738.7" y="1285.9" font-size="24.5" fill="#131722" textLength="47" lengthAdjust="spacingAndGlyphs">May</text>
<text x="1908.9" y="1285.9" font-size="24.5" fill="#131722" textLength="40.1" lengthAdjust="spacingAndGlyphs">Jun</text>
<text x="2072.8" y="1285.9" font-size="24.5" fill="#131722" textLength="31.8" lengthAdjust="spacingAndGlyphs">Jul</text>
<g fill="#0f1116"><path d="M20.1,1328.2 H35.7 V1347.2 H27.1 V1337.1 H20.1 Z"/><circle cx="41.8" cy="1332.1" r="3.8"/><path d="M47.2,1328.2 H58.9 L52.6,1347.2 H42.2 Z"/></g>
<text x="67" y="1348.3" font-size="25.5" fill="#0f1116" textLength="147.4" lengthAdjust="spacingAndGlyphs">TradingView</text>
</svg>
</body></html>
